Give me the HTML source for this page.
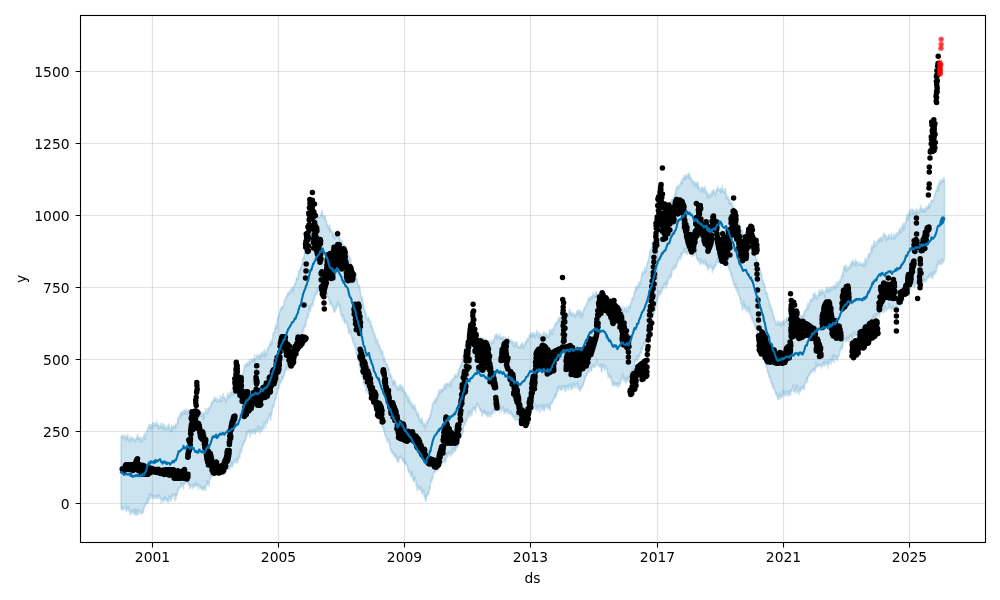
<!DOCTYPE html>
<html><head><meta charset="utf-8"><title>forecast</title>
<style>html,body{margin:0;padding:0;background:#fff}svg{display:block}text{font-family:"DejaVu Sans","Liberation Sans",sans-serif;font-size:13.89px;fill:#000}</style>
</head><body>
<svg width="1000" height="600" viewBox="0 0 1000 600">
<rect width="1000" height="600" fill="#fff"/>
<path d="M121.0 437.8 121.2 435.7 121.5 436.3 121.8 438.0 122.0 436.2 122.2 436.5 122.5 438.1 122.8 434.8 123.0 435.5 123.2 437.7 123.5 437.1 123.8 436.2 124.0 435.6 124.2 438.3 124.5 439.8 124.8 439.3 125.0 440.7 125.2 438.5 125.5 436.2 125.8 435.3 126.0 438.0 126.2 437.9 126.5 437.4 126.8 439.6 127.0 436.5 127.2 437.0 127.5 437.1 127.8 434.3 128.0 437.0 128.2 440.0 128.5 441.2 128.8 440.3 129.0 437.3 129.2 437.8 129.5 439.1 129.8 442.1 130.0 440.2 130.2 439.5 130.5 440.7 130.8 440.8 131.0 436.8 131.2 436.6 131.5 438.5 131.8 439.1 132.0 439.0 132.2 437.6 132.5 439.3 132.8 438.2 133.0 438.9 133.2 441.3 133.5 440.7 133.8 440.9 134.0 439.3 134.2 438.2 134.5 439.6 134.8 440.1 135.0 440.4 135.2 438.9 135.5 439.5 135.8 442.5 136.0 440.8 136.2 439.6 136.5 437.2 136.8 437.5 137.0 437.6 137.2 439.1 137.5 434.5 137.8 434.3 138.0 435.7 138.2 439.4 138.5 437.6 138.8 438.8 139.0 437.8 139.2 437.6 139.5 438.6 139.8 437.1 140.0 441.7 140.2 439.4 140.5 442.0 140.8 437.1 141.0 441.2 141.2 438.7 141.5 438.1 141.8 441.0 142.0 441.0 142.2 441.8 142.5 441.3 142.8 437.8 143.0 438.8 143.2 437.2 143.5 436.6 143.8 437.4 144.0 436.1 144.2 437.0 144.5 433.2 144.8 439.3 145.0 436.9 145.2 439.6 145.5 438.7 145.8 433.8 146.0 434.3 146.2 433.9 146.5 431.9 146.8 430.9 147.0 430.4 147.2 430.9 147.5 430.7 147.8 427.6 148.0 429.1 148.2 429.6 148.5 429.1 148.8 424.8 149.0 424.2 149.2 425.5 149.5 426.2 149.8 426.8 150.0 425.8 150.2 424.5 150.5 428.3 150.8 425.9 151.0 429.7 151.2 424.4 151.5 425.9 151.8 425.1 152.0 429.0 152.2 427.8 152.5 424.5 152.8 422.3 153.0 427.9 153.2 425.7 153.5 423.4 153.8 423.1 154.0 425.6 154.2 425.3 154.5 426.2 154.8 425.0 155.0 423.4 155.2 423.0 155.5 425.3 155.8 424.9 156.0 423.8 156.2 425.0 156.5 420.9 156.8 426.0 157.0 425.4 157.2 424.2 157.5 425.5 157.8 428.3 158.0 427.7 158.2 423.7 158.5 424.4 158.8 425.6 159.0 428.7 159.2 427.5 159.5 426.5 159.8 427.2 160.0 425.9 160.2 425.5 160.5 427.4 160.8 423.5 161.0 428.4 161.2 427.0 161.5 425.7 161.8 425.3 162.0 424.0 162.2 427.6 162.5 426.6 162.8 427.3 163.0 429.5 163.2 423.3 163.5 425.1 163.8 424.7 164.0 428.0 164.2 426.0 164.5 424.8 164.8 427.3 165.0 428.1 165.2 430.1 165.5 428.0 165.8 428.0 166.0 427.6 166.2 427.2 166.5 429.4 166.8 428.8 167.0 425.8 167.2 426.3 167.5 429.5 167.8 427.7 168.0 428.0 168.2 425.1 168.5 426.6 168.8 424.1 169.0 424.3 169.2 427.8 169.5 429.5 169.8 427.5 170.0 426.8 170.2 429.5 170.5 431.2 170.8 428.6 171.0 428.5 171.2 427.0 171.5 424.9 171.8 426.2 172.0 427.8 172.2 431.8 172.5 429.6 172.8 427.7 173.0 428.1 173.2 427.0 173.5 425.4 173.8 425.9 174.0 426.1 174.2 426.9 174.5 428.5 174.8 429.4 175.0 425.3 175.2 426.2 175.5 423.9 175.8 423.7 176.0 426.6 176.2 427.3 176.5 425.1 176.8 425.0 177.0 424.1 177.2 423.1 177.5 421.1 177.8 417.8 178.0 423.2 178.2 418.2 178.5 419.9 178.8 418.9 179.0 416.1 179.2 418.9 179.5 416.5 179.8 414.6 180.0 413.9 180.2 412.5 180.5 413.7 180.8 417.0 181.0 414.3 181.2 412.3 181.5 414.6 181.8 413.3 182.0 414.8 182.2 411.9 182.5 411.0 182.8 412.1 183.0 411.6 183.2 414.7 183.5 413.9 183.8 414.2 184.0 409.9 184.2 410.9 184.5 411.5 184.8 410.3 185.0 413.3 185.2 409.8 185.5 409.2 185.8 411.3 186.0 412.5 186.2 410.2 186.5 414.4 186.8 413.2 187.0 412.5 187.2 414.5 187.5 409.7 187.8 411.1 188.0 411.3 188.2 411.9 188.5 413.9 188.8 410.1 189.0 410.2 189.2 413.5 189.5 412.6 189.8 414.1 190.0 413.7 190.2 415.0 190.5 414.7 190.8 415.1 191.0 413.5 191.2 412.7 191.5 417.1 191.8 413.1 192.0 413.3 192.2 415.0 192.5 413.9 192.8 415.7 193.0 413.4 193.2 416.2 193.5 413.2 193.8 412.8 194.0 414.5 194.2 416.1 194.5 416.4 194.8 412.5 195.0 413.0 195.2 412.6 195.5 409.3 195.8 413.8 196.0 412.2 196.2 415.0 196.5 414.6 196.8 414.5 197.0 414.9 197.2 416.6 197.5 417.1 197.8 416.4 198.0 421.2 198.2 417.0 198.5 414.9 198.8 415.6 199.0 416.9 199.2 415.7 199.5 414.8 199.8 414.2 200.0 413.5 200.2 412.2 200.5 413.5 200.8 414.2 201.0 412.4 201.2 416.2 201.5 414.7 201.8 413.2 202.0 412.9 202.2 416.0 202.5 412.0 202.8 415.0 203.0 418.9 203.2 414.9 203.5 413.1 203.8 414.3 204.0 414.6 204.2 418.9 204.5 413.3 204.8 413.7 205.0 412.2 205.2 412.4 205.5 408.1 205.8 412.9 206.0 413.3 206.2 411.5 206.5 413.8 206.8 412.6 207.0 412.4 207.2 408.8 207.5 413.7 207.8 412.8 208.0 411.9 208.2 409.3 208.5 408.3 208.8 407.2 209.0 409.2 209.2 409.6 209.5 407.9 209.8 409.5 210.0 406.9 210.2 408.0 210.5 404.9 210.8 406.3 211.0 406.6 211.2 403.2 211.5 403.2 211.8 401.7 212.0 402.8 212.2 401.1 212.5 403.4 212.8 402.1 213.0 402.5 213.2 401.5 213.5 399.2 213.8 398.7 214.0 401.5 214.2 399.9 214.5 401.5 214.8 396.4 215.0 398.4 215.2 401.0 215.5 398.3 215.8 399.2 216.0 397.8 216.2 399.4 216.5 400.2 216.8 401.7 217.0 399.9 217.2 398.4 217.5 401.2 217.8 402.1 218.0 401.8 218.2 400.8 218.5 401.9 218.8 399.5 219.0 399.2 219.2 399.8 219.5 399.8 219.8 401.5 220.0 400.9 220.2 395.6 220.5 401.7 220.8 396.4 221.0 398.2 221.2 401.2 221.5 399.7 221.8 401.0 222.0 400.9 222.2 398.8 222.5 395.4 222.8 397.7 223.0 396.0 223.2 393.5 223.5 397.3 223.8 397.7 224.0 397.4 224.2 396.3 224.5 398.7 224.8 398.2 225.0 399.9 225.2 398.4 225.5 401.5 225.8 398.9 226.0 401.4 226.2 402.8 226.5 398.5 226.8 400.1 227.0 395.2 227.2 397.9 227.5 397.4 227.8 394.3 228.0 393.0 228.2 395.3 228.5 394.8 228.8 396.7 229.0 395.9 229.2 397.4 229.5 397.8 229.8 395.1 230.0 392.0 230.2 396.0 230.5 394.8 230.8 393.7 231.0 395.6 231.2 392.9 231.5 392.1 231.8 392.8 232.0 389.4 232.2 393.6 232.5 391.8 232.8 395.1 233.0 392.9 233.2 391.7 233.5 392.7 233.8 391.3 234.0 392.7 234.2 393.4 234.5 394.2 234.8 392.5 235.0 393.0 235.2 392.8 235.5 391.4 235.8 390.9 236.0 390.3 236.2 388.5 236.5 387.2 236.8 390.4 237.0 390.8 237.2 389.7 237.5 385.7 237.8 390.0 238.0 388.9 238.2 384.5 238.5 384.3 238.8 385.6 239.0 383.0 239.2 384.3 239.5 381.0 239.8 380.2 240.0 382.0 240.2 379.2 240.5 379.9 240.8 379.3 241.0 376.7 241.2 381.0 241.5 377.4 241.8 377.0 242.0 376.1 242.2 376.0 242.5 374.3 242.8 376.5 243.0 373.6 243.2 374.4 243.5 371.1 243.8 370.0 244.0 369.1 244.2 369.3 244.5 364.4 244.8 367.3 245.0 364.8 245.2 367.1 245.5 364.7 245.8 366.7 246.0 364.2 246.2 363.6 246.5 365.3 246.8 363.8 247.0 365.6 247.2 362.4 247.5 365.2 247.8 363.1 248.0 362.1 248.2 365.7 248.5 362.9 248.8 365.2 249.0 362.8 249.2 359.7 249.5 363.1 249.8 362.4 250.0 363.8 250.2 363.7 250.5 361.6 250.8 361.9 251.0 360.6 251.2 358.9 251.5 361.5 251.8 361.4 252.0 360.2 252.2 359.3 252.5 360.6 252.8 358.9 253.0 362.0 253.2 358.8 253.5 358.6 253.8 358.6 254.0 358.1 254.2 358.4 254.5 359.0 254.8 354.6 255.0 361.7 255.2 359.3 255.5 359.0 255.8 358.0 256.0 358.0 256.2 359.3 256.5 359.0 256.8 355.4 257.0 356.2 257.2 354.0 257.5 356.9 257.8 355.5 258.0 355.8 258.2 356.2 258.5 357.6 258.8 358.9 259.0 357.2 259.2 355.1 259.5 357.8 259.8 354.1 260.0 354.9 260.2 354.5 260.5 354.5 260.8 357.9 261.0 354.8 261.2 354.7 261.5 352.4 261.8 353.5 262.0 352.0 262.2 354.0 262.5 356.6 262.8 356.3 263.0 356.7 263.2 355.7 263.5 353.0 263.8 353.4 264.0 350.2 264.2 353.5 264.5 352.7 264.8 355.5 265.0 349.0 265.2 357.4 265.5 353.3 265.8 351.1 266.0 353.6 266.2 353.6 266.5 353.5 266.8 355.1 267.0 350.1 267.2 350.8 267.5 349.1 267.8 347.1 268.0 348.6 268.2 350.0 268.5 346.9 268.8 347.8 269.0 347.9 269.2 346.8 269.5 343.1 269.8 345.5 270.0 343.2 270.2 344.2 270.5 342.6 270.8 346.2 271.0 340.1 271.2 343.3 271.5 340.5 271.8 344.4 272.0 344.3 272.2 338.7 272.5 339.7 272.8 336.1 273.0 333.0 273.2 333.3 273.5 334.7 273.8 334.7 274.0 332.2 274.2 333.0 274.5 331.1 274.8 330.2 275.0 327.1 275.2 328.0 275.5 328.7 275.8 324.5 276.0 329.0 276.2 328.1 276.5 324.5 276.8 327.6 277.0 322.3 277.2 320.5 277.5 319.5 277.8 317.3 278.0 320.0 278.2 316.3 278.5 315.6 278.8 315.3 279.0 317.1 279.2 314.1 279.5 311.5 279.8 311.7 280.0 312.3 280.2 308.7 280.5 310.9 280.8 309.5 281.0 307.6 281.2 306.9 281.5 309.1 281.8 307.4 282.0 309.1 282.2 307.5 282.5 306.0 282.8 306.0 283.0 307.6 283.2 306.4 283.5 306.2 283.8 305.1 284.0 302.2 284.2 301.0 284.5 300.1 284.8 300.1 285.0 300.1 285.2 298.5 285.5 299.7 285.8 297.0 286.0 297.3 286.2 298.0 286.5 298.2 286.8 295.1 287.0 296.9 287.2 296.7 287.5 292.7 287.8 295.1 288.0 292.3 288.2 293.2 288.5 294.6 288.8 291.7 289.0 294.3 289.2 292.7 289.5 293.3 289.8 293.7 290.0 290.6 290.2 289.1 290.5 292.3 290.8 291.3 291.0 291.2 291.2 289.6 291.5 289.3 291.8 288.4 292.0 287.7 292.2 288.1 292.5 287.4 292.8 289.1 293.0 292.9 293.2 287.1 293.5 286.2 293.8 290.0 294.0 286.2 294.2 285.6 294.5 284.3 294.8 284.2 295.0 285.3 295.2 283.6 295.5 281.3 295.8 283.4 296.0 282.8 296.2 278.8 296.5 278.9 296.8 277.0 297.0 278.7 297.2 277.8 297.5 279.8 297.8 276.3 298.0 279.5 298.2 274.3 298.5 271.2 298.8 271.7 299.0 272.9 299.2 273.3 299.5 269.2 299.8 271.4 300.0 269.0 300.2 267.7 300.5 267.2 300.8 269.9 301.0 266.8 301.2 266.9 301.5 264.3 301.8 265.6 302.0 265.0 302.2 264.1 302.5 259.3 302.8 259.4 303.0 257.6 303.2 258.3 303.5 258.3 303.8 256.3 304.0 258.4 304.2 255.0 304.5 252.5 304.8 252.1 305.0 249.6 305.2 247.9 305.5 251.1 305.8 250.8 306.0 247.6 306.2 248.6 306.5 250.5 306.8 245.8 307.0 246.2 307.2 246.0 307.5 244.4 307.8 244.8 308.0 244.0 308.2 243.7 308.5 240.9 308.8 241.7 309.0 239.9 309.2 237.2 309.5 239.1 309.8 236.0 310.0 233.1 310.2 233.1 310.5 235.6 310.8 235.9 311.0 234.1 311.2 232.4 311.5 233.7 311.8 234.8 312.0 230.8 312.2 228.9 312.5 230.2 312.8 228.6 313.0 229.9 313.2 229.3 313.5 228.3 313.8 227.8 314.0 225.4 314.2 226.0 314.5 225.7 314.8 227.3 315.0 223.4 315.2 224.2 315.5 223.2 315.8 223.5 316.0 222.1 316.2 217.1 316.5 223.5 316.8 220.0 317.0 218.6 317.2 218.6 317.5 218.0 317.8 216.4 318.0 218.3 318.2 218.3 318.5 217.3 318.8 217.6 319.0 216.9 319.2 217.9 319.5 216.2 319.8 216.8 320.0 216.0 320.2 214.2 320.5 216.7 320.8 215.0 321.0 213.6 321.2 215.8 321.5 215.3 321.8 210.2 322.0 211.0 322.2 211.6 322.5 213.5 322.8 216.5 323.0 215.9 323.2 215.9 323.5 217.9 323.8 216.8 324.0 215.8 324.2 216.6 324.5 218.7 324.8 215.6 325.0 216.8 325.2 215.5 325.5 219.8 325.8 220.3 326.0 221.7 326.2 220.1 326.5 221.2 326.8 223.5 327.0 223.7 327.2 226.4 327.5 224.9 327.8 224.8 328.0 226.0 328.2 227.5 328.5 229.0 328.8 225.8 329.0 229.3 329.2 225.9 329.5 226.7 329.8 224.9 330.0 230.3 330.2 231.3 330.5 228.6 330.8 230.5 331.0 230.8 331.2 229.4 331.5 232.4 331.8 232.0 332.0 231.3 332.2 232.2 332.5 234.7 332.8 236.5 333.0 233.2 333.2 234.5 333.5 235.5 333.8 231.7 334.0 236.3 334.2 238.4 334.5 235.1 334.8 239.3 335.0 237.1 335.2 238.1 335.5 236.2 335.8 233.7 336.0 232.3 336.2 237.5 336.5 230.9 336.8 232.4 337.0 233.5 337.2 232.2 337.5 231.9 337.8 229.7 338.0 232.9 338.2 232.9 338.5 233.3 338.8 237.7 339.0 239.2 339.2 236.4 339.5 237.5 339.8 238.9 340.0 241.6 340.2 238.9 340.5 243.0 340.8 241.9 341.0 241.6 341.2 240.9 341.5 242.6 341.8 242.8 342.0 244.6 342.2 241.0 342.5 245.9 342.8 244.8 343.0 245.7 343.2 245.8 343.5 246.2 343.8 249.6 344.0 244.8 344.2 247.4 344.5 247.0 344.8 247.3 345.0 247.6 345.2 249.1 345.5 246.9 345.8 250.3 346.0 252.3 346.2 251.9 346.5 248.4 346.8 250.5 347.0 252.0 347.2 255.5 347.5 254.7 347.8 254.4 348.0 254.2 348.2 256.1 348.5 254.1 348.8 256.7 349.0 257.5 349.2 258.1 349.5 256.3 349.8 259.2 350.0 261.3 350.2 261.4 350.5 261.3 350.8 257.7 351.0 265.3 351.2 267.6 351.5 267.5 351.8 266.8 352.0 266.9 352.2 271.3 352.5 266.5 352.8 267.4 353.0 269.8 353.2 270.0 353.5 266.2 353.8 271.2 354.0 271.8 354.2 269.5 354.5 273.7 354.8 274.7 355.0 272.6 355.2 275.9 355.5 279.3 355.8 279.7 356.0 275.4 356.2 277.4 356.5 279.1 356.8 281.0 357.0 278.2 357.2 279.3 357.5 283.1 357.8 283.2 358.0 285.3 358.2 284.5 358.5 286.9 358.8 284.8 359.0 285.7 359.2 285.8 359.5 285.6 359.8 289.2 360.0 287.5 360.2 290.1 360.5 293.5 360.8 294.6 361.0 296.3 361.2 295.9 361.5 297.3 361.8 300.5 362.0 298.8 362.2 300.4 362.5 296.6 362.8 300.5 363.0 304.3 363.2 303.1 363.5 304.8 363.8 308.1 364.0 306.4 364.2 310.6 364.5 310.8 364.8 310.4 365.0 308.9 365.2 315.0 365.5 311.9 365.8 312.2 366.0 317.0 366.2 314.7 366.5 318.1 366.8 318.0 367.0 319.2 367.2 318.2 367.5 319.7 367.8 320.2 368.0 316.5 368.2 318.5 368.5 317.6 368.8 317.7 369.0 317.9 369.2 320.8 369.5 321.3 369.8 321.4 370.0 322.1 370.2 322.3 370.5 321.1 370.8 321.2 371.0 324.9 371.2 327.0 371.5 324.8 371.8 325.0 372.0 327.7 372.2 331.1 372.5 330.2 372.8 328.6 373.0 327.7 373.2 331.0 373.5 333.1 373.8 333.3 374.0 334.7 374.2 332.8 374.5 336.1 374.8 337.8 375.0 333.9 375.2 335.0 375.5 339.1 375.8 342.0 376.0 339.6 376.2 339.4 376.5 341.4 376.8 340.2 377.0 338.3 377.2 340.8 377.5 344.3 377.8 340.6 378.0 340.8 378.2 345.2 378.5 345.1 378.8 347.2 379.0 344.5 379.2 345.0 379.5 346.9 379.8 345.5 380.0 347.1 380.2 347.8 380.5 350.1 380.8 348.7 381.0 349.5 381.2 351.5 381.5 353.6 381.8 353.1 382.0 351.7 382.2 351.4 382.5 351.5 382.8 351.0 383.0 354.5 383.2 356.0 383.5 360.3 383.8 359.1 384.0 360.0 384.2 361.8 384.5 356.9 384.8 359.8 385.0 360.3 385.2 362.5 385.5 361.3 385.8 364.8 386.0 364.5 386.2 364.8 386.5 365.4 386.8 363.5 387.0 367.3 387.2 364.9 387.5 364.1 387.8 369.1 388.0 369.2 388.2 368.0 388.5 367.5 388.8 368.8 389.0 370.8 389.2 369.3 389.5 374.8 389.8 375.7 390.0 374.0 390.2 376.6 390.5 373.7 390.8 373.7 391.0 377.1 391.2 377.1 391.5 376.8 391.8 376.4 392.0 377.4 392.2 380.8 392.5 379.8 392.8 385.3 393.0 380.0 393.2 381.6 393.5 381.2 393.8 381.2 394.0 383.5 394.2 380.0 394.5 381.5 394.8 380.7 395.0 381.7 395.2 385.2 395.5 382.3 395.8 383.3 396.0 386.6 396.2 385.1 396.5 387.1 396.8 389.8 397.0 387.3 397.2 387.5 397.5 385.6 397.8 389.7 398.0 389.2 398.2 386.6 398.5 388.1 398.8 388.2 399.0 387.1 399.2 386.9 399.5 390.4 399.8 384.5 400.0 384.4 400.2 386.7 400.5 386.1 400.8 384.4 401.0 388.0 401.2 388.8 401.5 391.2 401.8 386.9 402.0 386.5 402.2 388.4 402.5 385.6 402.8 387.6 403.0 388.3 403.2 390.2 403.5 389.0 403.8 391.3 404.0 389.4 404.2 394.0 404.5 392.4 404.8 391.6 405.0 392.3 405.2 393.4 405.5 393.0 405.8 392.2 406.0 395.8 406.2 395.5 406.5 393.2 406.8 396.3 407.0 395.2 407.2 397.5 407.5 396.2 407.8 400.6 408.0 397.5 408.2 400.9 408.5 396.2 408.8 399.8 409.0 398.5 409.2 403.1 409.5 400.5 409.8 399.1 410.0 399.2 410.2 400.7 410.5 403.5 410.8 402.7 411.0 402.7 411.2 405.0 411.5 404.8 411.8 402.0 412.0 405.3 412.2 408.4 412.5 404.0 412.8 404.2 413.0 406.1 413.2 406.4 413.5 406.1 413.8 406.9 414.0 409.2 414.2 408.0 414.5 405.1 414.8 404.8 415.0 405.6 415.2 409.3 415.5 408.2 415.8 408.5 416.0 412.3 416.2 410.7 416.5 410.6 416.8 412.5 417.0 415.3 417.2 413.0 417.5 415.7 417.8 415.2 418.0 416.8 418.2 412.5 418.5 413.6 418.8 415.0 419.0 419.9 419.2 420.9 419.5 417.3 419.8 419.6 420.0 421.5 420.2 420.1 420.5 422.4 420.8 419.6 421.0 418.5 421.2 422.6 421.5 423.0 421.8 418.2 422.0 417.8 422.2 420.6 422.5 419.6 422.8 423.5 423.0 422.4 423.2 426.1 423.5 423.9 423.8 424.4 424.0 425.5 424.2 424.0 424.5 423.0 424.8 427.0 425.0 423.6 425.2 429.2 425.5 425.7 425.8 425.5 426.0 426.5 426.2 424.7 426.5 424.1 426.8 420.5 427.0 420.8 427.2 422.3 427.5 423.2 427.8 420.9 428.0 422.3 428.2 418.9 428.5 419.5 428.8 420.1 429.0 418.2 429.2 417.4 429.5 417.1 429.8 417.1 430.0 418.0 430.2 413.8 430.5 414.8 430.8 415.5 431.0 411.8 431.2 410.6 431.5 409.4 431.8 410.8 432.0 404.7 432.2 408.1 432.5 405.2 432.8 403.2 433.0 403.9 433.2 404.1 433.5 401.4 433.8 401.8 434.0 402.2 434.2 400.8 434.5 401.4 434.8 403.0 435.0 401.5 435.2 397.9 435.5 400.0 435.8 402.2 436.0 398.1 436.2 400.0 436.5 399.1 436.8 399.9 437.0 396.5 437.2 396.8 437.5 399.2 437.8 396.2 438.0 393.0 438.2 395.4 438.5 394.4 438.8 396.1 439.0 390.1 439.2 392.1 439.5 394.1 439.8 389.5 440.0 391.1 440.2 391.7 440.5 391.2 440.8 391.0 441.0 392.6 441.2 389.2 441.5 389.3 441.8 392.1 442.0 388.9 442.2 390.3 442.5 389.0 442.8 389.9 443.0 389.1 443.2 389.0 443.5 390.8 443.8 387.6 444.0 384.8 444.2 386.0 444.5 389.1 444.8 388.2 445.0 386.0 445.2 384.2 445.5 385.6 445.8 388.7 446.0 387.2 446.2 387.1 446.5 382.7 446.8 383.0 447.0 384.0 447.2 383.3 447.5 384.6 447.8 384.0 448.0 385.7 448.2 383.6 448.5 383.4 448.8 385.8 449.0 385.9 449.2 385.9 449.5 384.9 449.8 384.8 450.0 381.5 450.2 380.9 450.5 382.1 450.8 384.1 451.0 387.4 451.2 384.6 451.5 381.6 451.8 381.5 452.0 378.7 452.2 379.9 452.5 379.4 452.8 379.3 453.0 379.0 453.2 378.9 453.5 378.9 453.8 377.2 454.0 378.7 454.2 375.7 454.5 378.4 454.8 377.1 455.0 378.5 455.2 375.5 455.5 375.1 455.8 374.0 456.0 376.7 456.2 376.3 456.5 375.2 456.8 376.2 457.0 377.3 457.2 376.5 457.5 375.4 457.8 372.5 458.0 373.3 458.2 372.4 458.5 369.2 458.8 374.8 459.0 369.3 459.2 370.6 459.5 367.0 459.8 368.2 460.0 368.7 460.2 367.6 460.5 364.5 460.8 364.8 461.0 367.5 461.2 364.8 461.5 363.3 461.8 364.3 462.0 358.3 462.2 362.0 462.5 362.0 462.8 362.1 463.0 358.7 463.2 356.3 463.5 359.1 463.8 358.7 464.0 351.9 464.2 350.6 464.5 350.4 464.8 349.4 465.0 346.0 465.2 345.0 465.5 347.7 465.8 347.1 466.0 347.4 466.2 345.9 466.5 345.5 466.8 347.8 467.0 349.7 467.2 345.3 467.5 341.8 467.8 345.3 468.0 344.3 468.2 345.5 468.5 346.5 468.8 345.4 469.0 342.3 469.2 342.2 469.5 345.8 469.8 344.6 470.0 347.6 470.2 345.4 470.5 343.7 470.8 343.0 471.0 341.9 471.2 339.9 471.5 338.7 471.8 341.2 472.0 342.6 472.2 341.3 472.5 342.4 472.8 340.2 473.0 339.9 473.2 339.5 473.5 341.3 473.8 339.9 474.0 335.7 474.2 339.9 474.5 339.5 474.8 337.6 475.0 339.0 475.2 337.5 475.5 337.3 475.8 336.6 476.0 340.4 476.2 338.9 476.5 336.6 476.8 336.7 477.0 338.3 477.2 338.9 477.5 338.2 477.8 336.9 478.0 337.3 478.2 339.2 478.5 339.1 478.8 339.5 479.0 339.3 479.2 340.3 479.5 339.2 479.8 337.7 480.0 337.0 480.2 337.9 480.5 337.2 480.8 339.8 481.0 340.9 481.2 340.7 481.5 339.4 481.8 340.0 482.0 342.5 482.2 340.6 482.5 340.0 482.8 338.8 483.0 337.4 483.2 341.3 483.5 338.3 483.8 338.3 484.0 342.7 484.2 338.9 484.5 342.0 484.8 341.3 485.0 342.0 485.2 340.1 485.5 339.0 485.8 339.0 486.0 341.9 486.2 341.6 486.5 339.9 486.8 340.6 487.0 342.0 487.2 343.1 487.5 344.9 487.8 344.9 488.0 343.2 488.2 345.3 488.5 344.6 488.8 345.3 489.0 342.0 489.2 344.9 489.5 345.2 489.8 339.9 490.0 344.4 490.2 343.9 490.5 344.7 490.8 342.7 491.0 344.6 491.2 341.8 491.5 341.9 491.8 342.9 492.0 343.0 492.2 340.3 492.5 343.4 492.8 342.8 493.0 342.7 493.2 339.9 493.5 342.9 493.8 341.2 494.0 340.3 494.2 338.6 494.5 336.8 494.8 336.3 495.0 334.7 495.2 338.1 495.5 336.7 495.8 336.8 496.0 337.3 496.2 335.9 496.5 333.4 496.8 335.7 497.0 335.2 497.2 339.2 497.5 338.2 497.8 335.9 498.0 335.3 498.2 336.3 498.5 336.8 498.8 335.5 499.0 337.0 499.2 335.1 499.5 337.8 499.8 339.3 500.0 333.6 500.2 337.9 500.5 337.3 500.8 338.6 501.0 338.2 501.2 337.5 501.5 337.5 501.8 337.0 502.0 336.8 502.2 339.4 502.5 338.2 502.8 338.4 503.0 336.4 503.2 336.4 503.5 340.6 503.8 337.3 504.0 340.8 504.2 337.3 504.5 342.6 504.8 341.7 505.0 339.9 505.2 339.8 505.5 336.7 505.8 340.2 506.0 340.6 506.2 340.1 506.5 338.8 506.8 342.8 507.0 339.6 507.2 339.4 507.5 337.9 507.8 339.3 508.0 343.3 508.2 340.2 508.5 336.8 508.8 341.0 509.0 343.8 509.2 341.6 509.5 338.6 509.8 340.8 510.0 338.7 510.2 342.4 510.5 340.5 510.8 340.7 511.0 340.9 511.2 340.2 511.5 343.7 511.8 343.2 512.0 340.4 512.2 341.4 512.5 344.2 512.8 341.1 513.0 342.1 513.2 341.6 513.5 346.7 513.8 345.4 514.0 344.5 514.2 344.6 514.5 343.0 514.8 347.2 515.0 344.9 515.2 344.7 515.5 341.6 515.8 342.6 516.0 343.0 516.2 344.4 516.5 342.3 516.8 344.0 517.0 345.5 517.2 342.0 517.5 347.5 517.8 346.3 518.0 345.4 518.2 346.6 518.5 348.4 518.8 347.1 519.0 347.6 519.2 347.1 519.5 348.3 519.8 346.0 520.0 348.3 520.2 348.3 520.5 347.1 520.8 344.6 521.0 346.7 521.2 345.2 521.5 346.7 521.8 343.6 522.0 342.5 522.2 342.8 522.5 343.9 522.8 348.5 523.0 346.6 523.2 347.6 523.5 344.7 523.8 347.9 524.0 346.3 524.2 344.1 524.5 346.9 524.8 343.9 525.0 341.1 525.2 342.3 525.5 344.9 525.8 343.7 526.0 342.4 526.2 341.8 526.5 340.9 526.8 341.3 527.0 338.4 527.2 340.9 527.5 338.3 527.8 341.6 528.0 339.4 528.2 338.4 528.5 339.1 528.8 338.3 529.0 338.0 529.2 334.9 529.5 335.2 529.8 335.8 530.0 335.7 530.2 335.2 530.5 337.3 530.8 332.4 531.0 334.8 531.2 334.3 531.5 335.5 531.8 334.5 532.0 336.1 532.2 333.1 532.5 332.9 532.8 337.5 533.0 333.6 533.2 332.9 533.5 335.4 533.8 333.0 534.0 334.6 534.2 335.9 534.5 333.0 534.8 334.7 535.0 337.5 535.2 337.9 535.5 334.8 535.8 334.7 536.0 335.4 536.2 332.1 536.5 333.7 536.8 333.9 537.0 331.0 537.2 329.9 537.5 334.2 537.8 337.0 538.0 336.2 538.2 337.5 538.5 332.6 538.8 336.0 539.0 337.8 539.2 334.0 539.5 332.2 539.8 334.7 540.0 335.3 540.2 335.6 540.5 334.5 540.8 337.3 541.0 336.7 541.2 336.0 541.5 334.7 541.8 336.2 542.0 334.0 542.2 336.9 542.5 337.1 542.8 337.3 543.0 332.4 543.2 335.6 543.5 335.1 543.8 335.9 544.0 331.8 544.2 333.7 544.5 334.4 544.8 337.1 545.0 333.4 545.2 335.8 545.5 335.5 545.8 338.9 546.0 335.9 546.2 332.8 546.5 334.4 546.8 335.1 547.0 336.6 547.2 336.4 547.5 335.1 547.8 334.4 548.0 337.1 548.2 335.5 548.5 337.7 548.8 336.5 549.0 331.6 549.2 329.5 549.5 332.2 549.8 334.6 550.0 332.7 550.2 332.8 550.5 335.0 550.8 333.3 551.0 329.2 551.2 332.0 551.5 330.2 551.8 329.1 552.0 332.4 552.2 332.2 552.5 334.5 552.8 330.8 553.0 328.0 553.2 328.0 553.5 330.0 553.8 330.2 554.0 327.2 554.2 326.5 554.5 325.6 554.8 323.8 555.0 324.6 555.2 322.9 555.5 325.8 555.8 325.6 556.0 325.3 556.2 322.6 556.5 323.1 556.8 321.8 557.0 323.1 557.2 321.4 557.5 321.8 557.8 323.3 558.0 323.1 558.2 318.1 558.5 319.0 558.8 317.8 559.0 320.9 559.2 317.5 559.5 321.5 559.8 317.9 560.0 320.0 560.2 316.8 560.5 317.4 560.8 317.7 561.0 316.8 561.2 316.3 561.5 318.7 561.8 318.1 562.0 316.5 562.2 314.7 562.5 311.6 562.8 316.0 563.0 310.2 563.2 314.8 563.5 314.5 563.8 312.4 564.0 315.7 564.2 314.2 564.5 317.3 564.8 314.9 565.0 313.4 565.2 313.9 565.5 316.2 565.8 313.3 566.0 318.7 566.2 315.3 566.5 319.3 566.8 315.7 567.0 316.7 567.2 316.0 567.5 316.2 567.8 316.9 568.0 317.3 568.2 315.0 568.5 314.5 568.8 314.4 569.0 311.7 569.2 309.5 569.5 314.1 569.8 309.2 570.0 311.0 570.2 312.2 570.5 312.6 570.8 311.7 571.0 314.5 571.2 314.6 571.5 316.1 571.8 313.5 572.0 313.5 572.2 315.0 572.5 312.5 572.8 313.8 573.0 314.4 573.2 315.1 573.5 314.9 573.8 314.0 574.0 315.5 574.2 313.2 574.5 316.2 574.8 314.3 575.0 317.5 575.2 317.5 575.5 314.8 575.8 313.7 576.0 314.7 576.2 315.7 576.5 311.5 576.8 312.2 577.0 314.6 577.2 312.5 577.5 311.8 577.8 309.6 578.0 312.0 578.2 310.4 578.5 313.5 578.8 313.2 579.0 315.3 579.2 310.5 579.5 313.3 579.8 310.1 580.0 310.1 580.2 311.4 580.5 311.2 580.8 316.7 581.0 313.7 581.2 313.5 581.5 318.1 581.8 312.0 582.0 312.7 582.2 313.3 582.5 312.7 582.8 313.5 583.0 315.4 583.2 310.2 583.5 310.2 583.8 309.5 584.0 308.4 584.2 308.1 584.5 309.5 584.8 306.5 585.0 307.9 585.2 308.1 585.5 307.2 585.8 306.5 586.0 304.9 586.2 304.4 586.5 304.5 586.8 303.3 587.0 302.9 587.2 304.1 587.5 301.8 587.8 300.8 588.0 302.4 588.2 300.7 588.5 297.3 588.8 300.6 589.0 299.6 589.2 300.0 589.5 297.4 589.8 300.8 590.0 299.7 590.2 299.6 590.5 297.1 590.8 296.3 591.0 299.0 591.2 296.1 591.5 296.1 591.8 298.4 592.0 297.6 592.2 296.7 592.5 298.6 592.8 292.9 593.0 295.2 593.2 294.3 593.5 297.4 593.8 297.2 594.0 293.3 594.2 294.7 594.5 295.7 594.8 295.5 595.0 295.7 595.2 296.2 595.5 296.8 595.8 293.5 596.0 291.0 596.2 291.3 596.5 292.8 596.8 292.7 597.0 296.0 597.2 295.5 597.5 296.1 597.8 295.5 598.0 295.0 598.2 293.6 598.5 294.5 598.8 293.5 599.0 295.4 599.2 293.1 599.5 292.9 599.8 293.5 600.0 293.7 600.2 296.2 600.5 296.7 600.8 294.0 601.0 297.2 601.2 295.8 601.5 294.8 601.8 294.4 602.0 293.4 602.2 296.6 602.5 297.8 602.8 293.8 603.0 297.3 603.2 298.3 603.5 298.5 603.8 299.3 604.0 298.8 604.2 298.8 604.5 299.7 604.8 299.5 605.0 300.5 605.2 299.8 605.5 298.2 605.8 299.5 606.0 300.5 606.2 300.8 606.5 296.2 606.8 297.4 607.0 297.4 607.2 298.9 607.5 298.6 607.8 300.8 608.0 300.5 608.2 304.9 608.5 301.9 608.8 302.6 609.0 303.9 609.2 304.7 609.5 306.2 609.8 305.6 610.0 305.1 610.2 305.6 610.5 307.4 610.8 306.1 611.0 304.5 611.2 306.0 611.5 308.1 611.8 310.9 612.0 311.2 612.2 307.0 612.5 308.7 612.8 306.4 613.0 306.2 613.2 307.6 613.5 311.8 613.8 310.7 614.0 308.8 614.2 310.5 614.5 310.8 614.8 309.8 615.0 313.4 615.2 308.6 615.5 311.3 615.8 312.2 616.0 313.9 616.2 309.4 616.5 313.1 616.8 311.1 617.0 311.5 617.2 309.4 617.5 313.7 617.8 318.0 618.0 315.1 618.2 311.6 618.5 308.9 618.8 312.8 619.0 313.4 619.2 310.4 619.5 313.3 619.8 309.3 620.0 310.6 620.2 310.4 620.5 308.3 620.8 310.8 621.0 311.7 621.2 309.2 621.5 308.7 621.8 309.4 622.0 307.8 622.2 309.0 622.5 309.9 622.8 305.9 623.0 312.4 623.2 310.6 623.5 310.4 623.8 310.7 624.0 310.2 624.2 310.7 624.5 307.8 624.8 308.1 625.0 308.6 625.2 311.6 625.5 311.5 625.8 311.6 626.0 311.4 626.2 312.4 626.5 306.5 626.8 309.8 627.0 312.1 627.2 309.9 627.5 310.4 627.8 311.9 628.0 309.9 628.2 306.2 628.5 308.7 628.8 306.8 629.0 308.8 629.2 308.7 629.5 306.5 629.8 306.2 630.0 304.3 630.2 308.4 630.5 304.0 630.8 303.2 631.0 302.2 631.2 303.4 631.5 302.1 631.8 299.6 632.0 298.5 632.2 299.5 632.5 299.6 632.8 298.1 633.0 297.1 633.2 297.5 633.5 298.7 633.8 296.9 634.0 294.0 634.2 293.1 634.5 291.4 634.8 292.9 635.0 289.8 635.2 288.9 635.5 292.2 635.8 289.1 636.0 285.9 636.2 289.7 636.5 287.3 636.8 286.8 637.0 289.1 637.2 286.4 637.5 287.7 637.8 287.8 638.0 286.3 638.2 283.7 638.5 282.9 638.8 283.8 639.0 285.7 639.2 281.5 639.5 285.4 639.8 284.6 640.0 285.7 640.2 281.1 640.5 283.4 640.8 279.6 641.0 279.9 641.2 278.5 641.5 274.7 641.8 276.4 642.0 274.8 642.2 274.9 642.5 272.2 642.8 271.0 643.0 274.6 643.2 272.1 643.5 273.1 643.8 273.7 644.0 271.5 644.2 272.2 644.5 270.1 644.8 267.4 645.0 269.7 645.2 271.3 645.5 271.7 645.8 269.3 646.0 272.0 646.2 267.1 646.5 266.8 646.8 265.1 647.0 264.0 647.2 263.3 647.5 262.1 647.8 261.8 648.0 262.9 648.2 262.2 648.5 259.4 648.8 259.2 649.0 255.5 649.2 256.4 649.5 255.0 649.8 250.5 650.0 251.0 650.2 253.6 650.5 250.2 650.8 249.5 651.0 249.2 651.2 249.0 651.5 248.5 651.8 246.6 652.0 249.2 652.2 244.3 652.5 242.4 652.8 241.6 653.0 241.9 653.2 242.2 653.5 243.6 653.8 238.4 654.0 238.1 654.2 238.0 654.5 236.5 654.8 237.2 655.0 233.7 655.2 234.4 655.5 229.5 655.8 231.7 656.0 231.0 656.2 233.4 656.5 227.3 656.8 229.3 657.0 228.4 657.2 225.1 657.5 225.5 657.8 223.6 658.0 222.8 658.2 221.5 658.5 222.4 658.8 221.0 659.0 218.5 659.2 222.0 659.5 219.1 659.8 222.9 660.0 222.7 660.2 220.8 660.5 218.3 660.8 218.3 661.0 217.6 661.2 219.9 661.5 219.1 661.8 222.3 662.0 215.8 662.2 217.5 662.5 219.2 662.8 220.0 663.0 219.2 663.2 214.9 663.5 216.9 663.8 211.2 664.0 215.2 664.2 216.1 664.5 215.8 664.8 210.9 665.0 211.7 665.2 209.6 665.5 211.4 665.8 209.1 666.0 211.4 666.2 208.7 666.5 211.5 666.8 209.7 667.0 208.8 667.2 211.6 667.5 210.6 667.8 206.3 668.0 210.3 668.2 208.2 668.5 209.3 668.8 207.1 669.0 203.6 669.2 205.4 669.5 202.3 669.8 203.1 670.0 202.6 670.2 204.4 670.5 202.0 670.8 202.8 671.0 202.8 671.2 199.8 671.5 203.3 671.8 200.9 672.0 198.8 672.2 199.0 672.5 198.5 672.8 199.5 673.0 200.9 673.2 198.2 673.5 197.4 673.8 201.8 674.0 203.3 674.2 200.1 674.5 196.3 674.8 194.1 675.0 195.7 675.2 192.6 675.5 190.5 675.8 192.6 676.0 194.1 676.2 188.6 676.5 187.5 676.8 187.2 677.0 186.7 677.2 189.2 677.5 185.4 677.8 188.2 678.0 188.0 678.2 188.9 678.5 185.4 678.8 187.7 679.0 187.6 679.2 187.1 679.5 186.6 679.8 184.0 680.0 185.6 680.2 185.3 680.5 184.5 680.8 181.2 681.0 183.4 681.2 181.6 681.5 182.2 681.8 182.8 682.0 178.8 682.2 184.3 682.5 181.1 682.8 179.1 683.0 178.5 683.2 178.7 683.5 178.7 683.8 176.8 684.0 178.7 684.2 175.4 684.5 175.8 684.8 180.2 685.0 176.5 685.2 176.0 685.5 179.3 685.8 176.2 686.0 176.8 686.2 174.7 686.5 178.0 686.8 175.7 687.0 176.3 687.2 176.9 687.5 177.2 687.8 176.3 688.0 174.7 688.2 173.1 688.5 174.8 688.8 175.2 689.0 178.4 689.2 175.1 689.5 173.0 689.8 177.8 690.0 179.1 690.2 176.8 690.5 179.5 690.8 176.2 691.0 178.6 691.2 178.9 691.5 180.9 691.8 182.4 692.0 179.9 692.2 182.2 692.5 180.2 692.8 181.3 693.0 182.8 693.2 180.8 693.5 183.4 693.8 185.7 694.0 184.8 694.2 181.8 694.5 181.3 694.8 183.2 695.0 182.1 695.2 184.5 695.5 182.8 695.8 186.9 696.0 182.5 696.2 183.2 696.5 185.4 696.8 183.6 697.0 182.4 697.2 184.2 697.5 182.6 697.8 188.1 698.0 182.0 698.2 184.4 698.5 187.8 698.8 186.3 699.0 189.2 699.2 189.8 699.5 188.9 699.8 187.7 700.0 188.3 700.2 189.2 700.5 191.8 700.8 190.5 701.0 191.0 701.2 187.4 701.5 188.7 701.8 188.3 702.0 188.3 702.2 186.9 702.5 189.6 702.8 190.6 703.0 192.5 703.2 188.0 703.5 188.5 703.8 188.9 704.0 188.1 704.2 187.2 704.5 190.3 704.8 186.2 705.0 189.4 705.2 188.2 705.5 193.1 705.8 190.2 706.0 191.2 706.2 192.6 706.5 190.5 706.8 193.3 707.0 192.9 707.2 198.2 707.5 193.0 707.8 192.9 708.0 195.5 708.2 194.6 708.5 194.7 708.8 194.7 709.0 198.0 709.2 197.0 709.5 197.8 709.8 193.5 710.0 195.9 710.2 194.0 710.5 195.5 710.8 193.5 711.0 197.0 711.2 193.0 711.5 196.3 711.8 195.6 712.0 190.6 712.2 195.8 712.5 190.5 712.8 193.8 713.0 190.2 713.2 191.8 713.5 192.0 713.8 189.7 714.0 189.6 714.2 193.4 714.5 191.7 714.8 194.0 715.0 191.9 715.2 196.4 715.5 192.5 715.8 194.5 716.0 191.6 716.2 190.6 716.5 191.3 716.8 188.6 717.0 188.3 717.2 190.7 717.5 188.9 717.8 186.3 718.0 189.8 718.2 187.8 718.5 189.5 718.8 190.8 719.0 190.8 719.2 191.3 719.5 190.1 719.8 189.3 720.0 189.5 720.2 188.3 720.5 188.1 720.8 192.9 721.0 189.9 721.2 191.8 721.5 189.1 721.8 191.4 722.0 185.1 722.2 188.4 722.5 188.0 722.8 190.6 723.0 192.3 723.2 189.5 723.5 190.4 723.8 192.5 724.0 191.7 724.2 191.1 724.5 192.6 724.8 189.3 725.0 193.7 725.2 192.5 725.5 188.1 725.8 192.1 726.0 194.2 726.2 198.8 726.5 195.4 726.8 193.7 727.0 198.1 727.2 196.7 727.5 196.8 727.8 199.6 728.0 196.7 728.2 196.4 728.5 200.0 728.8 200.1 729.0 202.4 729.2 200.9 729.5 204.4 729.8 199.1 730.0 198.9 730.2 203.3 730.5 203.0 730.8 204.3 731.0 203.6 731.2 203.4 731.5 202.1 731.8 204.7 732.0 205.1 732.2 202.7 732.5 209.1 732.8 208.9 733.0 205.8 733.2 209.4 733.5 206.4 733.8 209.0 734.0 207.6 734.2 209.1 734.5 208.1 734.8 211.6 735.0 211.1 735.2 211.6 735.5 211.2 735.8 214.5 736.0 219.0 736.2 215.9 736.5 216.2 736.8 215.6 737.0 216.8 737.2 216.9 737.5 216.7 737.8 219.3 738.0 221.3 738.2 223.7 738.5 223.2 738.8 223.9 739.0 226.3 739.2 226.4 739.5 225.1 739.8 223.5 740.0 226.6 740.2 228.4 740.5 229.6 740.8 229.0 741.0 234.9 741.2 230.0 741.5 231.6 741.8 229.7 742.0 230.1 742.2 232.2 742.5 234.6 742.8 235.8 743.0 230.6 743.2 237.0 743.5 237.2 743.8 237.2 744.0 235.9 744.2 235.2 744.5 235.9 744.8 236.9 745.0 232.6 745.2 235.0 745.5 234.1 745.8 233.0 746.0 235.1 746.2 231.9 746.5 233.4 746.8 234.1 747.0 235.1 747.2 238.7 747.5 235.0 747.8 235.2 748.0 239.7 748.2 240.0 748.5 237.4 748.8 242.9 749.0 237.2 749.2 240.8 749.5 238.4 749.8 239.3 750.0 243.0 750.2 240.2 750.5 239.2 750.8 242.5 751.0 246.7 751.2 243.4 751.5 242.7 751.8 244.7 752.0 243.8 752.2 244.7 752.5 246.6 752.8 249.0 753.0 247.1 753.2 249.4 753.5 250.9 753.8 254.0 754.0 249.5 754.2 252.5 754.5 251.5 754.8 256.1 755.0 255.4 755.2 254.5 755.5 255.5 755.8 255.9 756.0 255.1 756.2 260.1 756.5 259.7 756.8 258.9 757.0 261.2 757.2 262.6 757.5 265.6 757.8 263.0 758.0 267.2 758.2 263.6 758.5 266.8 758.8 265.0 759.0 266.0 759.2 270.1 759.5 268.1 759.8 267.5 760.0 268.7 760.2 270.0 760.5 271.9 760.8 271.6 761.0 272.9 761.2 273.0 761.5 275.6 761.8 273.4 762.0 278.3 762.2 278.7 762.5 280.0 762.8 279.5 763.0 279.9 763.2 284.4 763.5 282.4 763.8 284.5 764.0 283.0 764.2 283.9 764.5 284.2 764.8 286.2 765.0 286.3 765.2 287.0 765.5 292.8 765.8 291.6 766.0 291.5 766.2 293.7 766.5 293.4 766.8 292.1 767.0 292.8 767.2 294.8 767.5 297.5 767.8 294.6 768.0 299.3 768.2 297.1 768.5 300.3 768.8 299.5 769.0 301.3 769.2 303.7 769.5 305.7 769.8 303.5 770.0 307.6 770.2 303.1 770.5 307.1 770.8 308.9 771.0 308.5 771.2 310.5 771.5 307.2 771.8 310.7 772.0 312.7 772.2 310.1 772.5 310.6 772.8 314.1 773.0 314.5 773.2 314.2 773.5 317.4 773.8 316.0 774.0 315.8 774.2 318.7 774.5 317.7 774.8 319.0 775.0 320.6 775.2 320.7 775.5 323.0 775.8 323.2 776.0 324.6 776.2 322.8 776.5 324.9 776.8 325.4 777.0 325.6 777.2 320.9 777.5 322.0 777.8 323.2 778.0 323.9 778.2 323.2 778.5 323.7 778.8 324.6 779.0 322.0 779.2 321.2 779.5 325.7 779.8 323.4 780.0 321.4 780.2 321.8 780.5 325.9 780.8 321.9 781.0 322.3 781.2 326.5 781.5 322.8 781.8 323.1 782.0 324.3 782.2 322.1 782.5 321.6 782.8 321.9 783.0 320.7 783.2 321.7 783.5 323.3 783.8 320.9 784.0 325.1 784.2 322.6 784.5 322.3 784.8 321.6 785.0 322.9 785.2 319.4 785.5 321.3 785.8 322.4 786.0 322.0 786.2 317.5 786.5 321.1 786.8 317.7 787.0 318.0 787.2 318.4 787.5 319.9 787.8 318.7 788.0 319.9 788.2 321.6 788.5 318.9 788.8 318.8 789.0 319.0 789.2 319.9 789.5 320.0 789.8 319.7 790.0 319.6 790.2 318.3 790.5 318.9 790.8 317.8 791.0 318.0 791.2 314.5 791.5 316.2 791.8 319.0 792.0 320.2 792.2 320.0 792.5 319.2 792.8 318.4 793.0 319.6 793.2 319.3 793.5 319.2 793.8 322.3 794.0 318.3 794.2 319.1 794.5 320.5 794.8 315.9 795.0 317.2 795.2 320.7 795.5 319.8 795.8 319.3 796.0 321.1 796.2 317.2 796.5 322.5 796.8 319.1 797.0 317.4 797.2 320.4 797.5 319.4 797.8 318.4 798.0 318.2 798.2 314.9 798.5 313.8 798.8 317.0 799.0 318.5 799.2 315.9 799.5 316.5 799.8 315.2 800.0 315.8 800.2 318.0 800.5 319.2 800.8 317.4 801.0 318.9 801.2 315.1 801.5 316.5 801.8 317.2 802.0 315.2 802.2 316.0 802.5 316.4 802.8 317.5 803.0 319.4 803.2 317.1 803.5 314.7 803.8 311.4 804.0 315.7 804.2 316.1 804.5 314.3 804.8 312.3 805.0 311.5 805.2 312.4 805.5 309.8 805.8 310.6 806.0 309.6 806.2 310.3 806.5 308.6 806.8 308.6 807.0 306.0 807.2 308.0 807.5 308.9 807.8 302.7 808.0 309.8 808.2 307.9 808.5 304.9 808.8 306.6 809.0 304.2 809.2 303.7 809.5 305.9 809.8 302.4 810.0 301.4 810.2 299.6 810.5 300.6 810.8 299.7 811.0 299.7 811.2 298.4 811.5 301.3 811.8 299.0 812.0 299.7 812.2 301.3 812.5 300.2 812.8 297.7 813.0 299.8 813.2 294.2 813.5 299.3 813.8 293.7 814.0 294.0 814.2 295.5 814.5 294.9 814.8 292.1 815.0 293.7 815.2 297.5 815.5 294.4 815.8 297.9 816.0 299.0 816.2 299.0 816.5 297.6 816.8 297.0 817.0 295.3 817.2 299.1 817.5 297.3 817.8 296.4 818.0 295.1 818.2 296.0 818.5 292.1 818.8 294.9 819.0 291.9 819.2 289.6 819.5 295.4 819.8 291.5 820.0 292.6 820.2 290.9 820.5 292.4 820.8 295.5 821.0 291.7 821.2 292.6 821.5 289.5 821.8 293.0 822.0 289.8 822.2 292.5 822.5 290.3 822.8 292.7 823.0 293.1 823.2 290.1 823.5 293.3 823.8 292.3 824.0 294.6 824.2 292.9 824.5 291.8 824.8 297.6 825.0 293.6 825.2 290.3 825.5 292.2 825.8 290.7 826.0 291.9 826.2 288.0 826.5 291.9 826.8 286.9 827.0 288.8 827.2 288.2 827.5 288.4 827.8 292.5 828.0 290.7 828.2 287.4 828.5 288.6 828.8 289.6 829.0 290.2 829.2 288.6 829.5 288.6 829.8 292.6 830.0 287.9 830.2 288.7 830.5 286.7 830.8 289.7 831.0 287.3 831.2 289.6 831.5 290.4 831.8 289.5 832.0 287.3 832.2 287.7 832.5 287.9 832.8 288.6 833.0 287.2 833.2 285.6 833.5 286.5 833.8 285.8 834.0 284.9 834.2 287.0 834.5 287.4 834.8 285.7 835.0 289.7 835.2 285.5 835.5 287.2 835.8 288.8 836.0 282.2 836.2 285.6 836.5 286.3 836.8 286.2 837.0 285.5 837.2 286.0 837.5 282.2 837.8 283.6 838.0 285.7 838.2 281.2 838.5 284.9 838.8 284.1 839.0 284.4 839.2 284.2 839.5 282.9 839.8 281.1 840.0 279.1 840.2 281.3 840.5 279.9 840.8 280.7 841.0 278.8 841.2 278.6 841.5 275.1 841.8 276.9 842.0 276.6 842.2 272.9 842.5 274.6 842.8 274.2 843.0 276.6 843.2 271.6 843.5 270.3 843.8 267.1 844.0 266.6 844.2 265.4 844.5 265.8 844.8 270.1 845.0 268.3 845.2 269.0 845.5 266.7 845.8 265.6 846.0 265.0 846.2 272.0 846.5 271.2 846.8 267.4 847.0 271.0 847.2 269.9 847.5 267.8 847.8 266.6 848.0 269.3 848.2 268.9 848.5 268.4 848.8 266.8 849.0 266.2 849.2 266.6 849.5 266.7 849.8 269.2 850.0 266.6 850.2 266.9 850.5 264.7 850.8 263.5 851.0 263.7 851.2 263.6 851.5 261.5 851.8 263.7 852.0 266.1 852.2 262.3 852.5 261.1 852.8 261.4 853.0 259.7 853.2 263.4 853.5 263.9 853.8 261.3 854.0 261.8 854.2 261.8 854.5 265.3 854.8 263.8 855.0 263.9 855.2 266.3 855.5 259.3 855.8 262.7 856.0 262.1 856.2 261.2 856.5 261.6 856.8 263.7 857.0 261.3 857.2 261.2 857.5 265.9 857.8 264.4 858.0 264.1 858.2 265.6 858.5 265.6 858.8 263.3 859.0 264.7 859.2 263.9 859.5 263.7 859.8 261.7 860.0 264.1 860.2 263.9 860.5 263.9 860.8 265.5 861.0 264.3 861.2 264.8 861.5 264.0 861.8 264.1 862.0 265.5 862.2 265.5 862.5 263.1 862.8 262.9 863.0 266.7 863.2 264.2 863.5 265.3 863.8 263.1 864.0 264.2 864.2 266.1 864.5 265.9 864.8 261.3 865.0 260.3 865.2 257.4 865.5 263.0 865.8 266.0 866.0 264.5 866.2 263.0 866.5 263.0 866.8 258.7 867.0 261.2 867.2 261.7 867.5 261.1 867.8 258.6 868.0 255.3 868.2 255.4 868.5 254.0 868.8 257.1 869.0 255.4 869.2 253.7 869.5 253.1 869.8 253.6 870.0 253.0 870.2 254.5 870.5 253.9 870.8 252.7 871.0 252.4 871.2 246.8 871.5 249.1 871.8 246.8 872.0 245.0 872.2 251.5 872.5 246.4 872.8 246.9 873.0 246.0 873.2 244.6 873.5 248.0 873.8 240.8 874.0 243.5 874.2 241.6 874.5 246.1 874.8 245.8 875.0 244.8 875.2 241.3 875.5 245.3 875.8 246.1 876.0 245.7 876.2 245.5 876.5 245.3 876.8 241.8 877.0 242.9 877.2 242.1 877.5 241.0 877.8 239.9 878.0 240.8 878.2 239.6 878.5 239.1 878.8 242.8 879.0 240.1 879.2 238.8 879.5 239.4 879.8 240.3 880.0 238.2 880.2 237.8 880.5 239.0 880.8 238.9 881.0 237.2 881.2 237.3 881.5 241.6 881.8 238.3 882.0 239.7 882.2 239.9 882.5 238.2 882.8 236.8 883.0 238.6 883.2 235.3 883.5 235.4 883.8 233.7 884.0 234.5 884.2 233.0 884.5 235.8 884.8 234.1 885.0 237.1 885.2 236.1 885.5 236.0 885.8 235.4 886.0 238.6 886.2 240.6 886.5 237.2 886.8 236.6 887.0 239.0 887.2 237.1 887.5 238.5 887.8 239.3 888.0 236.4 888.2 238.7 888.5 235.0 888.8 234.5 889.0 235.3 889.2 238.7 889.5 235.7 889.8 238.2 890.0 236.2 890.2 237.6 890.5 237.7 890.8 238.4 891.0 236.2 891.2 236.0 891.5 233.0 891.8 237.1 892.0 239.7 892.2 238.6 892.5 239.1 892.8 239.1 893.0 239.3 893.2 235.8 893.5 236.5 893.8 238.0 894.0 237.7 894.2 235.8 894.5 233.2 894.8 237.8 895.0 238.0 895.2 238.7 895.5 236.5 895.8 234.8 896.0 237.1 896.2 236.8 896.5 234.5 896.8 232.6 897.0 232.6 897.2 235.4 897.5 234.7 897.8 234.8 898.0 233.1 898.2 232.5 898.5 234.3 898.8 231.0 899.0 232.3 899.2 229.5 899.5 229.3 899.8 229.3 900.0 227.7 900.2 232.7 900.5 229.4 900.8 230.0 901.0 232.9 901.2 230.6 901.5 232.4 901.8 225.5 902.0 230.7 902.2 229.2 902.5 225.6 902.8 227.2 903.0 225.1 903.2 223.8 903.5 222.9 903.8 230.3 904.0 223.3 904.2 227.0 904.5 229.0 904.8 227.6 905.0 223.9 905.2 223.3 905.5 222.1 905.8 223.0 906.0 220.4 906.2 218.2 906.5 216.2 906.8 220.5 907.0 216.7 907.2 214.7 907.5 220.2 907.8 214.8 908.0 213.1 908.2 214.2 908.5 218.1 908.8 215.6 909.0 215.4 909.2 210.6 909.5 212.3 909.8 212.6 910.0 213.5 910.2 215.8 910.5 214.1 910.8 209.1 911.0 210.8 911.2 211.9 911.5 212.2 911.8 212.3 912.0 213.3 912.2 208.9 912.5 209.3 912.8 214.1 913.0 210.8 913.2 209.3 913.5 210.7 913.8 212.2 914.0 210.9 914.2 212.2 914.5 215.0 914.8 211.1 915.0 212.6 915.2 211.6 915.5 210.9 915.8 214.6 916.0 209.0 916.2 214.9 916.5 210.1 916.8 209.4 917.0 210.8 917.2 212.3 917.5 211.8 917.8 209.8 918.0 211.1 918.2 213.2 918.5 214.0 918.8 210.4 919.0 212.9 919.2 211.9 919.5 211.9 919.8 208.8 920.0 208.3 920.2 210.1 920.5 205.4 920.8 208.6 921.0 209.7 921.2 207.0 921.5 212.4 921.8 212.8 922.0 208.4 922.2 210.2 922.5 210.2 922.8 208.7 923.0 209.0 923.2 210.3 923.5 212.1 923.8 209.8 924.0 209.5 924.2 208.9 924.5 208.5 924.8 211.9 925.0 209.7 925.2 209.5 925.5 212.1 925.8 207.4 926.0 208.8 926.2 208.8 926.5 208.9 926.8 206.4 927.0 207.3 927.2 207.5 927.5 209.1 927.8 206.9 928.0 205.8 928.2 205.4 928.5 207.0 928.8 203.2 929.0 208.3 929.2 207.8 929.5 206.6 929.8 204.5 930.0 207.6 930.2 203.4 930.5 206.5 930.8 201.9 931.0 201.3 931.2 200.6 931.5 200.4 931.8 200.0 932.0 201.4 932.2 201.8 932.5 200.8 932.8 200.3 933.0 202.0 933.2 200.5 933.5 200.2 933.8 200.8 934.0 197.9 934.2 197.5 934.5 195.4 934.8 196.4 935.0 193.5 935.2 194.5 935.5 193.2 935.8 190.7 936.0 191.4 936.2 190.5 936.5 190.9 936.8 189.3 937.0 191.6 937.2 187.3 937.5 185.9 937.8 186.1 938.0 184.2 938.2 186.2 938.5 187.1 938.8 191.0 939.0 182.6 939.2 182.7 939.5 183.9 939.8 180.3 940.0 180.9 940.2 184.8 940.5 182.8 940.8 182.2 941.0 183.9 941.2 180.0 941.5 181.7 941.8 181.3 942.0 182.2 942.2 179.2 942.5 180.6 942.8 180.5 943.0 182.1 943.2 180.2 943.5 182.1 943.8 177.3 944.0 180.6 944.2 181.1 944.5 178.4 L944.5 259.1 944.2 259.9 944.0 261.3 943.8 261.2 943.5 261.6 943.2 261.1 943.0 263.5 942.8 261.0 942.5 259.6 942.2 260.7 942.0 260.7 941.8 258.7 941.5 264.8 941.2 261.8 941.0 263.9 940.8 263.5 940.5 262.5 940.2 262.9 940.0 264.0 939.8 263.7 939.5 263.5 939.2 264.6 939.0 260.6 938.8 263.4 938.5 260.4 938.2 263.0 938.0 263.2 937.8 264.6 937.5 267.2 937.2 263.2 937.0 265.2 936.8 266.4 936.5 269.6 936.2 272.3 936.0 272.2 935.8 271.0 935.5 273.8 935.2 271.5 935.0 272.4 934.8 274.0 934.5 272.5 934.2 274.3 934.0 274.5 933.8 274.9 933.5 272.8 933.2 271.4 933.0 276.6 932.8 278.2 932.5 277.2 932.2 275.8 932.0 275.5 931.8 278.7 931.5 273.3 931.2 277.3 931.0 275.8 930.8 275.9 930.5 272.5 930.2 273.0 930.0 274.3 929.8 276.7 929.5 276.9 929.2 275.9 929.0 274.4 928.8 276.2 928.5 277.4 928.2 278.6 928.0 276.4 927.8 276.9 927.5 278.5 927.2 276.5 927.0 279.7 926.8 279.0 926.5 280.1 926.2 280.8 926.0 281.9 925.8 280.2 925.5 279.5 925.2 280.4 925.0 280.1 924.8 281.9 924.5 278.6 924.2 281.4 924.0 281.7 923.8 282.4 923.5 278.2 923.2 279.1 923.0 280.9 922.8 281.2 922.5 283.9 922.2 277.9 922.0 281.5 921.8 281.4 921.5 280.7 921.2 281.5 921.0 281.4 920.8 280.5 920.5 284.8 920.2 281.6 920.0 284.0 919.8 283.9 919.5 282.2 919.2 281.9 919.0 283.4 918.8 279.7 918.5 280.9 918.2 281.5 918.0 283.4 917.8 278.1 917.5 278.7 917.2 280.9 917.0 278.7 916.8 282.2 916.5 283.6 916.2 281.5 916.0 280.5 915.8 282.3 915.5 282.4 915.2 286.9 915.0 281.9 914.8 282.2 914.5 287.7 914.2 282.0 914.0 284.8 913.8 285.5 913.5 285.3 913.2 285.9 913.0 287.1 912.8 280.6 912.5 283.4 912.2 284.9 912.0 283.8 911.8 284.8 911.5 283.0 911.2 283.9 911.0 284.3 910.8 289.8 910.5 283.7 910.2 287.7 910.0 287.1 909.8 286.1 909.5 289.4 909.2 285.4 909.0 286.1 908.8 287.3 908.5 287.2 908.2 283.9 908.0 289.2 907.8 288.4 907.5 288.5 907.2 288.3 907.0 291.5 906.8 288.9 906.5 291.1 906.2 292.0 906.0 290.2 905.8 291.9 905.5 294.7 905.2 295.8 905.0 294.1 904.8 297.7 904.5 295.7 904.2 296.0 904.0 298.2 903.8 300.5 903.5 301.4 903.2 300.0 903.0 295.9 902.8 298.5 902.5 299.3 902.2 300.4 902.0 304.1 901.8 301.0 901.5 297.3 901.2 303.5 901.0 303.7 900.8 306.0 900.5 304.3 900.2 305.8 900.0 303.6 899.8 303.8 899.5 303.9 899.2 302.4 899.0 303.9 898.8 305.0 898.5 302.3 898.2 302.8 898.0 305.3 897.8 303.6 897.5 305.1 897.2 306.9 897.0 304.6 896.8 306.2 896.5 305.9 896.2 307.0 896.0 306.9 895.8 309.4 895.5 309.1 895.2 307.9 895.0 310.9 894.8 308.4 894.5 308.3 894.2 308.8 894.0 308.5 893.8 310.8 893.5 309.1 893.2 309.0 893.0 308.8 892.8 305.4 892.5 309.0 892.2 309.2 892.0 309.3 891.8 306.2 891.5 307.5 891.2 310.2 891.0 308.8 890.8 306.4 890.5 305.8 890.2 306.7 890.0 308.4 889.8 306.4 889.5 308.8 889.2 308.8 889.0 303.2 888.8 305.9 888.5 308.3 888.2 308.8 888.0 308.3 887.8 308.6 887.5 307.7 887.2 310.2 887.0 307.8 886.8 309.0 886.5 308.6 886.2 311.5 886.0 310.0 885.8 310.0 885.5 308.0 885.2 308.5 885.0 307.9 884.8 305.0 884.5 311.0 884.2 311.8 884.0 306.9 883.8 312.5 883.5 309.9 883.2 311.4 883.0 308.9 882.8 312.8 882.5 309.4 882.2 310.7 882.0 311.2 881.8 308.5 881.5 309.2 881.2 310.6 881.0 312.0 880.8 307.5 880.5 310.9 880.2 307.9 880.0 312.5 879.8 313.5 879.5 317.2 879.2 311.4 879.0 312.0 878.8 314.8 878.5 313.4 878.2 312.2 878.0 314.6 877.8 314.7 877.5 315.7 877.2 315.0 877.0 317.3 876.8 315.8 876.5 316.2 876.2 313.5 876.0 316.6 875.8 321.3 875.5 315.5 875.2 317.8 875.0 315.9 874.8 319.9 874.5 314.8 874.2 314.2 874.0 315.8 873.8 318.8 873.5 319.0 873.2 318.9 873.0 321.7 872.8 316.5 872.5 318.0 872.2 318.6 872.0 322.0 871.8 323.7 871.5 323.1 871.2 322.1 871.0 322.0 870.8 327.0 870.5 323.5 870.2 324.8 870.0 325.3 869.8 331.0 869.5 329.5 869.2 328.3 869.0 330.2 868.8 332.2 868.5 330.9 868.2 329.5 868.0 330.3 867.8 330.9 867.5 333.7 867.2 334.1 867.0 334.1 866.8 330.2 866.5 334.5 866.2 335.9 866.0 333.8 865.8 336.2 865.5 336.9 865.2 334.4 865.0 335.7 864.8 340.1 864.5 336.2 864.2 338.0 864.0 336.8 863.8 337.3 863.5 339.0 863.2 337.8 863.0 335.7 862.8 337.4 862.5 338.2 862.2 334.6 862.0 335.4 861.8 337.8 861.5 337.6 861.2 337.3 861.0 336.9 860.8 335.7 860.5 334.0 860.2 335.9 860.0 334.6 859.8 335.2 859.5 333.7 859.2 334.6 859.0 332.2 858.8 332.7 858.5 334.3 858.2 337.6 858.0 336.4 857.8 336.4 857.5 338.4 857.2 336.3 857.0 336.5 856.8 336.7 856.5 335.2 856.2 333.8 856.0 334.3 855.8 335.9 855.5 333.6 855.2 336.1 855.0 334.9 854.8 331.7 854.5 333.0 854.2 332.6 854.0 336.9 853.8 333.7 853.5 333.5 853.2 333.2 853.0 338.0 852.8 339.3 852.5 333.5 852.2 338.2 852.0 337.9 851.8 342.0 851.5 336.7 851.2 337.4 851.0 335.2 850.8 336.7 850.5 336.6 850.2 335.8 850.0 334.6 849.8 339.4 849.5 338.3 849.2 342.2 849.0 339.7 848.8 341.4 848.5 338.3 848.2 336.1 848.0 337.1 847.8 339.9 847.5 339.3 847.2 341.0 847.0 339.8 846.8 340.7 846.5 340.2 846.2 341.6 846.0 337.3 845.8 340.4 845.5 337.5 845.2 337.8 845.0 339.1 844.8 339.6 844.5 341.0 844.2 339.2 844.0 338.1 843.8 342.8 843.5 343.0 843.2 340.7 843.0 343.6 842.8 345.9 842.5 348.8 842.2 348.1 842.0 349.3 841.8 345.7 841.5 347.8 841.2 348.6 841.0 347.1 840.8 348.8 840.5 348.7 840.2 352.3 840.0 350.9 839.8 351.3 839.5 352.7 839.2 355.9 839.0 355.4 838.8 355.1 838.5 356.8 838.2 356.4 838.0 357.9 837.8 357.8 837.5 360.5 837.2 358.8 837.0 356.7 836.8 359.5 836.5 357.7 836.2 357.6 836.0 356.9 835.8 359.8 835.5 357.3 835.2 359.3 835.0 355.7 834.8 358.2 834.5 354.8 834.2 359.0 834.0 362.5 833.8 356.6 833.5 360.6 833.2 354.7 833.0 359.2 832.8 360.0 832.5 361.6 832.2 357.9 832.0 356.9 831.8 358.5 831.5 362.0 831.2 360.6 831.0 364.8 830.8 362.9 830.5 359.8 830.2 359.0 830.0 363.1 829.8 363.4 829.5 359.5 829.2 359.9 829.0 362.1 828.8 364.9 828.5 362.9 828.2 361.4 828.0 368.3 827.8 361.5 827.5 363.4 827.2 365.4 827.0 365.0 826.8 363.4 826.5 362.7 826.2 364.0 826.0 360.8 825.8 360.8 825.5 364.2 825.2 365.0 825.0 363.5 824.8 365.7 824.5 366.0 824.2 362.4 824.0 361.1 823.8 363.6 823.5 366.1 823.2 362.6 823.0 365.0 822.8 365.1 822.5 364.0 822.2 364.9 822.0 365.9 821.8 366.0 821.5 365.3 821.2 368.3 821.0 365.1 820.8 365.1 820.5 364.5 820.2 364.6 820.0 365.6 819.8 365.2 819.5 366.6 819.2 363.5 819.0 363.7 818.8 365.5 818.5 365.8 818.2 365.4 818.0 365.1 817.8 366.8 817.5 367.0 817.2 366.2 817.0 365.4 816.8 366.9 816.5 366.0 816.2 367.5 816.0 361.8 815.8 366.9 815.5 366.6 815.2 371.5 815.0 369.8 814.8 367.0 814.5 371.6 814.2 368.9 814.0 368.4 813.8 371.9 813.5 371.8 813.2 368.5 813.0 370.4 812.8 369.9 812.5 371.3 812.2 370.2 812.0 369.7 811.8 372.1 811.5 370.6 811.2 372.8 811.0 373.1 810.8 371.2 810.5 373.0 810.2 374.0 810.0 372.3 809.8 375.2 809.5 375.0 809.2 374.2 809.0 376.5 808.8 374.9 808.5 374.4 808.2 377.4 808.0 376.7 807.8 378.0 807.5 382.3 807.2 379.3 807.0 382.7 806.8 381.0 806.5 377.1 806.2 383.0 806.0 380.9 805.8 381.8 805.5 382.1 805.2 384.9 805.0 382.7 804.8 384.1 804.5 387.5 804.2 389.1 804.0 385.7 803.8 389.9 803.5 388.3 803.2 386.8 803.0 387.9 802.8 387.9 802.5 388.7 802.2 388.0 802.0 388.5 801.8 386.6 801.5 387.5 801.2 388.9 801.0 390.1 800.8 389.4 800.5 391.8 800.2 389.6 800.0 387.2 799.8 390.3 799.5 391.9 799.2 390.3 799.0 391.0 798.8 394.6 798.5 392.0 798.2 390.7 798.0 392.0 797.8 391.9 797.5 389.3 797.2 385.3 797.0 385.9 796.8 387.8 796.5 388.3 796.2 393.1 796.0 387.8 795.8 385.3 795.5 392.1 795.2 390.5 795.0 391.5 794.8 390.4 794.5 392.6 794.2 390.5 794.0 389.9 793.8 390.3 793.5 391.5 793.2 384.7 793.0 385.8 792.8 388.7 792.5 387.3 792.2 387.7 792.0 390.6 791.8 391.4 791.5 389.4 791.2 390.9 791.0 390.0 790.8 395.1 790.5 392.1 790.2 390.3 790.0 391.8 789.8 390.4 789.5 395.3 789.2 394.5 789.0 393.9 788.8 394.2 788.5 392.0 788.2 396.5 788.0 395.0 787.8 390.6 787.5 395.8 787.2 392.8 787.0 391.2 786.8 390.5 786.5 393.9 786.2 394.7 786.0 391.8 785.8 393.6 785.5 396.0 785.2 394.1 785.0 396.4 784.8 394.8 784.5 394.0 784.2 391.0 784.0 395.1 783.8 394.4 783.5 392.3 783.2 395.8 783.0 391.2 782.8 396.9 782.5 390.9 782.2 393.1 782.0 393.4 781.8 397.5 781.5 397.0 781.2 395.5 781.0 395.1 780.8 397.8 780.5 397.3 780.2 396.5 780.0 399.4 779.8 395.2 779.5 393.0 779.2 394.1 779.0 397.2 778.8 397.6 778.5 395.5 778.2 397.6 778.0 399.6 777.8 399.3 777.5 397.5 777.2 397.1 777.0 396.2 776.8 394.9 776.5 392.3 776.2 395.3 776.0 393.4 775.8 394.2 775.5 393.9 775.2 392.0 775.0 390.8 774.8 390.8 774.5 389.7 774.2 389.6 774.0 389.3 773.8 389.9 773.5 384.8 773.2 387.4 773.0 383.9 772.8 384.7 772.5 383.1 772.2 385.5 772.0 387.7 771.8 382.8 771.5 381.9 771.2 383.2 771.0 381.2 770.8 378.0 770.5 381.6 770.2 378.0 770.0 377.6 769.8 377.0 769.5 375.3 769.2 376.3 769.0 373.1 768.8 377.6 768.5 371.4 768.2 372.5 768.0 372.2 767.8 371.2 767.5 372.9 767.2 367.9 767.0 367.8 766.8 365.0 766.5 367.9 766.2 366.6 766.0 367.7 765.8 362.3 765.5 359.2 765.2 359.9 765.0 360.7 764.8 361.5 764.5 357.9 764.2 355.5 764.0 355.7 763.8 359.0 763.5 355.0 763.2 353.9 763.0 353.8 762.8 352.8 762.5 350.3 762.2 350.2 762.0 353.4 761.8 349.9 761.5 346.8 761.2 343.6 761.0 347.4 760.8 343.1 760.5 344.3 760.2 343.3 760.0 336.6 759.8 339.5 759.5 336.1 759.2 336.2 759.0 336.3 758.8 338.3 758.5 335.1 758.2 333.4 758.0 335.4 757.8 335.8 757.5 336.7 757.2 332.1 757.0 332.7 756.8 328.9 756.5 325.8 756.2 326.5 756.0 328.0 755.8 329.6 755.5 326.0 755.2 327.3 755.0 326.2 754.8 324.0 754.5 326.2 754.2 324.2 754.0 324.2 753.8 322.9 753.5 322.3 753.2 319.5 753.0 319.6 752.8 318.2 752.5 321.6 752.2 319.1 752.0 316.5 751.8 320.1 751.5 316.4 751.2 317.4 751.0 316.1 750.8 314.8 750.5 315.0 750.2 312.6 750.0 311.6 749.8 308.6 749.5 312.4 749.2 310.6 749.0 313.6 748.8 308.4 748.5 306.3 748.2 309.8 748.0 311.7 747.8 310.6 747.5 308.0 747.2 309.0 747.0 309.9 746.8 309.1 746.5 312.0 746.2 307.7 746.0 308.5 745.8 307.3 745.5 308.9 745.2 304.6 745.0 306.3 744.8 307.4 744.5 306.6 744.2 309.0 744.0 306.9 743.8 300.8 743.5 307.2 743.2 305.5 743.0 306.2 742.8 306.9 742.5 309.9 742.2 309.0 742.0 305.2 741.8 306.1 741.5 303.2 741.2 303.2 741.0 304.2 740.8 302.0 740.5 297.8 740.2 300.4 740.0 298.9 739.8 297.9 739.5 296.8 739.2 296.3 739.0 295.0 738.8 295.0 738.5 294.4 738.2 293.2 738.0 292.9 737.8 289.5 737.5 288.3 737.2 292.0 737.0 290.4 736.8 291.8 736.5 285.5 736.2 284.5 736.0 283.8 735.8 289.5 735.5 285.0 735.2 287.1 735.0 287.7 734.8 285.8 734.5 285.3 734.2 284.3 734.0 284.6 733.8 285.6 733.5 282.1 733.2 280.2 733.0 281.9 732.8 280.5 732.5 279.4 732.2 276.3 732.0 279.0 731.8 274.2 731.5 275.0 731.2 275.0 731.0 276.6 730.8 272.2 730.5 273.5 730.2 271.2 730.0 268.9 729.8 271.3 729.5 269.2 729.2 266.2 729.0 266.7 728.8 269.3 728.5 267.9 728.2 263.3 728.0 265.3 727.8 262.6 727.5 266.4 727.2 264.6 727.0 264.3 726.8 262.0 726.5 261.9 726.2 262.4 726.0 259.4 725.8 264.1 725.5 264.6 725.2 264.2 725.0 262.1 724.8 260.0 724.5 257.6 724.2 262.9 724.0 262.2 723.8 261.9 723.5 263.2 723.2 264.5 723.0 263.9 722.8 261.7 722.5 261.7 722.2 258.4 722.0 259.1 721.8 259.1 721.5 260.7 721.2 259.2 721.0 260.7 720.8 254.7 720.5 258.4 720.2 260.2 720.0 257.6 719.8 258.9 719.5 258.7 719.2 257.5 719.0 258.3 718.8 262.1 718.5 263.1 718.2 259.2 718.0 259.0 717.8 262.4 717.5 258.2 717.2 262.6 717.0 261.2 716.8 262.8 716.5 261.2 716.2 263.3 716.0 265.0 715.8 266.5 715.5 265.3 715.2 264.6 715.0 265.5 714.8 266.4 714.5 264.9 714.2 269.1 714.0 268.4 713.8 268.6 713.5 266.9 713.2 269.2 713.0 266.7 712.8 270.9 712.5 268.5 712.2 272.7 712.0 267.5 711.8 267.4 711.5 267.4 711.2 268.2 711.0 266.3 710.8 265.8 710.5 265.4 710.2 266.6 710.0 264.9 709.8 266.8 709.5 266.2 709.2 268.3 709.0 268.3 708.8 266.8 708.5 269.2 708.2 268.5 708.0 266.6 707.8 266.1 707.5 270.2 707.2 263.4 707.0 266.7 706.8 265.3 706.5 262.3 706.2 263.7 706.0 265.1 705.8 265.4 705.5 265.4 705.2 265.5 705.0 260.2 704.8 259.9 704.5 261.6 704.2 260.7 704.0 263.2 703.8 263.4 703.5 264.1 703.2 264.2 703.0 262.0 702.8 262.4 702.5 261.0 702.2 262.9 702.0 261.5 701.8 260.7 701.5 258.7 701.2 259.3 701.0 263.7 700.8 261.6 700.5 264.8 700.2 264.2 700.0 258.6 699.8 260.1 699.5 263.0 699.2 259.9 699.0 259.3 698.8 260.1 698.5 260.5 698.2 258.0 698.0 261.6 697.8 260.8 697.5 258.1 697.2 260.0 697.0 258.2 696.8 257.7 696.5 258.5 696.2 256.9 696.0 252.3 695.8 250.2 695.5 251.4 695.2 254.5 695.0 250.8 694.8 249.1 694.5 255.5 694.2 251.5 694.0 248.9 693.8 253.1 693.5 252.1 693.2 256.0 693.0 251.8 692.8 254.9 692.5 251.6 692.2 256.6 692.0 253.5 691.8 251.1 691.5 253.0 691.2 253.5 691.0 251.8 690.8 250.5 690.5 251.3 690.2 246.2 690.0 249.0 689.8 245.5 689.5 251.6 689.2 250.3 689.0 249.1 688.8 247.4 688.5 252.4 688.2 251.1 688.0 253.6 687.8 251.6 687.5 254.3 687.2 253.3 687.0 251.8 686.8 250.3 686.5 253.2 686.2 249.9 686.0 253.1 685.8 254.1 685.5 249.6 685.2 248.2 685.0 249.0 684.8 249.8 684.5 253.0 684.2 251.8 684.0 248.2 683.8 252.2 683.5 253.1 683.2 251.8 683.0 253.6 682.8 253.4 682.5 254.0 682.2 255.4 682.0 255.1 681.8 257.3 681.5 254.0 681.2 252.5 681.0 256.0 680.8 254.2 680.5 255.9 680.2 260.3 680.0 256.4 679.8 256.3 679.5 258.6 679.2 258.6 679.0 258.1 678.8 259.5 678.5 257.2 678.2 260.8 678.0 261.9 677.8 260.0 677.5 261.5 677.2 264.3 677.0 263.4 676.8 263.9 676.5 266.7 676.2 264.6 676.0 264.6 675.8 266.8 675.5 266.7 675.2 268.6 675.0 268.8 674.8 266.6 674.5 265.7 674.2 267.3 674.0 268.7 673.8 270.4 673.5 268.1 673.2 269.1 673.0 269.0 672.8 269.2 672.5 268.7 672.2 268.4 672.0 273.2 671.8 273.9 671.5 274.8 671.2 277.7 671.0 275.8 670.8 274.2 670.5 274.6 670.2 277.4 670.0 276.1 669.8 275.7 669.5 279.0 669.2 277.1 669.0 279.0 668.8 279.1 668.5 277.4 668.2 279.1 668.0 281.7 667.8 284.2 667.5 280.6 667.2 280.9 667.0 284.9 666.8 283.5 666.5 285.7 666.2 288.2 666.0 282.5 665.8 286.4 665.5 282.8 665.2 284.7 665.0 284.4 664.8 283.0 664.5 285.2 664.2 286.7 664.0 284.5 663.8 287.6 663.5 288.8 663.2 285.4 663.0 288.4 662.8 289.2 662.5 287.6 662.2 291.0 662.0 291.3 661.8 291.6 661.5 291.0 661.2 292.3 661.0 294.0 660.8 294.4 660.5 291.2 660.2 293.3 660.0 292.9 659.8 295.8 659.5 293.5 659.2 295.7 659.0 290.7 658.8 294.1 658.5 290.7 658.2 297.6 658.0 295.7 657.8 299.0 657.5 297.7 657.2 300.5 657.0 302.6 656.8 302.9 656.5 299.0 656.2 305.1 656.0 301.9 655.8 306.3 655.5 307.9 655.2 311.3 655.0 310.1 654.8 309.9 654.5 311.2 654.2 310.7 654.0 314.8 653.8 313.3 653.5 314.1 653.2 312.9 653.0 316.4 652.8 318.4 652.5 319.3 652.2 320.8 652.0 324.1 651.8 323.5 651.5 319.1 651.2 324.4 651.0 324.7 650.8 325.0 650.5 325.4 650.2 328.0 650.0 325.5 649.8 326.9 649.5 329.5 649.2 330.3 649.0 334.8 648.8 331.9 648.5 331.5 648.2 335.0 648.0 334.7 647.8 338.2 647.5 337.4 647.2 338.7 647.0 337.0 646.8 339.5 646.5 341.2 646.2 341.3 646.0 340.2 645.8 341.3 645.5 345.9 645.2 342.1 645.0 341.0 644.8 341.7 644.5 342.6 644.2 345.6 644.0 345.2 643.8 343.3 643.5 342.3 643.2 345.9 643.0 347.0 642.8 347.7 642.5 349.9 642.2 348.4 642.0 348.7 641.8 347.7 641.5 352.7 641.2 347.4 641.0 353.2 640.8 352.7 640.5 351.5 640.2 354.7 640.0 352.6 639.8 356.6 639.5 356.5 639.2 358.0 639.0 356.7 638.8 355.9 638.5 356.1 638.2 355.0 638.0 358.7 637.8 359.3 637.5 359.5 637.2 361.6 637.0 357.8 636.8 355.7 636.5 360.5 636.2 358.3 636.0 359.5 635.8 361.3 635.5 360.2 635.2 359.6 635.0 362.5 634.8 363.1 634.5 365.2 634.2 367.0 634.0 366.8 633.8 368.2 633.5 369.7 633.2 371.3 633.0 368.6 632.8 370.0 632.5 370.0 632.2 373.5 632.0 373.9 631.8 372.5 631.5 373.0 631.2 371.6 631.0 372.7 630.8 371.6 630.5 372.0 630.2 373.2 630.0 374.6 629.8 374.3 629.5 376.1 629.2 378.3 629.0 380.5 628.8 377.2 628.5 380.6 628.2 378.6 628.0 379.5 627.8 380.4 627.5 379.1 627.2 377.0 627.0 381.7 626.8 380.7 626.5 382.4 626.2 380.6 626.0 379.1 625.8 383.9 625.5 377.3 625.2 380.5 625.0 380.1 624.8 381.4 624.5 379.2 624.2 377.9 624.0 378.5 623.8 378.5 623.5 375.7 623.2 379.9 623.0 381.1 622.8 376.2 622.5 373.2 622.2 376.0 622.0 377.6 621.8 377.1 621.5 378.1 621.2 379.0 621.0 380.1 620.8 382.3 620.5 380.3 620.2 384.5 620.0 384.5 619.8 383.2 619.5 384.9 619.2 386.2 619.0 384.6 618.8 385.1 618.5 384.2 618.2 383.6 618.0 387.6 617.8 387.2 617.5 382.8 617.2 384.3 617.0 385.6 616.8 385.7 616.5 385.8 616.2 383.0 616.0 384.7 615.8 385.2 615.5 384.5 615.2 382.7 615.0 382.8 614.8 385.7 614.5 384.3 614.2 384.5 614.0 385.3 613.8 383.7 613.5 385.7 613.2 384.5 613.0 384.7 612.8 381.1 612.5 383.1 612.2 386.1 612.0 382.0 611.8 382.7 611.5 379.4 611.2 375.7 611.0 380.2 610.8 378.0 610.5 377.7 610.2 377.6 610.0 377.1 609.8 376.0 609.5 377.3 609.2 374.0 609.0 373.7 608.8 374.5 608.5 374.1 608.2 378.0 608.0 373.0 607.8 374.3 607.5 374.2 607.2 369.1 607.0 370.3 606.8 368.3 606.5 370.1 606.2 367.8 606.0 365.9 605.8 365.7 605.5 366.3 605.2 367.1 605.0 368.7 604.8 368.6 604.5 370.9 604.2 368.1 604.0 365.4 603.8 366.6 603.5 365.4 603.2 366.6 603.0 363.6 602.8 367.1 602.5 364.1 602.2 369.3 602.0 368.0 601.8 371.8 601.5 372.1 601.2 370.2 601.0 365.7 600.8 366.8 600.5 363.6 600.2 367.1 600.0 366.2 599.8 367.4 599.5 365.5 599.2 366.2 599.0 366.3 598.8 365.7 598.5 365.4 598.2 365.1 598.0 366.4 597.8 364.2 597.5 363.8 597.2 362.1 597.0 361.2 596.8 358.8 596.5 361.9 596.2 365.2 596.0 363.4 595.8 364.5 595.5 364.7 595.2 367.5 595.0 365.5 594.8 367.4 594.5 364.6 594.2 364.8 594.0 366.3 593.8 367.3 593.5 366.6 593.2 366.5 593.0 367.1 592.8 365.2 592.5 367.3 592.2 364.9 592.0 369.8 591.8 369.6 591.5 371.2 591.2 371.2 591.0 367.7 590.8 367.2 590.5 366.6 590.2 368.7 590.0 370.0 589.8 369.6 589.5 370.4 589.2 368.8 589.0 372.8 588.8 370.6 588.5 371.3 588.2 372.6 588.0 371.3 587.8 372.3 587.5 371.9 587.2 375.2 587.0 372.9 586.8 375.0 586.5 375.2 586.2 376.1 586.0 376.8 585.8 375.2 585.5 378.8 585.2 377.0 585.0 380.2 584.8 380.7 584.5 381.5 584.2 380.4 584.0 380.3 583.8 382.9 583.5 385.7 583.2 385.3 583.0 384.6 582.8 382.6 582.5 384.5 582.2 386.6 582.0 385.8 581.8 388.2 581.5 387.8 581.2 386.5 581.0 388.3 580.8 390.0 580.5 390.7 580.2 389.3 580.0 388.7 579.8 391.6 579.5 386.1 579.2 386.8 579.0 386.5 578.8 389.1 578.5 389.5 578.2 384.8 578.0 385.4 577.8 382.0 577.5 383.6 577.2 388.4 577.0 382.8 576.8 386.5 576.5 383.8 576.2 384.2 576.0 384.3 575.8 384.5 575.5 383.8 575.2 388.0 575.0 385.4 574.8 385.5 574.5 386.8 574.2 385.7 574.0 385.5 573.8 385.6 573.5 382.6 573.2 388.5 573.0 387.0 572.8 383.6 572.5 387.0 572.2 387.7 572.0 387.7 571.8 389.5 571.5 385.0 571.2 390.1 571.0 386.1 570.8 386.2 570.5 388.3 570.2 385.4 570.0 386.7 569.8 383.3 569.5 384.2 569.2 384.3 569.0 386.5 568.8 389.9 568.5 388.8 568.2 385.2 568.0 386.0 567.8 385.4 567.5 386.3 567.2 389.1 567.0 388.8 566.8 385.9 566.5 385.5 566.2 390.8 566.0 386.4 565.8 385.5 565.5 387.2 565.2 388.0 565.0 391.4 564.8 386.3 564.5 391.0 564.2 386.0 564.0 387.1 563.8 386.0 563.5 387.6 563.2 386.4 563.0 385.8 562.8 388.4 562.5 386.2 562.2 389.3 562.0 386.0 561.8 389.5 561.5 390.4 561.2 390.7 561.0 389.6 560.8 389.2 560.5 389.4 560.2 389.3 560.0 386.3 559.8 387.1 559.5 387.2 559.2 387.5 559.0 388.9 558.8 386.2 558.5 391.7 558.2 388.3 558.0 389.6 557.8 387.0 557.5 387.9 557.2 392.2 557.0 390.1 556.8 394.9 556.5 393.4 556.2 395.3 556.0 397.5 555.8 396.5 555.5 396.0 555.2 393.7 555.0 398.9 554.8 396.0 554.5 398.1 554.2 397.6 554.0 397.3 553.8 397.2 553.5 399.5 553.2 398.6 553.0 400.7 552.8 401.9 552.5 401.7 552.2 403.6 552.0 401.8 551.8 403.3 551.5 404.0 551.2 402.6 551.0 402.8 550.8 404.2 550.5 403.3 550.2 410.8 550.0 408.3 549.8 409.0 549.5 408.9 549.2 405.1 549.0 408.2 548.8 408.3 548.5 408.0 548.2 406.5 548.0 405.5 547.8 406.2 547.5 403.6 547.2 409.0 547.0 404.8 546.8 406.0 546.5 407.6 546.2 407.9 546.0 404.6 545.8 406.5 545.5 405.4 545.2 405.8 545.0 406.2 544.8 406.7 544.5 410.8 544.2 409.4 544.0 411.2 543.8 404.5 543.5 409.8 543.2 409.7 543.0 408.6 542.8 404.9 542.5 410.0 542.2 409.9 542.0 410.0 541.8 407.1 541.5 407.5 541.2 407.4 541.0 408.4 540.8 404.1 540.5 406.5 540.2 405.1 540.0 412.9 539.8 406.4 539.5 408.2 539.2 405.6 539.0 411.6 538.8 407.8 538.5 404.8 538.2 407.2 538.0 408.4 537.8 409.1 537.5 406.9 537.2 407.7 537.0 409.0 536.8 407.4 536.5 410.8 536.2 407.4 536.0 405.6 535.8 405.5 535.5 404.2 535.2 409.3 535.0 404.9 534.8 407.2 534.5 404.2 534.2 407.5 534.0 408.4 533.8 408.4 533.5 407.6 533.2 407.0 533.0 410.3 532.8 409.5 532.5 407.0 532.2 407.3 532.0 409.9 531.8 406.0 531.5 406.6 531.2 409.8 531.0 408.0 530.8 410.6 530.5 406.9 530.2 408.2 530.0 409.0 529.8 409.2 529.5 407.7 529.2 408.9 529.0 409.0 528.8 411.0 528.5 410.9 528.2 413.6 528.0 410.6 527.8 410.8 527.5 415.8 527.2 412.5 527.0 414.0 526.8 416.2 526.5 420.0 526.2 412.5 526.0 413.9 525.8 413.5 525.5 412.5 525.2 414.5 525.0 416.6 524.8 416.3 524.5 415.4 524.2 418.1 524.0 420.2 523.8 418.3 523.5 416.8 523.2 418.8 523.0 417.7 522.8 417.3 522.5 415.9 522.2 419.3 522.0 417.8 521.8 417.8 521.5 417.6 521.2 420.7 521.0 418.3 520.8 421.3 520.5 417.9 520.2 417.2 520.0 417.6 519.8 422.2 519.5 421.4 519.2 419.8 519.0 418.8 518.8 417.9 518.5 419.1 518.2 422.5 518.0 420.1 517.8 418.8 517.5 415.3 517.2 416.7 517.0 416.3 516.8 414.2 516.5 416.7 516.2 420.0 516.0 415.2 515.8 416.7 515.5 420.7 515.2 417.5 515.0 416.7 514.8 417.5 514.5 419.3 514.2 417.2 514.0 416.0 513.8 416.3 513.5 418.3 513.2 415.1 513.0 414.1 512.8 417.1 512.5 413.6 512.2 416.8 512.0 416.2 511.8 413.2 511.5 415.3 511.2 410.6 511.0 413.5 510.8 413.2 510.5 412.5 510.2 414.3 510.0 414.1 509.8 412.1 509.5 412.0 509.2 413.3 509.0 412.1 508.8 411.8 508.5 409.9 508.2 414.4 508.0 410.0 507.8 411.6 507.5 412.1 507.2 411.2 507.0 408.3 506.8 411.6 506.5 411.1 506.2 412.5 506.0 411.4 505.8 411.4 505.5 413.4 505.2 411.7 505.0 413.2 504.8 409.2 504.5 412.2 504.2 413.6 504.0 411.6 503.8 411.9 503.5 407.9 503.2 406.4 503.0 409.5 502.8 408.5 502.5 407.7 502.2 410.1 502.0 409.1 501.8 408.2 501.5 411.3 501.2 410.3 501.0 410.2 500.8 408.6 500.5 408.3 500.2 405.4 500.0 409.9 499.8 409.5 499.5 412.8 499.2 409.0 499.0 408.2 498.8 408.9 498.5 407.6 498.2 408.1 498.0 409.2 497.8 404.7 497.5 405.9 497.2 405.8 497.0 406.2 496.8 406.7 496.5 407.5 496.2 405.7 496.0 407.6 495.8 408.0 495.5 406.9 495.2 408.7 495.0 408.8 494.8 412.4 494.5 409.8 494.2 410.4 494.0 408.0 493.8 409.1 493.5 410.8 493.2 413.5 493.0 410.2 492.8 412.2 492.5 412.7 492.2 410.5 492.0 413.1 491.8 414.5 491.5 413.9 491.2 414.1 491.0 417.0 490.8 414.6 490.5 412.3 490.2 413.8 490.0 413.6 489.8 413.0 489.5 416.0 489.2 415.5 489.0 416.4 488.8 414.4 488.5 414.6 488.2 412.0 488.0 412.1 487.8 417.0 487.5 413.5 487.2 415.9 487.0 413.0 486.8 415.4 486.5 412.4 486.2 415.3 486.0 413.8 485.8 412.4 485.5 413.1 485.2 410.9 485.0 412.6 484.8 413.9 484.5 413.4 484.2 413.1 484.0 409.5 483.8 412.8 483.5 413.2 483.2 410.8 483.0 414.1 482.8 412.5 482.5 411.5 482.2 413.4 482.0 416.1 481.8 413.8 481.5 409.9 481.2 410.5 481.0 411.3 480.8 408.8 480.5 411.0 480.2 409.5 480.0 411.2 479.8 409.1 479.5 406.2 479.2 407.6 479.0 405.9 478.8 408.2 478.5 406.8 478.2 404.5 478.0 403.2 477.8 404.5 477.5 404.3 477.2 404.3 477.0 406.1 476.8 405.4 476.5 403.8 476.2 408.8 476.0 407.7 475.8 412.7 475.5 407.9 475.2 409.8 475.0 408.5 474.8 407.1 474.5 407.8 474.2 410.6 474.0 407.2 473.8 408.7 473.5 409.3 473.2 409.9 473.0 409.7 472.8 407.3 472.5 409.0 472.2 415.0 472.0 413.0 471.8 410.2 471.5 410.8 471.2 416.2 471.0 412.3 470.8 411.5 470.5 415.0 470.2 412.4 470.0 412.0 469.8 411.4 469.5 413.2 469.2 417.1 469.0 415.1 468.8 417.7 468.5 411.3 468.2 415.7 468.0 412.7 467.8 414.0 467.5 417.5 467.2 416.5 467.0 420.7 466.8 421.3 466.5 418.1 466.2 419.0 466.0 419.0 465.8 422.4 465.5 422.3 465.2 424.8 465.0 422.6 464.8 422.8 464.5 425.0 464.2 425.1 464.0 425.9 463.8 425.5 463.5 428.3 463.2 432.2 463.0 429.8 462.8 431.0 462.5 431.6 462.2 434.4 462.0 435.7 461.8 431.6 461.5 436.0 461.2 433.8 461.0 436.8 460.8 434.9 460.5 434.5 460.2 438.2 460.0 435.6 459.8 438.8 459.5 437.7 459.2 441.0 459.0 441.0 458.8 441.7 458.5 442.6 458.2 444.7 458.0 442.7 457.8 446.4 457.5 446.9 457.2 445.6 457.0 447.9 456.8 445.0 456.5 446.7 456.2 448.7 456.0 446.9 455.8 449.6 455.5 450.9 455.2 450.3 455.0 451.8 454.8 445.7 454.5 451.4 454.2 449.5 454.0 450.2 453.8 447.8 453.5 452.3 453.2 453.5 453.0 451.7 452.8 452.4 452.5 452.6 452.2 447.4 452.0 454.2 451.8 452.6 451.5 454.0 451.2 453.5 451.0 456.7 450.8 452.1 450.5 452.8 450.2 452.5 450.0 451.9 449.8 455.5 449.5 451.5 449.2 452.3 449.0 454.3 448.8 451.6 448.5 454.0 448.2 455.1 448.0 453.7 447.8 457.0 447.5 457.4 447.2 452.5 447.0 456.1 446.8 457.3 446.5 455.8 446.2 455.7 446.0 459.9 445.8 458.6 445.5 462.0 445.2 462.1 445.0 461.4 444.8 462.9 444.5 461.3 444.2 458.8 444.0 460.8 443.8 459.7 443.5 460.6 443.2 461.5 443.0 461.3 442.8 461.3 442.5 463.5 442.2 463.9 442.0 462.0 441.8 462.6 441.5 462.4 441.2 463.0 441.0 465.5 440.8 463.3 440.5 463.0 440.2 463.8 440.0 463.8 439.8 464.6 439.5 466.1 439.2 465.2 439.0 468.0 438.8 464.9 438.5 467.2 438.2 467.1 438.0 466.5 437.8 470.8 437.5 468.1 437.2 466.6 437.0 465.4 436.8 468.9 436.5 470.2 436.2 470.7 436.0 468.3 435.8 469.6 435.5 473.0 435.2 469.2 435.0 472.6 434.8 471.0 434.5 472.3 434.2 472.2 434.0 471.4 433.8 472.8 433.5 473.5 433.2 475.5 433.0 479.0 432.8 477.9 432.5 477.9 432.2 477.0 432.0 480.7 431.8 478.5 431.5 482.4 431.2 480.1 431.0 481.9 430.8 483.3 430.5 484.6 430.2 487.8 430.0 489.1 429.8 486.5 429.5 488.5 429.2 491.0 429.0 493.2 428.8 489.7 428.5 493.5 428.2 494.8 428.0 494.0 427.8 495.2 427.5 493.5 427.2 492.6 427.0 497.1 426.8 497.3 426.5 495.0 426.2 501.1 426.0 498.8 425.8 497.2 425.5 501.6 425.2 498.5 425.0 498.9 424.8 494.9 424.5 496.5 424.2 497.3 424.0 496.6 423.8 489.8 423.5 492.0 423.2 491.1 423.0 490.5 422.8 491.4 422.5 494.2 422.2 492.2 422.0 493.3 421.8 490.3 421.5 492.2 421.2 486.1 421.0 489.5 420.8 489.9 420.5 490.1 420.2 488.7 420.0 489.4 419.8 488.6 419.5 487.9 419.2 489.2 419.0 489.6 418.8 487.0 418.5 489.2 418.2 487.3 418.0 485.0 417.8 486.2 417.5 488.6 417.2 486.8 417.0 490.8 416.8 485.0 416.5 485.1 416.2 483.3 416.0 485.9 415.8 480.2 415.5 479.9 415.2 477.8 415.0 476.8 414.8 480.6 414.5 480.3 414.2 481.8 414.0 477.2 413.8 480.3 413.5 480.5 413.2 481.6 413.0 478.4 412.8 478.9 412.5 477.0 412.2 471.1 412.0 475.9 411.8 476.3 411.5 475.5 411.2 474.7 411.0 477.0 410.8 476.6 410.5 474.2 410.2 472.7 410.0 472.5 409.8 471.6 409.5 471.6 409.2 473.5 409.0 472.3 408.8 470.1 408.5 471.7 408.2 471.0 408.0 470.5 407.8 468.3 407.5 466.6 407.2 465.2 407.0 465.6 406.8 464.8 406.5 463.7 406.2 461.5 406.0 465.5 405.8 464.9 405.5 463.4 405.2 464.4 405.0 462.6 404.8 463.5 404.5 463.7 404.2 458.2 404.0 462.2 403.8 462.1 403.5 461.0 403.2 461.4 403.0 461.9 402.8 460.1 402.5 459.9 402.2 460.1 402.0 459.1 401.8 457.6 401.5 457.6 401.2 458.2 401.0 456.2 400.8 458.5 400.5 456.7 400.2 455.7 400.0 458.2 399.8 456.6 399.5 457.1 399.2 459.8 399.0 461.6 398.8 456.6 398.5 459.3 398.2 461.3 398.0 458.9 397.8 462.8 397.5 462.2 397.2 460.8 397.0 458.3 396.8 457.5 396.5 457.3 396.2 458.2 396.0 456.1 395.8 454.7 395.5 458.5 395.2 456.8 395.0 455.3 394.8 453.7 394.5 456.1 394.2 455.5 394.0 456.4 393.8 453.7 393.5 455.1 393.2 454.0 393.0 452.4 392.8 453.6 392.5 451.3 392.2 453.7 392.0 451.6 391.8 453.3 391.5 449.2 391.2 450.4 391.0 448.8 390.8 451.3 390.5 450.0 390.2 448.9 390.0 443.2 389.8 446.8 389.5 444.3 389.2 443.7 389.0 443.6 388.8 440.6 388.5 442.3 388.2 439.8 388.0 439.3 387.8 440.3 387.5 439.0 387.2 438.6 387.0 441.6 386.8 441.3 386.5 436.7 386.2 436.2 386.0 437.1 385.8 436.0 385.5 434.5 385.2 433.9 385.0 435.8 384.8 434.4 384.5 431.7 384.2 427.9 384.0 429.4 383.8 431.9 383.5 428.9 383.2 428.0 383.0 428.4 382.8 425.2 382.5 424.1 382.2 421.8 382.0 428.0 381.8 424.1 381.5 423.5 381.2 423.1 381.0 423.2 380.8 422.2 380.5 420.9 380.2 423.2 380.0 419.0 379.8 423.6 379.5 421.9 379.2 423.1 379.0 420.2 378.8 418.2 378.5 419.5 378.2 415.6 378.0 416.2 377.8 413.0 377.5 411.5 377.2 413.2 377.0 411.3 376.8 411.2 376.5 411.6 376.2 407.5 376.0 408.4 375.8 408.1 375.5 405.7 375.2 407.5 375.0 407.1 374.8 405.2 374.5 405.0 374.2 400.3 374.0 402.8 373.8 404.8 373.5 406.7 373.2 401.9 373.0 403.8 372.8 404.3 372.5 399.1 372.2 400.4 372.0 400.1 371.8 398.7 371.5 396.3 371.2 395.2 371.0 399.0 370.8 395.2 370.5 393.5 370.2 392.8 370.0 392.6 369.8 388.3 369.5 390.6 369.2 390.8 369.0 389.9 368.8 390.8 368.5 390.9 368.2 392.3 368.0 390.4 367.8 389.2 367.5 391.4 367.2 389.4 367.0 390.2 366.8 389.2 366.5 393.2 366.2 389.5 366.0 390.4 365.8 384.7 365.5 386.2 365.2 386.3 365.0 381.1 364.8 386.4 364.5 385.4 364.2 383.0 364.0 383.8 363.8 383.6 363.5 383.3 363.2 381.1 363.0 378.3 362.8 377.7 362.5 375.1 362.2 377.6 362.0 376.8 361.8 373.3 361.5 373.0 361.2 372.2 361.0 373.1 360.8 371.3 360.5 368.4 360.2 369.3 360.0 367.6 359.8 368.1 359.5 363.4 359.2 366.4 359.0 363.3 358.8 361.4 358.5 362.0 358.2 361.2 358.0 359.9 357.8 357.1 357.5 356.0 357.2 354.6 357.0 354.4 356.8 354.8 356.5 354.9 356.2 351.9 356.0 348.2 355.8 346.3 355.5 348.6 355.2 347.5 355.0 343.5 354.8 348.0 354.5 343.8 354.2 345.4 354.0 344.0 353.8 343.3 353.5 341.4 353.2 340.2 353.0 338.6 352.8 342.6 352.5 338.8 352.2 339.6 352.0 337.1 351.8 336.3 351.5 336.4 351.2 336.8 351.0 334.7 350.8 330.3 350.5 332.3 350.2 329.6 350.0 331.7 349.8 331.3 349.5 332.7 349.2 334.1 349.0 334.1 348.8 333.5 348.5 331.3 348.2 326.7 348.0 327.6 347.8 328.3 347.5 325.4 347.2 324.5 347.0 323.5 346.8 321.9 346.5 321.2 346.2 323.6 346.0 320.9 345.8 321.0 345.5 321.3 345.2 320.3 345.0 321.2 344.8 323.2 344.5 323.5 344.2 320.4 344.0 319.6 343.8 316.4 343.5 316.5 343.2 316.0 343.0 314.6 342.8 320.5 342.5 318.7 342.2 316.4 342.0 316.9 341.8 314.3 341.5 315.8 341.2 315.8 341.0 312.9 340.8 312.8 340.5 309.5 340.2 312.8 340.0 308.4 339.8 304.9 339.5 305.9 339.2 307.8 339.0 305.7 338.8 304.3 338.5 302.0 338.2 301.5 338.0 302.6 337.8 305.1 337.5 306.2 337.2 306.6 337.0 305.3 336.8 305.4 336.5 309.3 336.2 305.3 336.0 308.4 335.8 307.2 335.5 307.1 335.2 311.7 335.0 310.2 334.8 312.3 334.5 309.3 334.2 312.2 334.0 309.9 333.8 311.5 333.5 309.4 333.2 308.7 333.0 306.8 332.8 307.8 332.5 306.5 332.2 305.7 332.0 303.6 331.8 304.7 331.5 304.1 331.2 305.5 331.0 303.7 330.8 301.2 330.5 304.7 330.2 304.0 330.0 303.1 329.8 304.7 329.5 300.2 329.2 300.1 329.0 301.2 328.8 298.2 328.5 297.0 328.2 297.7 328.0 296.7 327.8 297.8 327.5 297.4 327.2 293.8 327.0 294.0 326.8 291.2 326.5 289.5 326.2 288.7 326.0 292.5 325.8 286.9 325.5 285.8 325.2 288.0 325.0 288.3 324.8 287.6 324.5 285.6 324.2 284.5 324.0 288.7 323.8 284.1 323.5 284.5 323.2 285.2 323.0 287.0 322.8 284.1 322.5 286.1 322.2 283.1 322.0 279.6 321.8 281.1 321.5 282.7 321.2 282.3 321.0 275.7 320.8 284.4 320.5 285.4 320.2 283.3 320.0 286.8 319.8 286.5 319.5 288.6 319.2 286.0 319.0 287.4 318.8 290.7 318.5 289.9 318.2 288.6 318.0 291.4 317.8 291.5 317.5 293.5 317.2 288.4 317.0 293.1 316.8 294.1 316.5 294.1 316.2 293.0 316.0 294.6 315.8 295.4 315.5 295.5 315.2 293.8 315.0 295.0 314.8 298.8 314.5 298.3 314.2 298.2 314.0 299.5 313.8 301.4 313.5 299.5 313.2 304.3 313.0 306.2 312.8 303.0 312.5 302.4 312.2 305.0 312.0 305.8 311.8 304.0 311.5 305.8 311.2 306.0 311.0 308.3 310.8 305.3 310.5 310.4 310.2 311.6 310.0 309.0 309.8 310.2 309.5 311.6 309.2 310.1 309.0 305.6 308.8 315.4 308.5 315.7 308.2 314.2 308.0 318.3 307.8 317.3 307.5 317.5 307.2 318.1 307.0 318.6 306.8 317.2 306.5 320.8 306.2 322.5 306.0 321.3 305.8 326.3 305.5 326.4 305.2 324.2 305.0 324.9 304.8 327.3 304.5 326.7 304.2 328.1 304.0 326.8 303.8 333.0 303.5 328.6 303.2 328.8 303.0 328.4 302.8 330.6 302.5 330.1 302.2 333.0 302.0 333.7 301.8 332.6 301.5 338.0 301.2 336.6 301.0 339.3 300.8 339.2 300.5 340.3 300.2 343.1 300.0 344.1 299.8 347.4 299.5 345.1 299.2 346.8 299.0 348.3 298.8 348.7 298.5 348.7 298.2 349.1 298.0 349.4 297.8 350.4 297.5 349.8 297.2 349.9 297.0 350.6 296.8 351.8 296.5 354.9 296.2 353.6 296.0 352.4 295.8 349.8 295.5 355.6 295.2 355.6 295.0 354.4 294.8 356.9 294.5 353.3 294.2 355.4 294.0 357.6 293.8 360.0 293.5 355.9 293.2 356.5 293.0 356.2 292.8 356.7 292.5 357.0 292.2 357.2 292.0 358.6 291.8 358.1 291.5 358.7 291.2 359.8 291.0 362.5 290.8 360.6 290.5 362.8 290.2 362.1 290.0 363.8 289.8 360.9 289.5 362.9 289.2 364.1 289.0 364.9 288.8 364.5 288.5 366.1 288.2 370.2 288.0 370.1 287.8 366.7 287.5 366.5 287.2 366.2 287.0 367.4 286.8 367.7 286.5 369.9 286.2 370.1 286.0 370.0 285.8 366.9 285.5 370.0 285.2 372.9 285.0 369.6 284.8 369.3 284.5 374.9 284.2 376.2 284.0 373.9 283.8 375.5 283.5 377.5 283.2 377.9 283.0 377.3 282.8 379.5 282.5 379.8 282.2 379.4 282.0 378.8 281.8 376.1 281.5 381.0 281.2 382.6 281.0 382.5 280.8 382.2 280.5 380.7 280.2 383.3 280.0 380.4 279.8 385.2 279.5 386.5 279.2 384.8 279.0 386.8 278.8 389.6 278.5 387.1 278.2 388.3 278.0 387.6 277.8 387.7 277.5 389.9 277.2 391.9 277.0 393.8 276.8 395.2 276.5 393.1 276.2 398.0 276.0 398.2 275.8 398.0 275.5 399.7 275.2 398.3 275.0 402.1 274.8 398.6 274.5 403.1 274.2 405.2 274.0 404.3 273.8 404.7 273.5 407.6 273.2 407.7 273.0 408.2 272.8 407.1 272.5 405.2 272.2 412.7 272.0 412.4 271.8 413.6 271.5 414.5 271.2 415.9 271.0 412.6 270.8 418.1 270.5 420.7 270.2 417.7 270.0 416.3 269.8 415.7 269.5 413.7 269.2 416.1 269.0 414.7 268.8 416.2 268.5 418.3 268.2 419.6 268.0 418.0 267.8 420.8 267.5 420.8 267.2 423.2 267.0 421.0 266.8 420.7 266.5 422.6 266.2 421.6 266.0 423.0 265.8 427.7 265.5 422.7 265.2 423.2 265.0 423.4 264.8 423.3 264.5 423.5 264.2 422.1 264.0 429.5 263.8 424.5 263.5 426.0 263.2 427.7 263.0 427.2 262.8 428.4 262.5 429.3 262.2 428.4 262.0 431.2 261.8 429.9 261.5 429.0 261.2 427.9 261.0 430.8 260.8 426.8 260.5 427.9 260.2 433.7 260.0 430.6 259.8 428.6 259.5 431.7 259.2 430.2 259.0 427.8 258.8 430.4 258.5 428.2 258.2 425.5 258.0 431.8 257.8 431.5 257.5 432.4 257.2 430.8 257.0 430.5 256.8 431.4 256.5 431.2 256.2 430.3 256.0 428.9 255.8 432.5 255.5 432.6 255.2 434.5 255.0 430.3 254.8 429.1 254.5 434.4 254.2 433.4 254.0 430.9 253.8 430.1 253.5 431.4 253.2 430.0 253.0 429.0 252.8 430.8 252.5 432.4 252.2 433.5 252.0 434.0 251.8 431.9 251.5 431.8 251.2 433.4 251.0 433.0 250.8 430.2 250.5 431.4 250.2 433.5 250.0 437.1 249.8 436.7 249.5 429.8 249.2 432.1 249.0 431.7 248.8 432.6 248.5 432.3 248.2 432.7 248.0 431.4 247.8 432.4 247.5 434.3 247.2 431.3 247.0 436.3 246.8 434.5 246.5 432.7 246.2 438.2 246.0 434.9 245.8 440.6 245.5 437.9 245.2 441.3 245.0 440.7 244.8 440.6 244.5 442.6 244.2 443.5 244.0 440.7 243.8 445.0 243.5 441.7 243.2 443.8 243.0 444.4 242.8 443.5 242.5 447.1 242.2 445.8 242.0 447.7 241.8 451.6 241.5 450.3 241.2 450.5 241.0 453.8 240.8 450.8 240.5 452.6 240.2 449.6 240.0 453.1 239.8 458.0 239.5 457.3 239.2 456.5 239.0 457.5 238.8 457.8 238.5 459.2 238.2 458.8 238.0 462.7 237.8 458.6 237.5 458.9 237.2 460.9 237.0 457.1 236.8 459.3 236.5 462.9 236.2 460.0 236.0 459.5 235.8 460.2 235.5 459.9 235.2 462.0 235.0 463.0 234.8 459.9 234.5 462.5 234.2 459.9 234.0 462.2 233.8 462.1 233.5 463.2 233.2 463.3 233.0 462.3 232.8 464.3 232.5 467.3 232.2 464.5 232.0 466.5 231.8 465.1 231.5 462.4 231.2 467.1 231.0 467.3 230.8 463.6 230.5 465.6 230.2 467.5 230.0 465.4 229.8 468.9 229.5 467.9 229.2 466.2 229.0 470.0 228.8 467.1 228.5 467.3 228.2 465.8 228.0 464.2 227.8 462.9 227.5 466.5 227.2 466.2 227.0 465.6 226.8 466.7 226.5 467.1 226.2 468.9 226.0 468.6 225.8 471.3 225.5 467.1 225.2 472.0 225.0 473.0 224.8 467.3 224.5 471.3 224.2 468.7 224.0 471.9 223.8 469.6 223.5 473.8 223.2 470.7 223.0 470.1 222.8 469.3 222.5 468.5 222.2 467.0 222.0 467.2 221.8 469.4 221.5 469.5 221.2 471.1 221.0 471.3 220.8 472.3 220.5 469.4 220.2 470.1 220.0 471.5 219.8 472.1 219.5 472.9 219.2 469.1 219.0 469.4 218.8 472.8 218.5 471.8 218.2 469.6 218.0 472.9 217.8 473.0 217.5 471.7 217.2 472.6 217.0 473.1 216.8 471.7 216.5 470.1 216.2 473.5 216.0 471.3 215.8 469.0 215.5 471.7 215.2 469.1 215.0 471.0 214.8 472.9 214.5 471.7 214.2 470.4 214.0 471.0 213.8 471.4 213.5 471.2 213.2 477.0 213.0 474.4 212.8 473.8 212.5 472.8 212.2 475.1 212.0 474.3 211.8 476.4 211.5 474.2 211.2 478.7 211.0 476.7 210.8 477.3 210.5 474.7 210.2 479.8 210.0 479.3 209.8 481.4 209.5 482.3 209.2 484.3 209.0 486.6 208.8 482.4 208.5 483.8 208.2 482.1 208.0 482.2 207.8 484.6 207.5 485.5 207.2 483.1 207.0 482.3 206.8 480.8 206.5 483.6 206.2 485.4 206.0 485.6 205.8 490.5 205.5 487.8 205.2 488.6 205.0 488.1 204.8 486.1 204.5 488.5 204.2 489.2 204.0 490.0 203.8 487.3 203.5 490.8 203.2 488.4 203.0 488.3 202.8 490.3 202.5 486.7 202.2 489.1 202.0 489.1 201.8 488.9 201.5 488.8 201.2 488.9 201.0 489.0 200.8 488.0 200.5 487.2 200.2 488.0 200.0 485.1 199.8 485.9 199.5 484.3 199.2 485.1 199.0 486.3 198.8 484.9 198.5 489.5 198.2 485.4 198.0 485.4 197.8 485.0 197.5 484.8 197.2 483.2 197.0 486.4 196.8 484.0 196.5 485.6 196.2 482.5 196.0 486.5 195.8 485.3 195.5 485.4 195.2 486.9 195.0 485.3 194.8 483.6 194.5 485.5 194.2 486.6 194.0 486.5 193.8 487.6 193.5 486.3 193.2 486.8 193.0 484.7 192.8 484.1 192.5 488.6 192.2 484.8 192.0 486.9 191.8 484.5 191.5 485.1 191.2 485.7 191.0 485.5 190.8 485.0 190.5 487.8 190.2 487.1 190.0 488.5 189.8 485.4 189.5 488.6 189.2 483.9 189.0 482.0 188.8 485.6 188.5 484.7 188.2 481.7 188.0 480.8 187.8 480.9 187.5 483.5 187.2 483.6 187.0 481.0 186.8 482.4 186.5 481.2 186.2 479.9 186.0 481.9 185.8 482.1 185.5 483.5 185.2 484.1 185.0 480.6 184.8 483.9 184.5 483.7 184.2 482.4 184.0 481.4 183.8 485.3 183.5 488.8 183.2 484.0 183.0 484.2 182.8 485.0 182.5 487.0 182.2 483.0 182.0 484.9 181.8 484.4 181.5 484.7 181.2 486.8 181.0 482.6 180.8 484.0 180.5 487.1 180.2 488.0 180.0 487.4 179.8 486.7 179.5 487.9 179.2 487.3 179.0 489.4 178.8 490.9 178.5 487.5 178.2 488.4 178.0 489.2 177.8 489.7 177.5 492.2 177.2 495.0 177.0 493.7 176.8 495.5 176.5 496.0 176.2 495.9 176.0 499.2 175.8 497.9 175.5 493.3 175.2 497.5 175.0 501.1 174.8 498.7 174.5 494.3 174.2 495.8 174.0 495.0 173.8 494.3 173.5 495.2 173.2 494.1 173.0 496.6 172.8 497.1 172.5 494.5 172.2 495.0 172.0 495.4 171.8 494.4 171.5 500.1 171.2 498.8 171.0 499.5 170.8 496.8 170.5 501.7 170.2 498.3 170.0 497.2 169.8 497.4 169.5 497.3 169.2 495.6 169.0 497.1 168.8 496.0 168.5 501.7 168.2 502.1 168.0 498.1 167.8 502.8 167.5 498.9 167.2 501.0 167.0 500.0 166.8 501.3 166.5 498.8 166.2 501.2 166.0 499.1 165.8 497.9 165.5 499.9 165.2 496.5 165.0 498.5 164.8 500.4 164.5 498.5 164.2 500.9 164.0 497.1 163.8 498.6 163.5 502.3 163.2 501.3 163.0 501.1 162.8 499.8 162.5 499.9 162.2 498.4 162.0 498.6 161.8 498.1 161.5 500.7 161.2 499.5 161.0 503.1 160.8 497.5 160.5 497.3 160.2 496.4 160.0 497.8 159.8 495.3 159.5 494.4 159.2 498.8 159.0 497.0 158.8 497.6 158.5 496.0 158.2 496.7 158.0 494.6 157.8 496.3 157.5 498.1 157.2 498.7 157.0 495.1 156.8 497.9 156.5 498.0 156.2 496.3 156.0 495.9 155.8 495.9 155.5 498.1 155.2 498.8 155.0 495.8 154.8 496.8 154.5 498.3 154.2 496.8 154.0 494.9 153.8 498.1 153.5 496.0 153.2 497.4 153.0 499.4 152.8 495.6 152.5 495.7 152.2 497.9 152.0 496.0 151.8 497.0 151.5 495.3 151.2 496.6 151.0 494.0 150.8 496.0 150.5 497.2 150.2 498.4 150.0 495.6 149.8 499.2 149.5 493.6 149.2 497.1 149.0 499.2 148.8 498.3 148.5 502.9 148.2 499.0 148.0 501.0 147.8 503.4 147.5 497.9 147.2 502.6 147.0 503.7 146.8 503.7 146.5 501.5 146.2 502.3 146.0 503.7 145.8 503.0 145.5 505.9 145.2 504.5 145.0 506.1 144.8 506.1 144.5 506.5 144.2 507.9 144.0 509.2 143.8 507.4 143.5 511.1 143.2 512.7 143.0 513.0 142.8 509.6 142.5 510.8 142.2 512.9 142.0 512.2 141.8 513.9 141.5 512.8 141.2 514.3 141.0 513.0 140.8 512.2 140.5 512.6 140.2 511.2 140.0 511.3 139.8 512.1 139.5 511.2 139.2 510.6 139.0 509.9 138.8 514.4 138.5 511.2 138.2 513.2 138.0 509.5 137.8 511.6 137.5 514.4 137.2 514.4 137.0 511.3 136.8 515.5 136.5 514.2 136.2 509.4 136.0 514.3 135.8 514.1 135.5 514.3 135.2 513.3 135.0 515.0 134.8 508.7 134.5 511.9 134.2 515.2 134.0 509.1 133.8 513.4 133.5 510.7 133.2 512.3 133.0 510.7 132.8 513.3 132.5 512.9 132.2 511.7 132.0 511.7 131.8 513.4 131.5 509.7 131.2 511.9 131.0 510.1 130.8 514.2 130.5 510.2 130.2 515.3 130.0 511.6 129.8 510.6 129.5 510.4 129.2 512.3 129.0 511.4 128.8 509.6 128.5 506.8 128.2 509.0 128.0 508.7 127.8 509.7 127.5 510.3 127.2 508.7 127.0 508.4 126.8 509.1 126.5 512.0 126.2 510.2 126.0 505.4 125.8 506.4 125.5 507.5 125.2 508.0 125.0 509.6 124.8 508.0 124.5 509.1 124.2 507.9 124.0 507.7 123.8 508.8 123.5 508.0 123.2 507.5 123.0 508.8 122.8 510.3 122.5 508.3 122.2 510.1 122.0 506.4 121.8 508.0 121.5 508.9 121.2 507.5 121.0 509.9Z" fill="#0072B2" fill-opacity="0.2" stroke="#0072B2" stroke-opacity="0.2" stroke-width="1.39" stroke-linejoin="round"/>
<path d="M152.5 15.5V542.5M278.5 15.5V542.5M404.5 15.5V542.5M530.5 15.5V542.5M657.5 15.5V542.5M783.5 15.5V542.5M909.5 15.5V542.5" stroke="#808080" stroke-opacity="0.23" stroke-width="1.2" fill="none"/>
<path d="M80.5 503.5H985.5M80.5 431.5H985.5M80.5 359.5H985.5M80.5 287.5H985.5M80.5 215.5H985.5M80.5 143.5H985.5M80.5 71.5H985.5" stroke="#808080" stroke-opacity="0.23" stroke-width="1.2" fill="none"/>
<path d="M122.2 469.2h0M122.3 468.7h0M122.4 468.7h0M122.6 469.6h0M122.7 470.1h0M122.8 468.8h0M122.9 470.3h0M123.0 469.3h0M123.2 470.0h0M123.3 469.9h0M123.4 471.0h0M123.5 469.6h0M123.7 468.6h0M123.8 469.0h0M123.9 469.1h0M124.0 468.5h0M124.1 470.3h0M124.3 468.4h0M124.4 469.0h0M124.5 467.7h0M124.6 469.6h0M124.7 469.2h0M124.9 468.3h0M125.0 469.7h0M125.1 469.5h0M125.2 470.1h0M125.4 468.0h0M125.5 465.6h0M125.6 466.2h0M125.7 465.7h0M125.8 464.9h0M126.0 464.8h0M126.1 464.8h0M126.2 464.8h0M126.3 464.8h0M126.4 464.8h0M126.6 464.8h0M126.7 464.8h0M126.8 464.8h0M126.9 464.8h0M127.0 464.8h0M127.2 464.8h0M127.3 464.8h0M127.4 464.8h0M127.5 464.8h0M127.7 464.8h0M127.8 466.9h0M127.9 465.0h0M128.0 469.0h0M128.1 465.5h0M128.3 465.5h0M128.4 464.8h0M128.5 464.8h0M128.6 466.0h0M128.7 469.6h0M128.9 467.3h0M129.0 465.4h0M129.1 464.8h0M129.2 466.8h0M129.3 464.8h0M129.5 465.8h0M129.6 464.8h0M129.7 468.4h0M129.8 464.8h0M130.0 464.8h0M130.1 464.8h0M130.2 464.8h0M130.3 464.8h0M130.4 465.1h0M130.6 464.8h0M130.7 464.8h0M130.8 467.0h0M130.9 467.0h0M131.0 464.8h0M131.2 464.8h0M131.3 464.8h0M131.4 464.9h0M131.5 464.8h0M131.7 464.8h0M131.8 467.1h0M131.9 470.3h0M132.0 468.6h0M132.1 466.0h0M132.3 464.8h0M132.4 464.8h0M132.5 464.8h0M132.6 465.9h0M132.7 464.8h0M132.9 466.9h0M133.0 469.9h0M133.1 470.5h0M133.2 466.8h0M133.3 467.8h0M133.5 468.2h0M133.6 465.6h0M133.7 464.8h0M133.8 465.2h0M134.0 464.8h0M134.1 466.2h0M134.2 464.8h0M134.3 464.8h0M134.4 464.8h0M134.6 464.8h0M134.7 464.8h0M134.8 464.8h0M134.9 464.8h0M135.0 465.6h0M135.2 464.3h0M135.3 463.9h0M135.4 463.5h0M135.5 463.2h0M135.7 462.8h0M135.8 462.4h0M135.9 462.1h0M136.0 461.7h0M136.1 462.2h0M136.3 461.0h0M136.4 464.9h0M136.5 469.3h0M136.6 459.9h0M136.7 460.7h0M136.9 467.7h0M137.0 466.6h0M137.1 465.5h0M137.2 462.8h0M137.3 461.2h0M137.5 463.1h0M137.6 463.5h0M137.7 467.1h0M137.8 463.5h0M138.0 464.2h0M138.1 464.4h0M138.2 467.9h0M138.3 467.2h0M138.4 466.2h0M138.6 470.7h0M138.7 470.5h0M138.8 467.7h0M138.9 468.5h0M139.0 466.4h0M139.2 464.8h0M139.3 464.8h0M139.4 467.4h0M139.5 464.9h0M139.6 468.5h0M139.8 469.9h0M139.9 470.1h0M140.0 469.5h0M140.1 468.7h0M140.3 468.4h0M140.4 466.7h0M140.5 470.2h0M140.6 468.6h0M140.7 465.3h0M140.9 467.6h0M141.0 465.2h0M141.1 467.5h0M141.2 471.4h0M141.3 472.6h0M141.5 470.6h0M141.6 470.5h0M141.7 474.0h0M141.8 473.6h0M142.0 471.5h0M142.1 471.0h0M142.2 474.2h0M142.3 473.9h0M142.4 472.1h0M142.6 469.6h0M142.7 469.6h0M142.8 467.2h0M142.9 465.6h0M143.0 465.6h0M143.2 465.7h0M143.3 465.7h0M143.4 466.7h0M143.5 470.2h0M143.6 467.1h0M143.8 467.9h0M143.9 465.8h0M144.0 466.1h0M144.1 468.5h0M144.3 467.6h0M144.4 468.4h0M144.5 467.7h0M144.6 468.3h0M144.7 471.0h0M144.9 472.0h0M145.0 469.8h0M145.1 470.0h0M145.2 471.6h0M145.3 474.2h0M145.5 472.8h0M145.6 472.5h0M145.7 470.0h0M145.8 471.1h0M146.0 474.2h0M146.1 472.2h0M146.2 471.9h0M146.3 472.7h0M146.4 472.0h0M146.6 471.8h0M146.7 473.3h0M146.8 471.9h0M146.9 470.9h0M147.0 468.6h0M147.2 469.3h0M147.3 467.4h0M147.4 468.8h0M147.5 470.5h0M147.6 472.1h0M147.8 472.4h0M147.9 471.8h0M148.0 472.7h0M148.1 474.2h0M148.3 473.8h0M148.4 473.3h0M148.5 471.6h0M148.6 470.2h0M148.7 471.7h0M148.9 469.6h0M149.0 469.7h0M149.1 469.3h0M149.2 469.1h0M149.3 468.3h0M149.5 468.1h0M149.6 468.9h0M149.7 471.2h0M149.8 472.9h0M149.9 472.8h0M150.1 472.7h0M150.2 471.9h0M150.3 472.5h0M150.4 472.4h0M150.6 472.3h0M150.7 472.2h0M150.8 472.2h0M150.9 470.3h0M151.0 469.3h0M151.2 468.3h0M151.3 468.6h0M151.4 469.9h0M151.5 469.8h0M151.6 469.0h0M151.8 470.0h0M151.9 470.5h0M152.0 470.1h0M152.1 469.5h0M152.3 469.4h0M152.4 469.4h0M152.5 470.2h0M152.6 470.6h0M152.7 470.6h0M152.9 470.6h0M153.0 470.7h0M153.1 470.7h0M153.2 469.0h0M153.3 468.9h0M153.5 469.2h0M153.6 470.0h0M153.7 470.9h0M153.8 470.5h0M153.9 470.2h0M154.1 471.8h0M154.2 471.8h0M154.3 471.5h0M154.4 471.9h0M154.6 471.9h0M154.7 471.9h0M154.8 470.4h0M154.9 471.3h0M155.0 472.0h0M155.2 471.9h0M155.3 472.1h0M155.4 472.1h0M155.5 472.0h0M155.6 471.3h0M155.8 472.2h0M155.9 472.2h0M156.0 471.3h0M156.1 471.1h0M156.3 471.5h0M156.4 470.7h0M156.5 471.2h0M156.6 470.6h0M156.7 470.0h0M156.9 469.6h0M157.0 470.7h0M157.1 470.3h0M157.2 471.1h0M157.3 471.8h0M157.5 472.6h0M157.6 471.3h0M157.7 471.7h0M157.8 470.6h0M157.9 470.2h0M158.1 470.8h0M158.2 470.3h0M158.3 471.0h0M158.4 470.0h0M158.6 469.6h0M158.7 469.6h0M158.8 469.9h0M158.9 470.3h0M159.0 470.9h0M159.2 470.4h0M159.3 470.1h0M159.4 470.7h0M159.5 471.0h0M159.6 470.6h0M159.8 470.8h0M159.9 470.8h0M160.0 472.3h0M160.1 472.1h0M160.3 473.1h0M160.4 473.0h0M160.5 473.4h0M160.6 473.5h0M160.7 472.5h0M160.9 472.0h0M161.0 471.5h0M161.1 471.4h0M161.2 472.1h0M161.3 472.2h0M161.5 473.4h0M161.6 471.7h0M161.7 472.7h0M161.8 471.4h0M161.9 471.9h0M162.1 473.1h0M162.2 472.9h0M162.3 473.4h0M162.4 472.5h0M162.6 473.5h0M162.7 472.7h0M162.8 473.1h0M162.9 473.8h0M163.0 470.2h0M163.2 470.3h0M163.3 471.1h0M163.4 473.2h0M163.5 473.2h0M163.6 473.9h0M163.8 471.2h0M163.9 473.6h0M164.0 474.6h0M164.1 473.0h0M164.2 472.7h0M164.4 470.4h0M164.5 470.8h0M164.6 473.3h0M164.7 471.6h0M164.9 471.6h0M165.0 471.5h0M165.1 470.1h0M165.2 472.9h0M165.3 470.9h0M165.5 470.1h0M165.6 470.4h0M165.7 470.8h0M165.8 470.1h0M165.9 470.6h0M166.1 469.8h0M166.2 469.8h0M166.3 469.8h0M166.4 469.8h0M166.6 469.8h0M166.7 469.8h0M166.8 469.8h0M166.9 469.8h0M167.0 469.8h0M167.2 469.8h0M167.3 471.9h0M167.4 473.3h0M167.5 474.5h0M167.6 471.4h0M167.8 470.9h0M167.9 472.9h0M168.0 471.2h0M168.1 472.3h0M168.2 474.8h0M168.4 472.3h0M168.5 469.8h0M168.6 469.8h0M168.7 470.2h0M168.9 470.5h0M169.0 469.8h0M169.1 469.8h0M169.2 470.9h0M169.3 471.3h0M169.5 470.3h0M169.6 472.5h0M169.7 475.3h0M169.8 471.4h0M169.9 471.7h0M170.1 472.2h0M170.2 472.3h0M170.3 469.8h0M170.4 469.9h0M170.6 472.1h0M170.7 473.4h0M170.8 469.8h0M170.9 473.0h0M171.0 469.8h0M171.2 469.8h0M171.3 470.0h0M171.4 470.7h0M171.5 469.9h0M171.6 469.8h0M171.8 469.8h0M171.9 469.8h0M172.0 469.8h0M172.1 472.4h0M172.2 471.5h0M172.4 474.0h0M172.5 470.3h0M172.6 471.6h0M172.7 472.3h0M172.9 474.6h0M173.0 472.9h0M173.1 471.5h0M173.2 471.5h0M173.3 469.8h0M173.5 469.8h0M173.6 471.0h0M173.7 473.2h0M173.8 475.0h0M173.9 474.8h0M174.1 478.1h0M174.2 478.2h0M174.3 478.1h0M174.4 478.2h0M174.5 473.7h0M174.7 473.0h0M174.8 474.9h0M174.9 472.3h0M175.0 474.1h0M175.2 472.8h0M175.3 475.3h0M175.4 477.1h0M175.5 475.4h0M175.6 478.1h0M175.8 477.0h0M175.9 475.7h0M176.0 474.9h0M176.1 478.2h0M176.2 478.2h0M176.4 478.2h0M176.5 477.8h0M176.6 478.2h0M176.7 477.4h0M176.9 478.2h0M177.0 477.9h0M177.1 477.6h0M177.2 477.7h0M177.3 474.5h0M177.5 473.9h0M177.6 472.4h0M177.7 472.2h0M177.8 470.7h0M177.9 473.1h0M178.1 471.1h0M178.2 472.9h0M178.3 472.9h0M178.4 471.7h0M178.5 474.2h0M178.7 475.9h0M178.8 478.0h0M178.9 478.2h0M179.0 478.2h0M179.2 478.2h0M179.3 478.2h0M179.4 475.9h0M179.5 478.2h0M179.6 477.4h0M179.8 474.1h0M179.9 478.2h0M180.0 478.2h0M180.1 477.4h0M180.2 478.2h0M180.4 477.4h0M180.5 478.0h0M180.6 474.4h0M180.7 471.9h0M180.9 475.0h0M181.0 476.2h0M181.1 478.0h0M181.2 476.8h0M181.3 478.2h0M181.5 476.7h0M181.6 475.7h0M181.7 471.6h0M181.8 472.4h0M181.9 474.9h0M182.1 474.1h0M182.2 474.9h0M182.3 473.2h0M182.4 472.8h0M182.5 473.1h0M182.7 471.3h0M182.8 471.0h0M182.9 474.3h0M183.0 476.5h0M183.2 474.0h0M183.3 473.1h0M183.4 475.3h0M183.5 474.3h0M183.6 476.6h0M183.8 478.2h0M183.9 477.9h0M184.0 475.0h0M184.1 473.9h0M184.2 472.2h0M184.4 470.6h0M184.5 469.6h0M184.6 471.9h0M184.7 472.4h0M184.8 475.7h0M185.0 475.9h0M185.1 476.3h0M185.2 476.9h0M185.3 478.4h0M185.5 478.4h0M185.6 478.4h0M185.7 478.5h0M185.8 478.5h0M185.9 478.6h0M186.1 478.6h0M186.2 478.6h0M186.3 478.4h0M186.4 478.7h0M186.5 478.8h0M186.7 478.8h0M186.8 478.8h0M186.9 478.9h0M187.0 478.9h0M187.2 477.5h0M187.3 476.4h0M187.4 475.0h0M187.5 475.8h0M187.6 476.1h0M187.8 476.0h0M187.9 477.0h0M188.0 474.2h0M187.8 457.2h0M187.9 454.7h0M188.0 453.8h0M188.2 456.2h0M188.3 452.3h0M188.4 451.5h0M188.5 453.0h0M188.7 451.2h0M188.8 440.0h0M188.9 448.4h0M189.0 439.9h0M189.2 441.0h0M189.3 441.5h0M189.4 439.7h0M189.5 449.9h0M189.6 439.2h0M189.8 442.0h0M189.9 448.4h0M190.0 440.9h0M190.1 439.9h0M190.3 444.7h0M190.4 441.0h0M190.5 438.5h0M190.6 433.6h0M190.7 430.8h0M190.9 428.9h0M191.0 434.2h0M191.1 427.0h0M191.2 418.5h0M191.4 424.7h0M191.5 417.0h0M191.6 417.1h0M191.7 417.1h0M191.9 412.7h0M192.0 411.8h0M192.1 426.5h0M192.2 421.2h0M192.3 422.4h0M192.5 421.4h0M192.6 419.5h0M192.7 422.5h0M192.8 424.9h0M193.0 429.4h0M193.1 428.7h0M193.2 429.1h0M193.3 427.4h0M193.5 425.6h0M193.6 422.8h0M193.7 423.7h0M193.8 421.3h0M193.9 419.7h0M194.1 414.7h0M194.2 423.2h0M194.3 421.4h0M194.4 419.0h0M194.6 419.2h0M194.7 415.5h0M194.8 414.9h0M194.9 412.6h0M195.1 410.9h0M195.2 415.6h0M195.3 419.6h0M195.4 419.8h0M195.5 418.5h0M195.7 421.6h0M195.8 424.3h0M195.9 427.3h0M196.0 423.7h0M196.2 427.4h0M196.3 427.5h0M196.4 424.2h0M196.5 425.7h0M196.6 415.3h0M196.8 411.6h0M196.9 411.6h0M197.0 413.2h0M197.1 411.9h0M197.3 412.0h0M197.4 413.8h0M197.5 412.3h0M197.6 412.4h0M197.8 412.5h0M197.9 412.6h0M198.0 412.8h0M198.0 425.0h0M198.1 423.5h0M198.2 423.4h0M198.4 423.5h0M198.5 427.6h0M198.6 429.1h0M198.7 427.6h0M198.9 426.2h0M199.0 428.5h0M199.1 428.1h0M199.2 425.3h0M199.3 427.2h0M199.5 427.3h0M199.6 428.7h0M199.7 428.2h0M199.8 432.5h0M199.9 429.8h0M200.1 432.3h0M200.2 430.5h0M200.3 435.8h0M200.4 435.4h0M200.6 435.0h0M200.7 437.3h0M200.8 437.6h0M200.9 436.2h0M201.0 434.9h0M201.2 432.7h0M201.3 435.7h0M201.4 434.6h0M201.5 435.4h0M201.6 435.2h0M201.8 436.0h0M201.9 432.6h0M202.0 435.1h0M202.1 439.3h0M202.3 432.9h0M202.4 434.6h0M202.5 431.7h0M202.6 435.0h0M202.7 432.4h0M202.9 434.9h0M203.0 432.7h0M203.1 435.8h0M203.2 436.1h0M203.3 437.3h0M203.5 437.3h0M203.6 435.9h0M203.7 436.5h0M203.8 439.0h0M204.0 439.1h0M204.1 438.5h0M204.2 439.9h0M204.3 444.3h0M204.4 442.7h0M204.6 440.5h0M204.7 443.2h0M204.8 447.8h0M204.9 445.6h0M205.0 444.1h0M205.2 446.4h0M205.3 445.2h0M205.4 442.4h0M205.5 443.3h0M205.7 439.4h0M205.8 440.6h0M205.9 445.4h0M206.0 448.2h0M206.1 449.4h0M206.3 450.8h0M206.4 454.3h0M206.5 455.4h0M206.6 456.3h0M206.7 451.2h0M206.9 458.7h0M207.0 459.2h0M207.1 454.6h0M207.2 454.0h0M207.4 459.0h0M207.5 459.7h0M207.6 461.6h0M207.7 462.0h0M207.8 454.8h0M208.0 454.7h0M208.1 451.0h0M208.2 457.0h0M208.3 459.9h0M208.4 465.0h0M208.6 462.0h0M208.7 454.8h0M208.8 456.6h0M208.9 462.1h0M209.1 457.3h0M209.2 455.0h0M209.3 459.0h0M209.4 459.7h0M209.5 454.9h0M209.7 455.4h0M209.8 458.7h0M209.9 456.3h0M210.0 453.3h0M210.1 453.3h0M210.3 453.8h0M210.4 454.3h0M210.5 454.8h0M210.6 455.3h0M210.8 455.8h0M210.9 456.3h0M211.0 456.8h0M211.1 457.2h0M211.2 459.2h0M211.4 459.2h0M211.5 462.2h0M211.6 459.2h0M211.7 459.7h0M211.9 462.7h0M212.0 469.5h0M212.1 467.3h0M212.2 470.6h0M212.3 465.7h0M212.5 467.0h0M212.6 466.0h0M212.7 466.6h0M212.8 465.6h0M212.9 469.9h0M213.1 472.5h0M213.2 471.3h0M213.3 468.9h0M213.4 470.1h0M213.6 469.8h0M213.7 463.3h0M213.8 470.2h0M213.9 472.5h0M214.0 470.1h0M214.2 473.2h0M214.3 472.1h0M214.4 469.0h0M214.5 468.1h0M214.6 466.6h0M214.8 463.2h0M214.9 465.1h0M215.0 463.7h0M215.1 463.3h0M215.3 468.5h0M215.4 467.1h0M215.5 468.2h0M215.6 467.6h0M215.7 466.6h0M215.9 466.8h0M216.0 463.3h0M216.1 467.3h0M216.2 462.2h0M216.3 462.2h0M216.5 462.2h0M216.6 464.1h0M216.7 468.7h0M216.8 471.1h0M217.0 466.5h0M217.1 468.1h0M217.2 467.8h0M217.3 468.2h0M217.4 466.6h0M217.6 470.0h0M217.7 468.1h0M217.8 471.2h0M217.9 472.4h0M218.0 471.5h0M218.2 470.2h0M218.3 468.8h0M218.4 473.1h0M218.5 470.6h0M218.7 473.0h0M218.8 473.0h0M218.9 473.0h0M219.0 471.3h0M219.1 472.9h0M219.3 472.8h0M219.4 472.8h0M219.5 470.8h0M219.6 472.0h0M219.7 470.9h0M219.9 472.6h0M220.0 472.6h0M220.1 472.5h0M220.2 469.0h0M220.4 472.5h0M220.5 471.5h0M220.6 469.1h0M220.7 469.8h0M220.8 471.1h0M221.0 472.3h0M221.1 471.1h0M221.2 470.3h0M221.3 470.7h0M221.4 469.7h0M221.6 468.3h0M221.7 470.2h0M221.8 469.0h0M221.9 465.4h0M222.1 467.4h0M222.2 467.5h0M222.3 466.9h0M222.4 471.8h0M222.5 467.2h0M222.7 471.4h0M222.8 471.7h0M222.9 469.9h0M223.0 467.4h0M223.1 467.4h0M223.3 470.1h0M223.4 471.1h0M223.5 470.2h0M223.6 470.8h0M223.8 468.5h0M223.9 467.5h0M224.0 463.3h0M224.0 463.2h0M224.1 465.8h0M224.2 465.9h0M224.4 465.6h0M224.5 466.9h0M224.6 464.1h0M224.7 463.2h0M224.9 460.9h0M225.0 463.1h0M225.1 460.6h0M225.2 464.7h0M225.4 467.2h0M225.5 466.5h0M225.6 466.2h0M225.7 460.6h0M225.9 462.6h0M226.0 458.5h0M226.1 460.5h0M226.2 462.0h0M226.3 458.9h0M226.5 460.8h0M226.6 456.6h0M226.7 456.7h0M226.8 456.5h0M227.0 453.6h0M227.1 452.3h0M227.2 461.2h0M227.3 452.1h0M227.5 450.4h0M227.6 450.8h0M227.7 457.3h0M227.8 459.8h0M228.0 459.4h0M228.1 457.5h0M228.2 456.9h0M228.3 457.5h0M228.4 456.8h0M228.6 456.1h0M228.7 455.4h0M228.8 454.7h0M228.9 454.1h0M229.1 452.7h0M229.2 450.6h0M229.3 442.5h0M229.4 444.4h0M229.6 441.9h0M229.7 436.0h0M229.8 440.1h0M229.9 439.7h0M230.1 436.2h0M230.2 431.9h0M230.3 431.2h0M230.4 434.9h0M230.6 438.3h0M230.7 436.4h0M230.8 436.6h0M230.9 429.2h0M231.0 428.0h0M231.2 427.0h0M231.3 426.3h0M231.4 426.1h0M231.5 429.4h0M231.7 428.2h0M231.8 423.8h0M231.9 423.2h0M232.0 422.6h0M232.2 424.5h0M232.3 422.0h0M232.4 421.4h0M232.5 421.0h0M232.7 420.6h0M232.8 421.5h0M232.9 420.3h0M233.0 422.5h0M233.1 422.1h0M233.3 425.5h0M233.4 418.1h0M233.5 417.7h0M233.6 417.3h0M233.8 416.9h0M233.9 416.5h0M234.0 417.5h0M234.1 418.5h0M234.3 419.6h0M234.4 416.7h0M234.5 418.8h0M234.6 419.3h0M234.8 415.9h0M234.9 416.5h0M235.0 416.5h0M234.8 378.8h0M234.9 382.2h0M235.0 383.5h0M235.2 388.2h0M235.3 387.4h0M235.4 388.4h0M235.5 387.6h0M235.7 388.9h0M235.8 391.1h0M235.9 375.0h0M236.0 374.2h0M236.2 372.7h0M236.3 372.5h0M236.4 380.3h0M236.5 380.2h0M236.7 367.4h0M236.8 369.0h0M236.9 367.0h0M237.0 366.7h0M237.2 365.8h0M237.3 368.4h0M237.4 371.8h0M237.5 378.5h0M237.7 382.2h0M237.8 379.8h0M237.9 381.0h0M238.0 380.1h0M238.2 385.8h0M238.3 385.8h0M238.4 387.5h0M238.5 383.6h0M238.7 376.7h0M238.8 388.0h0M238.9 382.7h0M239.0 386.5h0M239.2 391.2h0M239.3 386.3h0M239.4 386.6h0M239.5 386.5h0M239.7 391.3h0M239.8 389.8h0M239.9 395.2h0M240.0 394.4h0M240.2 392.1h0M240.3 386.5h0M240.4 389.0h0M240.5 386.9h0M240.7 387.3h0M240.8 387.1h0M240.9 383.4h0M241.0 381.1h0M241.2 377.8h0M241.3 381.0h0M241.4 385.8h0M241.5 390.9h0M241.7 390.3h0M241.8 391.8h0M241.9 395.2h0M236.0 369.9h0M236.1 368.8h0M236.2 370.1h0M236.3 362.8h0M236.4 364.2h0M236.6 366.7h0M236.7 374.4h0M236.8 372.7h0M236.9 369.6h0M237.0 371.2h0M242.0 397.3h0M242.1 401.2h0M242.2 401.2h0M242.4 401.0h0M242.5 400.6h0M242.6 401.1h0M242.8 401.1h0M242.9 401.1h0M243.0 400.5h0M243.1 398.5h0M243.2 396.8h0M243.4 396.1h0M243.5 394.9h0M243.6 392.5h0M243.8 393.4h0M243.9 394.2h0M244.0 393.1h0M244.1 394.0h0M244.2 395.1h0M244.4 400.8h0M244.5 399.3h0M244.6 396.7h0M244.8 398.8h0M244.9 398.3h0M245.0 400.7h0M245.1 398.1h0M245.2 393.9h0M245.4 395.2h0M245.5 394.6h0M245.6 394.6h0M245.8 392.1h0M245.9 392.2h0M246.0 396.4h0M246.1 392.1h0M246.2 395.8h0M246.4 392.4h0M246.5 395.9h0M246.6 394.3h0M246.8 393.1h0M246.9 394.1h0M247.0 395.1h0M247.1 393.3h0M247.2 394.8h0M247.4 393.6h0M247.5 391.8h0M244.2 416.6h0M244.3 416.6h0M244.4 411.4h0M244.6 413.6h0M244.7 415.6h0M244.8 409.2h0M244.9 407.5h0M245.1 408.6h0M245.2 409.8h0M245.3 411.3h0M245.4 404.8h0M245.5 408.2h0M245.7 406.1h0M245.8 403.6h0M245.9 407.1h0M246.0 404.6h0M246.2 408.9h0M246.3 414.5h0M246.4 413.4h0M246.5 409.3h0M246.6 404.5h0M246.8 401.5h0M246.9 400.9h0M247.0 401.2h0M247.1 398.5h0M247.3 400.7h0M247.4 403.5h0M247.5 400.6h0M247.6 400.7h0M247.8 399.2h0M247.9 403.2h0M248.0 404.2h0M248.1 405.7h0M248.2 406.3h0M248.4 402.5h0M248.5 407.0h0M248.6 404.1h0M248.7 410.9h0M248.9 410.8h0M249.0 410.1h0M249.1 405.7h0M249.2 409.4h0M249.3 403.5h0M249.5 408.5h0M249.6 409.8h0M249.7 409.4h0M249.8 409.5h0M250.0 409.3h0M250.1 405.5h0M250.2 400.8h0M250.3 401.3h0M250.4 401.1h0M250.6 405.6h0M250.7 404.1h0M250.8 408.7h0M250.9 408.6h0M251.1 408.5h0M251.2 407.0h0M251.3 407.7h0M251.4 404.9h0M251.5 402.6h0M251.7 402.7h0M251.8 406.0h0M251.9 400.8h0M252.0 404.1h0M252.2 401.3h0M252.3 401.4h0M252.4 399.5h0M252.5 398.6h0M252.7 396.0h0M252.8 400.0h0M252.9 400.6h0M253.0 399.2h0M253.1 397.6h0M253.3 392.8h0M253.4 392.8h0M253.5 396.8h0M253.6 398.2h0M253.8 394.8h0M253.9 393.5h0M254.0 401.3h0M254.1 400.8h0M254.2 399.6h0M254.4 402.7h0M254.5 402.8h0M254.6 401.6h0M254.7 400.7h0M254.9 395.1h0M255.0 394.8h0M255.1 396.0h0M255.2 395.4h0M255.3 397.9h0M255.5 399.3h0M255.6 398.5h0M255.7 399.2h0M255.8 394.0h0M256.0 392.8h0M256.1 393.2h0M256.2 393.6h0M256.3 396.1h0M256.4 395.3h0M256.6 392.5h0M256.7 392.4h0M256.8 394.5h0M256.9 399.6h0M257.1 399.3h0M257.2 399.9h0M257.3 400.4h0M257.4 396.4h0M257.6 395.5h0M257.7 405.2h0M257.8 401.6h0M257.9 405.2h0M258.0 405.2h0M258.2 405.2h0M258.3 405.2h0M258.4 405.2h0M258.5 405.2h0M258.7 402.0h0M258.8 403.4h0M258.9 405.2h0M259.0 405.2h0M259.1 405.2h0M259.3 405.2h0M259.4 403.1h0M259.5 402.9h0M259.6 405.2h0M259.8 405.2h0M259.9 405.2h0M260.0 405.2h0M256.0 377.2h0M256.1 380.1h0M256.2 389.2h0M256.2 380.9h0M256.3 378.6h0M256.4 383.2h0M256.5 384.0h0M256.5 372.4h0M256.6 365.8h0M256.7 365.8h0M256.8 365.8h0M256.8 372.4h0M256.9 380.8h0M257.0 382.5h0M260.0 396.0h0M260.1 394.8h0M260.2 390.5h0M260.4 396.3h0M260.5 394.8h0M260.6 400.3h0M260.7 404.5h0M260.8 404.4h0M261.0 398.0h0M261.1 399.1h0M261.2 395.8h0M261.3 394.0h0M261.5 392.8h0M261.6 393.4h0M261.7 396.7h0M261.8 394.5h0M261.9 391.2h0M262.1 391.5h0M262.2 392.0h0M262.3 390.9h0M262.4 392.7h0M262.5 395.4h0M262.7 395.8h0M262.8 394.0h0M262.9 390.9h0M263.0 387.7h0M263.2 387.6h0M263.3 387.7h0M263.4 392.1h0M263.5 387.2h0M263.6 391.5h0M263.8 393.8h0M263.9 393.1h0M264.0 388.9h0M264.1 395.5h0M264.2 392.7h0M264.4 389.2h0M264.5 387.6h0M264.6 391.1h0M264.7 395.6h0M264.9 396.0h0M265.0 397.5h0M265.1 392.8h0M265.2 391.9h0M265.3 393.5h0M265.5 396.6h0M265.6 391.7h0M265.7 395.9h0M265.8 396.4h0M265.9 393.7h0M266.1 390.2h0M266.2 389.1h0M266.3 382.9h0M266.4 384.5h0M266.6 388.8h0M266.7 389.1h0M266.8 385.4h0M266.9 389.8h0M267.0 388.0h0M267.2 396.2h0M267.3 395.3h0M267.4 393.4h0M267.5 394.0h0M267.6 391.3h0M267.8 388.9h0M267.9 384.8h0M268.0 388.6h0M268.1 389.0h0M268.3 389.5h0M268.4 389.1h0M268.5 393.3h0M268.6 387.7h0M268.7 386.6h0M268.9 388.0h0M269.0 389.7h0M269.1 391.0h0M269.2 378.0h0M269.3 377.8h0M269.5 382.0h0M269.6 378.3h0M269.7 390.1h0M269.8 377.0h0M270.0 383.8h0M270.1 384.5h0M270.2 391.9h0M270.3 388.4h0M270.4 391.5h0M270.6 384.4h0M270.7 381.3h0M270.8 377.4h0M270.9 377.9h0M271.0 379.1h0M271.2 383.4h0M271.3 385.9h0M271.4 384.2h0M271.5 375.9h0M271.7 379.4h0M271.8 378.4h0M271.9 381.2h0M272.0 380.2h0M272.1 378.7h0M272.3 374.7h0M272.4 372.0h0M272.5 371.7h0M272.6 371.5h0M272.7 373.5h0M272.9 376.7h0M273.0 374.2h0M273.1 376.1h0M273.2 380.8h0M273.4 374.4h0M273.5 369.8h0M273.6 372.3h0M273.7 373.2h0M273.8 377.6h0M274.0 382.5h0M274.1 383.7h0M274.2 377.4h0M274.3 378.9h0M274.4 378.9h0M274.6 381.0h0M274.7 381.5h0M274.8 378.2h0M274.9 379.6h0M275.1 378.8h0M275.2 378.3h0M275.3 377.2h0M275.4 379.0h0M275.5 376.7h0M275.7 378.3h0M275.8 375.1h0M275.9 370.7h0M276.0 371.3h0M276.1 365.5h0M276.3 363.2h0M276.4 361.0h0M276.5 364.8h0M276.6 363.1h0M276.7 361.1h0M276.9 360.6h0M277.0 362.6h0M277.1 357.6h0M277.2 362.3h0M277.4 361.4h0M277.5 360.1h0M277.6 368.0h0M277.7 366.9h0M277.8 364.6h0M278.0 372.0h0M278.1 363.8h0M278.2 365.5h0M278.3 370.8h0M278.4 361.2h0M278.6 364.3h0M278.7 367.1h0M278.8 369.7h0M278.9 368.7h0M279.1 363.7h0M279.2 362.3h0M279.3 365.2h0M279.4 359.4h0M279.5 358.6h0M279.7 359.3h0M279.8 359.2h0M279.9 357.1h0M280.0 352.0h0M280.1 346.2h0M280.3 346.3h0M280.4 343.2h0M280.5 342.7h0M280.6 344.5h0M280.8 344.7h0M280.9 341.2h0M281.0 340.8h0M281.1 343.2h0M281.2 346.4h0M281.4 339.3h0M281.5 338.8h0M281.6 338.3h0M281.7 337.8h0M281.8 337.4h0M282.0 340.3h0M282.1 336.8h0M282.2 336.8h0M282.3 336.8h0M282.5 338.3h0M282.6 337.1h0M282.7 338.1h0M282.8 341.3h0M282.9 343.3h0M283.1 338.7h0M283.2 340.7h0M283.3 336.8h0M283.4 340.9h0M283.5 341.2h0M283.7 342.2h0M283.8 344.6h0M283.9 347.7h0M284.0 341.1h0M284.2 341.9h0M284.3 336.8h0M284.4 343.6h0M284.5 336.8h0M284.6 336.8h0M284.8 336.8h0M284.9 340.6h0M285.0 336.8h0M285.1 341.0h0M285.2 337.2h0M285.4 337.5h0M285.5 341.7h0M285.6 346.1h0M285.7 345.6h0M285.9 350.3h0M286.0 351.5h0M286.1 348.9h0M286.2 347.9h0M286.3 349.2h0M286.5 355.2h0M286.6 353.7h0M286.7 353.5h0M286.8 349.6h0M286.9 348.0h0M287.1 352.3h0M287.2 346.3h0M287.3 344.7h0M287.4 346.4h0M287.6 344.2h0M287.7 354.2h0M287.8 345.0h0M287.9 346.2h0M288.0 351.2h0M288.2 346.2h0M288.3 347.2h0M288.4 350.3h0M288.5 355.8h0M288.6 351.2h0M288.8 346.2h0M288.9 352.2h0M289.0 360.3h0M289.1 352.5h0M289.3 345.9h0M289.4 354.9h0M289.5 351.6h0M289.6 352.6h0M289.7 355.6h0M289.9 353.2h0M290.0 356.8h0M290.1 363.5h0M290.2 363.9h0M290.3 356.7h0M290.5 357.2h0M290.6 365.0h0M290.7 365.4h0M290.8 360.7h0M290.9 363.2h0M291.1 366.1h0M291.2 365.9h0M291.3 362.7h0M291.4 360.5h0M291.6 360.0h0M291.7 360.3h0M291.8 356.0h0M291.9 353.8h0M292.0 353.6h0M292.2 359.8h0M292.3 360.9h0M292.4 358.3h0M292.5 363.7h0M292.6 363.3h0M292.8 363.3h0M292.9 363.1h0M293.0 362.9h0M293.1 362.7h0M293.3 361.0h0M293.4 356.4h0M293.5 359.6h0M293.6 361.9h0M293.7 357.1h0M293.9 355.1h0M294.0 349.3h0M294.1 356.9h0M294.2 353.8h0M294.3 355.8h0M294.5 347.6h0M294.6 354.7h0M294.7 351.1h0M294.8 349.8h0M295.0 352.8h0M295.1 350.1h0M295.2 350.1h0M295.3 346.3h0M295.4 349.7h0M295.6 346.4h0M295.7 349.0h0M295.8 346.9h0M295.9 353.1h0M296.0 353.8h0M296.2 350.0h0M296.3 350.2h0M296.4 348.2h0M296.5 350.2h0M296.7 349.2h0M296.8 343.5h0M296.9 348.9h0M297.0 349.4h0M297.1 346.9h0M297.3 347.1h0M297.4 349.2h0M297.5 346.2h0M297.6 345.6h0M297.7 339.0h0M297.9 342.1h0M298.0 341.8h0M298.1 337.0h0M298.2 342.3h0M298.4 345.3h0M298.5 346.9h0M298.6 345.0h0M298.7 342.8h0M298.8 347.2h0M299.0 342.5h0M299.1 341.0h0M299.2 344.9h0M299.3 343.1h0M299.4 343.6h0M299.6 342.0h0M299.7 340.5h0M299.8 342.8h0M299.9 344.2h0M300.1 341.6h0M300.2 342.6h0M300.3 345.5h0M300.4 345.7h0M300.5 342.0h0M300.7 341.3h0M300.8 338.9h0M300.9 341.1h0M301.0 340.7h0M301.1 342.2h0M301.3 340.0h0M301.4 340.0h0M301.5 341.3h0M301.6 342.6h0M301.8 342.4h0M301.9 343.9h0M302.0 343.8h0M302.1 343.3h0M302.2 340.9h0M302.4 336.7h0M302.5 338.8h0M302.6 341.1h0M302.7 340.2h0M302.8 341.7h0M303.0 340.3h0M303.1 341.6h0M303.2 340.7h0M303.3 339.7h0M303.5 338.3h0M303.6 337.9h0M303.7 340.4h0M303.8 339.3h0M303.9 338.6h0M304.1 338.9h0M304.2 339.7h0M304.3 339.0h0M304.4 339.6h0M304.5 338.9h0M304.7 337.8h0M304.8 337.3h0M304.9 337.9h0M305.0 339.7h0M305.2 339.5h0M305.3 339.3h0M305.4 339.2h0M305.5 339.0h0M305.6 338.4h0M305.8 338.5h0M305.9 338.4h0M306.0 338.2h0M305.5 244.0h0M305.6 244.5h0M305.7 247.3h0M305.9 242.8h0M306.0 241.2h0M306.1 241.6h0M306.2 234.0h0M306.4 234.0h0M306.5 243.1h0M306.6 236.8h0M306.7 237.8h0M306.8 233.5h0M307.0 234.2h0M307.1 236.5h0M307.2 236.0h0M307.3 250.3h0M307.4 234.3h0M307.6 251.6h0M307.7 251.5h0M307.8 236.1h0M307.9 227.0h0M308.1 239.4h0M308.2 238.7h0M308.3 246.1h0M308.4 250.8h0M308.5 237.7h0M308.7 231.3h0M308.8 212.9h0M308.9 225.0h0M309.0 214.5h0M309.2 219.9h0M309.3 219.2h0M309.4 207.7h0M309.5 220.0h0M309.6 224.9h0M309.8 226.0h0M309.9 203.6h0M310.0 202.7h0M310.1 202.5h0M310.2 202.3h0M310.4 202.1h0M310.5 201.9h0M310.6 201.7h0M310.7 201.5h0M310.9 201.3h0M311.0 204.9h0M311.1 204.0h0M311.2 200.7h0M311.3 200.5h0M311.5 208.4h0M311.6 228.6h0M311.7 214.6h0M311.8 206.4h0M312.0 209.4h0M312.1 218.7h0M312.2 211.9h0M312.3 210.6h0M312.4 200.3h0M312.6 217.0h0M312.7 212.6h0M312.8 203.7h0M312.9 215.4h0M313.0 214.0h0M313.2 217.4h0M313.3 227.1h0M313.4 242.7h0M313.5 247.9h0M313.7 239.0h0M313.8 239.6h0M313.9 212.1h0M314.0 238.2h0M314.1 234.9h0M314.3 242.9h0M314.4 230.0h0M314.5 204.0h0M314.6 222.5h0M314.8 224.5h0M314.9 232.2h0M315.0 227.7h0M315.1 227.4h0M315.2 237.0h0M315.4 215.4h0M315.5 241.2h0M315.6 234.1h0M315.7 226.4h0M315.8 247.8h0M316.0 249.2h0M316.1 238.7h0M316.2 230.8h0M316.3 237.4h0M316.5 250.8h0M316.6 246.1h0M316.7 228.1h0M316.8 230.1h0M316.9 230.9h0M317.1 249.6h0M317.2 253.2h0M317.3 253.6h0M317.4 254.0h0M317.5 254.4h0M317.7 254.8h0M317.8 246.1h0M317.9 244.4h0M318.0 248.0h0M318.2 243.5h0M318.3 245.9h0M318.4 250.0h0M318.5 252.6h0M318.6 239.2h0M318.8 247.1h0M318.9 251.6h0M319.0 259.1h0M319.1 251.6h0M319.3 255.7h0M319.4 254.0h0M319.5 243.7h0M319.6 244.8h0M319.7 255.1h0M319.9 251.6h0M320.0 262.3h0M320.1 250.4h0M320.2 239.4h0M320.3 242.2h0M320.5 243.6h0M320.6 241.0h0M320.7 254.3h0M320.8 259.7h0M321.0 258.8h0M321.1 273.2h0M321.2 279.7h0M321.3 274.1h0M321.4 286.9h0M321.6 288.3h0M321.7 289.7h0M321.8 288.7h0M321.9 271.8h0M322.1 274.2h0M322.2 286.1h0M322.3 293.8h0M322.4 294.1h0M322.5 294.3h0M322.7 294.6h0M322.8 294.8h0M322.9 295.1h0M323.0 295.3h0M323.1 295.5h0M323.3 295.8h0M323.4 293.5h0M323.5 291.9h0M323.6 282.3h0M323.8 296.8h0M323.9 288.2h0M324.0 284.3h0M324.0 281.0h0M324.1 292.8h0M324.2 283.3h0M324.4 289.5h0M324.5 283.2h0M324.6 283.6h0M324.7 284.8h0M324.9 287.5h0M325.0 284.1h0M325.1 287.1h0M325.2 286.5h0M325.3 275.9h0M325.5 276.6h0M325.6 272.8h0M325.7 280.0h0M325.8 284.2h0M326.0 275.8h0M326.1 280.6h0M326.2 272.8h0M326.3 283.1h0M326.5 273.0h0M326.6 278.0h0M326.7 269.5h0M326.8 268.2h0M326.9 265.3h0M327.1 272.2h0M327.2 261.2h0M327.3 259.5h0M327.4 262.4h0M327.6 267.5h0M327.7 275.3h0M327.8 275.3h0M327.9 272.3h0M328.0 271.6h0M328.2 263.0h0M328.3 254.6h0M328.4 255.6h0M328.5 254.5h0M328.7 263.9h0M328.8 263.5h0M328.9 269.5h0M329.0 273.6h0M329.1 275.4h0M329.3 273.5h0M329.4 270.3h0M329.5 271.3h0M329.6 270.8h0M329.8 259.8h0M329.9 270.2h0M330.0 267.3h0M330.1 261.7h0M330.2 253.6h0M330.4 276.6h0M330.5 266.0h0M330.6 265.4h0M330.7 264.9h0M330.9 262.1h0M331.0 258.1h0M331.1 269.9h0M331.2 278.6h0M331.4 275.2h0M331.5 274.2h0M331.6 273.4h0M331.7 273.4h0M331.8 268.8h0M332.0 268.7h0M332.1 270.1h0M332.2 275.6h0M332.3 272.6h0M332.5 274.4h0M332.6 260.3h0M332.7 275.6h0M332.8 278.0h0M332.9 277.5h0M333.1 266.4h0M333.2 262.0h0M333.3 266.9h0M333.4 258.0h0M333.6 257.2h0M333.7 250.1h0M333.8 259.5h0M333.9 260.5h0M334.0 247.3h0M334.2 250.9h0M334.3 252.5h0M334.4 247.8h0M334.5 249.2h0M334.7 250.0h0M334.8 262.1h0M334.9 256.0h0M335.0 263.1h0M335.1 266.1h0M335.3 260.3h0M335.4 260.4h0M335.5 254.6h0M335.6 250.3h0M335.8 256.3h0M335.9 258.3h0M336.0 262.3h0M336.1 266.6h0M336.3 265.1h0M336.4 260.1h0M336.5 265.8h0M336.6 253.8h0M336.7 247.1h0M336.9 252.0h0M337.0 250.1h0M337.1 253.2h0M337.2 245.9h0M337.4 257.3h0M337.5 263.5h0M337.6 263.2h0M337.6 249.9h0M337.7 253.2h0M337.8 244.6h0M338.0 248.9h0M338.1 251.7h0M338.2 249.0h0M338.3 254.5h0M338.5 250.5h0M338.6 251.9h0M338.7 246.7h0M338.8 247.4h0M338.9 254.0h0M339.1 249.5h0M339.2 244.7h0M339.3 247.7h0M339.4 254.3h0M339.6 257.0h0M339.7 261.7h0M339.8 251.6h0M339.9 252.3h0M340.0 253.0h0M340.2 260.5h0M340.3 257.9h0M340.4 264.0h0M340.5 266.2h0M340.7 266.4h0M340.8 266.7h0M340.9 267.0h0M341.0 267.3h0M341.1 263.1h0M341.3 258.7h0M341.4 264.1h0M341.5 267.8h0M341.6 268.5h0M341.8 263.7h0M341.9 269.0h0M342.0 267.4h0M342.1 260.3h0M342.2 260.7h0M342.4 263.4h0M342.5 265.4h0M342.6 264.4h0M342.7 264.1h0M342.9 261.8h0M343.0 255.1h0M343.1 255.9h0M343.2 256.7h0M343.3 264.3h0M343.5 257.6h0M343.6 261.7h0M343.7 252.9h0M343.8 248.7h0M344.0 250.4h0M344.1 249.4h0M344.2 252.7h0M344.3 250.1h0M344.4 251.9h0M344.6 250.8h0M344.7 251.1h0M344.8 251.4h0M344.9 251.8h0M345.1 259.4h0M345.2 252.5h0M345.3 256.5h0M345.4 260.9h0M345.6 264.1h0M345.7 263.8h0M345.8 261.6h0M345.9 262.6h0M346.0 268.2h0M346.2 263.4h0M346.3 268.2h0M346.4 273.1h0M346.5 277.0h0M346.7 275.8h0M346.8 268.7h0M346.9 267.0h0M347.0 269.0h0M347.1 279.0h0M347.3 276.8h0M347.4 276.0h0M347.5 279.7h0M347.6 278.1h0M347.8 279.6h0M347.9 280.2h0M348.0 280.4h0M348.1 280.6h0M348.2 280.8h0M348.4 276.0h0M348.5 277.5h0M348.6 272.9h0M348.7 274.7h0M348.9 271.2h0M349.0 273.2h0M349.1 270.5h0M349.2 271.6h0M349.3 279.1h0M349.5 277.1h0M349.6 271.1h0M349.7 271.5h0M349.8 268.3h0M350.0 266.5h0M350.1 274.4h0M350.2 276.7h0M350.3 276.5h0M350.4 273.9h0M350.6 268.2h0M350.7 267.9h0M350.8 268.2h0M350.9 268.6h0M351.1 273.5h0M351.2 269.2h0M351.3 275.4h0M351.4 280.0h0M351.5 276.5h0M351.7 276.6h0M351.8 275.2h0M351.9 272.3h0M352.0 274.4h0M352.2 276.6h0M352.3 278.5h0M352.4 280.0h0M352.5 277.9h0M352.6 276.9h0M352.8 278.0h0M352.9 278.3h0M353.0 274.1h0M353.1 273.9h0M353.3 274.2h0M353.4 274.5h0M353.5 274.8h0M354.0 309.2h0M354.1 308.9h0M354.2 314.2h0M354.4 311.5h0M354.5 310.0h0M354.6 305.2h0M354.8 304.9h0M354.9 304.6h0M355.0 304.2h0M355.1 308.0h0M355.2 308.3h0M355.4 319.5h0M355.5 323.8h0M355.6 316.4h0M355.8 313.0h0M355.9 323.2h0M356.0 313.2h0M356.1 324.4h0M356.2 329.8h0M356.4 321.2h0M356.5 324.6h0M356.6 324.2h0M356.8 321.9h0M356.9 321.7h0M357.0 326.2h0M357.1 323.4h0M357.2 316.4h0M357.4 325.8h0M357.5 321.7h0M357.6 315.4h0M357.8 328.5h0M357.9 312.8h0M358.0 310.3h0M358.1 314.4h0M358.2 310.1h0M358.4 304.1h0M358.5 308.3h0M358.6 306.8h0M358.8 308.1h0M358.9 313.7h0M359.0 305.7h0M359.1 307.6h0M359.2 312.9h0M359.4 330.5h0M359.5 330.8h0M359.6 333.5h0M359.8 319.9h0M359.9 324.5h0M360.0 316.8h0M360.1 321.7h0M360.2 324.1h0M360.4 326.5h0M360.5 322.8h0M360.0 356.6h0M360.1 349.3h0M360.2 357.8h0M360.4 356.9h0M360.5 350.6h0M360.6 350.5h0M360.7 350.9h0M360.9 351.2h0M361.0 353.1h0M361.1 357.1h0M361.2 358.4h0M361.3 358.9h0M361.5 358.6h0M361.6 356.8h0M361.7 353.7h0M361.8 354.4h0M361.9 358.2h0M362.1 361.1h0M362.2 356.4h0M362.3 356.9h0M362.4 364.6h0M362.6 363.6h0M362.7 356.5h0M362.8 359.9h0M362.9 364.1h0M363.0 371.3h0M363.2 366.8h0M363.3 366.5h0M363.4 362.6h0M363.5 372.2h0M363.7 371.9h0M363.8 367.6h0M363.9 365.5h0M364.0 369.9h0M364.1 367.0h0M364.3 361.6h0M364.4 367.4h0M364.5 368.2h0M364.6 368.0h0M364.7 370.2h0M364.9 368.0h0M365.0 367.9h0M365.1 363.5h0M365.2 370.2h0M365.4 372.6h0M365.5 375.9h0M365.6 372.9h0M365.7 377.6h0M365.8 366.9h0M366.0 367.6h0M366.1 374.0h0M366.2 376.7h0M366.3 374.5h0M366.4 374.3h0M366.6 372.3h0M366.7 371.6h0M366.8 375.7h0M366.9 374.2h0M367.1 375.5h0M367.2 373.3h0M367.3 376.5h0M367.4 381.9h0M367.5 382.0h0M367.7 376.6h0M367.8 371.1h0M367.9 371.5h0M368.0 376.4h0M368.2 373.8h0M368.3 374.1h0M368.4 372.9h0M368.5 373.2h0M368.6 373.6h0M368.8 378.1h0M368.9 375.5h0M369.0 374.6h0M369.1 380.8h0M369.2 383.4h0M369.4 381.5h0M369.5 386.1h0M369.6 383.1h0M369.7 382.4h0M369.9 384.8h0M370.0 381.3h0M370.1 381.9h0M370.2 381.3h0M370.3 378.4h0M370.5 379.0h0M370.6 388.9h0M370.7 383.2h0M370.8 385.7h0M371.0 389.1h0M371.1 389.4h0M371.2 392.6h0M371.3 393.6h0M371.4 398.1h0M371.6 396.9h0M371.7 396.5h0M371.8 391.8h0M371.9 397.1h0M372.0 395.8h0M372.2 390.1h0M372.3 390.5h0M372.4 387.8h0M372.5 393.5h0M372.7 392.7h0M372.8 399.2h0M372.9 390.3h0M373.0 392.8h0M373.1 394.8h0M373.3 393.1h0M373.4 393.1h0M373.5 396.5h0M373.6 398.0h0M373.8 402.2h0M373.9 393.9h0M374.0 396.8h0M374.1 393.4h0M374.2 398.1h0M374.4 396.5h0M374.5 400.9h0M374.6 395.3h0M374.7 395.0h0M374.8 392.3h0M375.0 392.7h0M375.1 393.0h0M375.2 394.1h0M375.3 397.8h0M375.5 394.0h0M375.6 394.3h0M375.7 397.3h0M375.8 394.9h0M375.9 395.3h0M376.1 402.6h0M376.2 405.8h0M376.3 402.3h0M376.4 406.6h0M376.6 407.9h0M376.7 409.0h0M376.8 408.7h0M376.9 407.3h0M377.0 403.7h0M377.2 402.3h0M377.3 407.8h0M377.4 409.8h0M377.5 415.1h0M377.6 414.6h0M377.8 402.7h0M377.9 405.1h0M378.0 412.0h0M378.1 412.6h0M378.3 408.9h0M378.4 409.2h0M378.5 416.3h0M378.6 409.5h0M378.7 413.8h0M378.9 409.6h0M379.0 403.3h0M379.1 410.0h0M379.2 403.2h0M379.3 403.4h0M379.5 403.9h0M379.6 403.9h0M379.7 406.2h0M379.8 405.7h0M380.0 406.4h0M380.1 413.5h0M380.2 407.2h0M380.3 405.4h0M380.4 405.6h0M380.6 405.9h0M380.7 410.8h0M380.8 411.5h0M380.9 413.0h0M381.1 408.2h0M381.2 413.9h0M381.3 407.6h0M381.4 411.0h0M381.5 413.2h0M381.7 411.5h0M381.8 414.3h0M381.9 411.2h0M382.0 410.5h0M382.1 418.7h0M382.3 422.0h0M382.4 421.9h0M382.5 421.7h0M382.6 421.6h0M382.8 421.5h0M382.9 421.4h0M383.0 421.2h0M383.0 370.7h0M383.1 372.3h0M383.2 372.4h0M383.4 369.7h0M383.5 370.4h0M383.6 371.3h0M383.7 373.2h0M383.8 371.0h0M384.0 373.5h0M384.1 374.4h0M384.2 373.5h0M384.3 375.2h0M384.5 381.1h0M384.6 382.6h0M384.7 379.4h0M384.8 379.6h0M384.9 381.0h0M385.1 380.4h0M385.2 385.0h0M385.3 379.9h0M385.4 378.9h0M385.5 382.4h0M385.7 385.9h0M385.8 387.8h0M385.9 388.5h0M386.0 389.4h0M386.2 389.9h0M386.3 387.3h0M386.4 388.3h0M386.5 390.8h0M386.6 392.1h0M386.8 392.7h0M386.9 393.2h0M387.0 393.8h0M387.1 394.3h0M387.2 394.8h0M387.4 394.4h0M387.5 394.9h0M387.6 391.9h0M387.7 391.0h0M387.8 396.4h0M388.0 398.1h0M388.1 398.7h0M388.2 395.6h0M388.3 393.1h0M388.5 390.6h0M388.6 395.2h0M388.7 397.5h0M388.8 396.7h0M388.9 398.9h0M389.1 400.0h0M389.2 397.7h0M389.3 400.7h0M389.4 401.7h0M389.5 403.3h0M389.7 403.4h0M389.8 405.2h0M389.9 406.8h0M390.0 407.4h0M390.2 402.8h0M390.3 403.3h0M390.4 407.6h0M390.5 403.4h0M390.6 404.7h0M390.8 402.5h0M390.9 411.5h0M391.0 412.8h0M391.1 413.4h0M391.2 412.2h0M391.4 409.1h0M391.5 408.5h0M391.6 409.5h0M391.7 404.3h0M391.8 412.7h0M392.0 409.2h0M392.1 406.9h0M392.2 413.2h0M392.3 411.6h0M392.5 413.6h0M392.6 411.5h0M392.7 402.8h0M392.8 411.8h0M392.9 406.4h0M393.1 417.0h0M393.2 405.6h0M393.3 404.7h0M393.4 409.5h0M393.5 413.2h0M393.7 412.4h0M393.8 408.9h0M393.9 413.1h0M394.0 407.1h0M394.2 407.1h0M394.3 407.4h0M394.4 407.7h0M394.5 411.4h0M394.6 411.2h0M394.8 413.1h0M394.9 420.6h0M395.0 410.3h0M395.1 409.6h0M395.2 409.9h0M395.4 410.2h0M395.5 411.5h0M395.6 410.8h0M395.7 411.1h0M395.8 411.7h0M396.0 414.6h0M396.1 412.0h0M396.2 418.4h0M396.3 417.5h0M396.5 415.7h0M396.6 418.2h0M396.7 420.9h0M396.8 417.7h0M396.9 428.7h0M397.1 416.1h0M397.2 419.4h0M397.3 425.4h0M397.4 418.3h0M397.5 426.5h0M397.7 420.4h0M397.8 427.0h0M397.9 426.9h0M398.0 427.6h0M398.2 431.6h0M398.3 432.8h0M398.4 430.6h0M398.5 437.5h0M398.6 436.5h0M398.8 432.1h0M398.9 433.9h0M399.0 435.6h0M399.1 437.8h0M399.2 437.9h0M399.4 429.4h0M399.5 431.7h0M399.6 435.6h0M399.7 430.3h0M399.8 431.0h0M400.0 422.5h0M400.1 426.8h0M400.2 432.8h0M400.3 424.5h0M400.5 427.9h0M400.6 430.4h0M400.7 435.5h0M400.8 438.7h0M400.9 432.0h0M401.1 433.1h0M401.2 435.3h0M401.3 428.4h0M401.4 430.4h0M401.5 439.0h0M401.7 439.1h0M401.8 438.0h0M401.9 426.0h0M402.0 430.3h0M402.2 429.6h0M402.3 427.0h0M402.4 425.9h0M402.5 436.8h0M402.6 430.1h0M402.8 424.7h0M402.9 425.0h0M403.0 426.1h0M403.1 426.7h0M403.2 424.0h0M403.4 427.8h0M403.5 425.5h0M403.6 425.1h0M403.7 425.9h0M403.8 428.1h0M404.0 426.9h0M404.1 431.2h0M404.2 432.2h0M404.3 430.6h0M404.5 433.0h0M404.6 440.3h0M404.7 440.3h0M404.8 437.5h0M404.9 440.4h0M405.1 438.5h0M405.2 435.8h0M405.3 437.7h0M405.4 439.9h0M405.5 440.7h0M405.7 438.7h0M405.8 440.8h0M405.9 440.8h0M406.0 440.9h0M406.2 440.9h0M406.3 441.0h0M406.4 441.0h0M406.5 440.2h0M406.6 441.1h0M406.8 441.2h0M406.9 441.2h0M407.0 441.2h0M407.1 440.8h0M407.2 436.4h0M407.4 441.0h0M407.5 440.9h0M407.6 436.3h0M407.7 438.5h0M407.8 440.7h0M408.0 439.9h0M408.1 435.7h0M408.2 438.3h0M408.3 431.2h0M408.5 437.9h0M408.6 437.4h0M408.7 434.7h0M408.8 437.3h0M408.9 437.4h0M409.1 433.1h0M409.2 438.4h0M409.3 433.6h0M409.4 434.6h0M409.5 439.3h0M409.7 434.6h0M409.8 437.3h0M409.9 435.7h0M410.0 437.8h0M410.2 435.1h0M410.3 438.7h0M410.4 438.5h0M410.5 436.8h0M410.6 437.0h0M410.8 435.7h0M410.9 439.4h0M411.0 434.5h0M411.1 433.6h0M411.2 435.5h0M411.4 435.9h0M411.5 437.7h0M411.6 438.1h0M411.7 434.7h0M411.8 436.0h0M412.0 433.5h0M412.1 434.8h0M412.2 436.5h0M412.3 432.8h0M412.5 431.8h0M412.6 438.8h0M412.7 438.4h0M412.8 437.9h0M412.9 436.4h0M413.1 435.6h0M413.2 434.3h0M413.3 435.5h0M413.4 438.0h0M413.5 438.1h0M413.7 438.1h0M413.8 440.3h0M413.9 440.9h0M414.0 440.2h0M414.2 441.4h0M414.3 435.5h0M414.4 439.4h0M414.5 440.5h0M414.6 439.3h0M414.8 436.3h0M414.9 440.0h0M415.0 439.5h0M415.1 441.3h0M415.2 440.7h0M415.4 439.7h0M415.5 440.6h0M415.6 436.5h0M415.7 435.9h0M415.8 436.1h0M416.0 436.5h0M416.1 436.6h0M416.2 436.5h0M416.3 438.8h0M416.5 439.7h0M416.6 443.1h0M416.7 444.7h0M416.8 446.6h0M416.9 445.5h0M417.1 446.8h0M417.2 444.8h0M417.3 444.8h0M417.4 445.5h0M417.5 447.8h0M417.7 443.7h0M417.8 440.8h0M417.9 438.6h0M418.0 438.8h0M418.2 439.0h0M418.3 439.2h0M418.4 439.4h0M418.5 439.6h0M418.6 439.8h0M418.8 440.0h0M418.9 440.2h0M419.0 441.8h0M419.1 443.6h0M419.2 443.7h0M419.4 443.0h0M419.5 442.1h0M419.6 442.0h0M419.7 446.3h0M419.8 445.3h0M420.0 447.3h0M420.1 448.1h0M420.2 451.2h0M420.3 449.1h0M420.5 449.9h0M420.6 448.6h0M420.7 447.6h0M420.8 445.1h0M420.9 445.7h0M421.1 448.9h0M421.2 446.0h0M421.3 449.2h0M421.4 448.9h0M421.5 453.6h0M421.7 451.5h0M421.8 454.3h0M421.9 454.5h0M422.0 454.1h0M422.2 454.8h0M422.3 454.9h0M422.4 455.1h0M422.5 455.2h0M422.6 453.2h0M422.8 451.0h0M422.9 452.7h0M423.0 453.0h0M423.1 451.9h0M423.2 452.9h0M423.4 452.7h0M423.5 452.7h0M423.6 452.7h0M423.7 453.6h0M423.8 457.0h0M424.0 453.0h0M424.1 453.2h0M424.2 450.5h0M424.3 449.3h0M424.5 450.4h0M424.6 449.7h0M424.7 449.9h0M424.8 453.7h0M424.9 455.5h0M425.1 456.5h0M425.2 455.6h0M425.3 458.8h0M425.4 456.9h0M425.5 455.1h0M425.7 459.5h0M425.8 459.6h0M425.9 459.6h0M426.0 460.0h0M426.2 458.7h0M426.3 459.0h0M426.4 459.9h0M426.5 458.2h0M426.6 460.1h0M426.8 459.1h0M426.9 458.2h0M427.0 458.0h0M427.1 460.2h0M427.2 459.4h0M427.4 461.2h0M427.5 461.9h0M427.6 462.1h0M427.7 461.6h0M427.8 462.4h0M428.0 462.5h0M428.1 462.7h0M428.2 462.9h0M428.3 463.0h0M428.5 463.0h0M428.6 463.4h0M428.7 462.6h0M428.8 463.7h0M428.9 463.8h0M429.1 462.7h0M429.2 464.1h0M429.3 461.9h0M429.4 459.8h0M429.5 460.8h0M429.7 460.9h0M429.8 462.3h0M429.9 460.7h0M430.0 462.5h0M430.2 462.2h0M430.3 459.1h0M430.4 460.6h0M430.5 461.5h0M430.6 459.7h0M430.8 459.1h0M430.9 461.9h0M431.0 461.3h0M431.1 460.9h0M431.2 461.5h0M431.4 463.1h0M431.5 462.9h0M431.6 462.8h0M431.7 462.2h0M431.8 463.1h0M432.0 461.0h0M432.1 460.6h0M432.2 460.0h0M432.3 459.5h0M432.5 459.7h0M432.6 460.0h0M432.7 460.1h0M432.8 459.7h0M432.9 461.2h0M433.1 463.2h0M433.2 462.8h0M433.3 463.7h0M433.4 464.9h0M433.5 462.8h0M433.7 463.0h0M433.8 461.3h0M433.9 460.1h0M434.0 460.1h0M434.2 464.6h0M434.3 463.2h0M434.4 464.7h0M434.5 466.8h0M434.6 466.8h0M434.8 466.8h0M434.9 466.9h0M435.0 466.9h0M435.1 467.0h0M435.2 467.0h0M435.4 466.8h0M435.5 467.1h0M435.6 467.1h0M435.7 465.6h0M435.8 464.9h0M436.0 467.2h0M436.1 466.4h0M436.2 465.9h0M436.3 463.8h0M436.5 464.8h0M436.6 465.8h0M436.7 466.6h0M436.8 466.1h0M436.9 463.7h0M437.1 465.3h0M437.2 465.7h0M437.3 465.9h0M437.4 465.8h0M437.5 465.7h0M437.7 465.6h0M437.8 465.5h0M437.9 463.4h0M438.0 462.9h0M438.2 459.9h0M438.3 460.7h0M438.4 464.9h0M438.5 464.7h0M438.6 464.6h0M438.8 462.1h0M438.9 458.7h0M439.0 457.4h0M439.1 456.2h0M439.2 459.3h0M439.4 461.8h0M439.5 455.8h0M439.6 454.2h0M439.7 455.0h0M439.8 453.1h0M440.0 452.8h0M440.1 454.1h0M440.2 457.1h0M440.3 455.3h0M440.5 451.2h0M440.6 451.7h0M440.7 450.4h0M440.8 450.9h0M440.9 449.6h0M441.1 449.5h0M441.2 448.8h0M441.3 448.4h0M441.4 448.0h0M441.5 447.6h0M441.7 447.2h0M441.8 446.8h0M441.9 446.4h0M442.0 451.7h0M442.2 447.7h0M442.3 447.5h0M442.4 447.2h0M442.5 452.5h0M442.6 452.1h0M442.8 452.2h0M442.9 449.9h0M443.0 449.7h0M443.0 453.1h0M443.1 440.1h0M443.2 448.3h0M443.4 446.2h0M443.5 441.0h0M443.6 436.7h0M443.7 437.3h0M443.9 432.5h0M444.0 435.9h0M444.1 432.1h0M444.2 429.8h0M444.3 428.9h0M444.5 428.0h0M444.6 427.1h0M444.7 426.2h0M444.8 425.3h0M445.0 428.6h0M445.1 429.2h0M445.2 428.0h0M445.3 430.6h0M445.4 432.0h0M445.6 425.8h0M445.7 419.0h0M445.8 420.0h0M445.9 429.0h0M446.1 416.9h0M446.2 425.9h0M446.3 426.2h0M446.4 425.0h0M446.5 423.4h0M446.7 423.2h0M446.8 434.5h0M446.9 436.8h0M447.0 433.4h0M447.2 432.4h0M447.3 425.1h0M447.4 433.5h0M447.5 439.4h0M447.6 443.2h0M447.8 436.6h0M447.9 440.6h0M448.0 435.5h0M448.1 433.4h0M448.3 431.0h0M448.4 440.9h0M448.5 436.2h0M448.6 441.8h0M448.7 437.9h0M448.9 442.6h0M449.0 436.1h0M449.1 438.0h0M449.2 428.8h0M449.4 430.1h0M449.5 437.4h0M449.6 434.4h0M449.7 442.0h0M449.8 439.4h0M450.0 440.3h0M450.1 435.9h0M450.2 439.0h0M450.3 439.1h0M450.5 437.1h0M450.6 437.2h0M450.7 441.4h0M450.8 443.2h0M450.9 443.2h0M451.1 443.2h0M451.2 441.2h0M451.3 432.6h0M451.4 435.9h0M451.5 438.6h0M451.7 435.7h0M451.8 438.4h0M451.9 442.3h0M452.0 440.7h0M452.2 442.8h0M452.3 442.5h0M452.4 436.4h0M452.5 437.0h0M452.6 438.1h0M452.8 437.5h0M452.9 437.3h0M453.0 434.9h0M453.1 435.1h0M453.3 437.0h0M453.4 439.9h0M453.5 442.6h0M453.6 441.5h0M453.7 442.0h0M453.9 441.7h0M454.0 441.2h0M454.1 441.0h0M454.2 443.2h0M454.4 438.5h0M454.5 440.5h0M454.6 439.6h0M454.7 441.7h0M454.8 437.7h0M455.0 442.2h0M455.1 443.2h0M455.2 441.5h0M455.3 438.5h0M455.5 439.5h0M455.6 437.6h0M455.7 441.5h0M455.8 436.4h0M455.9 442.8h0M456.1 442.6h0M456.2 438.4h0M456.3 435.3h0M456.4 433.6h0M456.6 439.3h0M456.7 442.3h0M456.8 437.1h0M456.9 439.9h0M457.0 432.0h0M457.2 429.4h0M457.3 435.6h0M457.4 426.4h0M457.5 430.8h0M457.7 431.9h0M457.8 425.2h0M457.9 424.9h0M458.0 424.7h0M458.1 427.2h0M458.3 427.4h0M458.4 429.9h0M458.5 435.1h0M458.6 436.0h0M458.8 428.4h0M458.9 424.6h0M459.0 428.7h0M460.0 406.7h0M460.1 414.2h0M460.2 418.5h0M460.4 414.2h0M460.5 412.9h0M460.6 420.5h0M460.8 405.6h0M460.9 410.8h0M461.0 402.5h0M461.1 400.5h0M461.2 402.4h0M461.4 399.6h0M461.5 399.8h0M461.6 394.4h0M461.8 399.8h0M461.9 403.3h0M462.0 398.0h0M462.1 388.1h0M462.2 384.8h0M462.4 385.0h0M462.5 388.1h0M462.6 394.0h0M462.8 394.8h0M462.9 391.0h0M463.0 393.5h0M463.1 385.9h0M463.2 377.6h0M463.4 388.0h0M463.5 385.9h0M463.6 384.9h0M463.8 377.4h0M463.9 383.5h0M464.0 379.0h0M464.1 375.6h0M464.2 372.9h0M464.4 372.3h0M464.5 371.8h0M464.6 371.2h0M464.8 379.9h0M464.9 387.2h0M465.0 392.1h0M465.1 391.0h0M465.2 392.1h0M465.4 384.7h0M465.5 390.6h0M465.6 385.2h0M465.8 379.9h0M465.9 386.6h0M466.0 374.2h0M466.0 356.1h0M466.1 360.8h0M466.2 358.9h0M466.4 366.2h0M466.5 353.2h0M466.6 351.1h0M466.8 352.4h0M466.9 356.8h0M467.0 359.9h0M467.1 356.3h0M467.2 369.4h0M467.4 354.4h0M467.5 355.5h0M467.6 357.0h0M467.8 353.8h0M467.9 352.1h0M468.0 351.3h0M468.1 345.5h0M468.2 342.5h0M468.4 342.2h0M468.5 341.9h0M468.6 347.3h0M468.8 344.1h0M468.9 360.8h0M469.0 367.2h0M469.1 359.1h0M469.2 340.8h0M469.4 337.4h0M469.5 338.0h0M469.6 335.1h0M469.8 334.0h0M469.9 332.9h0M470.0 331.8h0M470.1 330.6h0M470.2 329.5h0M470.4 328.4h0M470.5 327.2h0M470.6 329.2h0M470.8 325.0h0M470.9 330.1h0M471.0 331.0h0M475.0 350.7h0M475.1 351.4h0M475.2 339.1h0M475.4 337.9h0M475.5 339.2h0M475.6 334.3h0M475.7 333.9h0M475.9 347.1h0M476.0 334.3h0M476.1 334.5h0M476.2 335.4h0M476.3 347.7h0M476.5 348.2h0M476.6 339.8h0M476.7 347.6h0M476.8 350.7h0M477.0 347.8h0M477.1 349.5h0M477.2 352.8h0M477.3 360.2h0M477.4 355.9h0M477.6 360.0h0M477.7 347.3h0M477.8 346.2h0M477.9 350.8h0M478.0 357.0h0M478.2 360.0h0M478.3 351.3h0M478.4 346.5h0M478.5 343.9h0M478.7 355.2h0M478.8 367.2h0M478.9 356.4h0M479.0 360.2h0M479.1 369.7h0M479.3 357.1h0M479.4 351.3h0M479.5 341.9h0M479.6 357.2h0M479.8 360.1h0M479.9 351.9h0M480.0 340.8h0M480.1 347.9h0M480.2 351.0h0M480.4 348.4h0M480.5 343.2h0M480.6 342.2h0M480.7 341.0h0M480.9 341.0h0M481.0 351.3h0M481.1 354.9h0M481.2 350.8h0M481.3 360.0h0M481.5 363.9h0M481.6 360.1h0M481.7 358.3h0M481.8 365.8h0M482.0 357.0h0M482.1 355.0h0M482.2 359.6h0M482.3 365.5h0M482.4 367.1h0M482.6 358.6h0M482.7 370.2h0M482.8 368.9h0M482.9 358.3h0M483.0 359.8h0M483.2 356.3h0M483.3 361.2h0M483.4 352.7h0M483.5 366.3h0M483.7 364.4h0M483.8 357.7h0M483.9 368.2h0M484.0 359.7h0M484.1 346.6h0M484.3 353.2h0M484.4 359.3h0M484.5 344.7h0M484.6 348.3h0M484.8 351.2h0M484.9 352.3h0M485.0 351.8h0M485.1 363.6h0M485.2 355.1h0M485.4 342.5h0M485.5 357.5h0M485.6 346.6h0M485.7 342.7h0M485.9 342.7h0M486.0 342.8h0M486.1 343.0h0M486.2 347.1h0M486.3 346.2h0M486.5 349.6h0M486.6 344.2h0M486.7 344.5h0M486.8 344.8h0M487.0 345.1h0M487.1 352.4h0M487.2 355.9h0M487.3 349.0h0M487.4 346.3h0M487.6 355.7h0M487.7 349.1h0M487.8 354.1h0M487.9 361.8h0M488.0 351.2h0M488.2 353.5h0M488.3 348.5h0M488.4 353.6h0M488.5 349.1h0M488.7 354.7h0M488.8 358.9h0M488.9 359.9h0M489.0 368.7h0M489.1 366.1h0M489.3 363.1h0M489.4 364.5h0M489.5 356.6h0M489.6 356.1h0M489.8 370.5h0M489.9 364.0h0M490.0 368.9h0M490.0 378.4h0M490.1 381.8h0M490.2 375.6h0M490.4 374.7h0M490.5 367.3h0M490.6 368.2h0M490.8 371.0h0M490.9 372.3h0M491.0 378.7h0M491.1 379.8h0M491.2 374.3h0M491.4 374.6h0M491.5 375.9h0M491.6 375.2h0M491.8 376.7h0M491.9 376.9h0M492.0 377.5h0M492.1 373.2h0M492.2 378.5h0M492.4 379.3h0M492.5 376.9h0M492.6 373.2h0M492.8 375.7h0M492.9 374.9h0M493.0 374.8h0M493.1 375.2h0M493.2 381.1h0M493.4 383.8h0M493.5 384.6h0M493.6 383.2h0M493.8 384.6h0M493.9 378.2h0M494.0 378.8h0M494.1 380.0h0M494.2 386.3h0M494.4 383.3h0M494.5 385.3h0M494.6 387.8h0M494.8 382.8h0M494.9 383.4h0M495.0 384.1h0M495.1 384.8h0M495.2 385.4h0M495.4 386.1h0M495.5 386.8h0M495.6 387.6h0M495.8 397.4h0M495.9 399.3h0M496.0 399.7h0M496.1 403.6h0M496.2 400.5h0M496.4 404.8h0M496.5 405.5h0M496.6 403.3h0M496.8 406.7h0M496.9 405.8h0M497.0 408.1h0M501.0 360.5h0M501.1 358.3h0M501.2 357.9h0M501.4 359.3h0M501.5 357.4h0M501.6 357.5h0M501.8 354.6h0M501.9 352.5h0M502.0 356.7h0M502.1 349.8h0M502.2 353.0h0M502.4 354.4h0M502.5 354.9h0M502.6 360.2h0M502.8 355.9h0M502.9 351.4h0M503.0 350.9h0M503.1 350.1h0M503.2 358.1h0M503.4 347.7h0M503.5 347.5h0M503.6 352.3h0M503.8 353.1h0M503.9 351.3h0M504.0 344.8h0M504.1 350.1h0M504.2 344.2h0M504.4 345.3h0M504.5 343.8h0M504.6 343.5h0M504.8 343.2h0M504.9 353.6h0M505.0 354.6h0M505.1 352.3h0M505.2 354.8h0M505.4 352.0h0M505.5 358.7h0M505.6 352.5h0M505.8 352.7h0M505.9 343.3h0M506.0 343.0h0M506.1 344.9h0M506.2 356.8h0M506.4 354.1h0M506.5 364.8h0M506.6 365.1h0M506.8 365.5h0M506.9 365.9h0M507.0 366.2h0M507.1 361.7h0M507.2 367.0h0M507.4 367.4h0M507.5 359.2h0M507.6 359.7h0M507.8 368.5h0M507.9 368.9h0M508.0 358.1h0M510.0 375.2h0M510.1 379.3h0M510.2 376.9h0M510.4 373.4h0M510.5 371.6h0M510.6 379.9h0M510.7 374.4h0M510.9 378.6h0M511.0 372.2h0M511.1 373.1h0M511.2 375.6h0M511.3 375.5h0M511.5 376.8h0M511.6 376.6h0M511.7 378.5h0M511.8 377.9h0M512.0 377.4h0M512.1 384.3h0M512.2 380.3h0M512.3 380.2h0M512.4 375.0h0M512.6 375.7h0M512.7 374.3h0M512.8 375.5h0M512.9 375.0h0M513.0 375.6h0M513.2 381.6h0M513.3 377.5h0M513.4 379.0h0M513.5 382.6h0M513.7 394.1h0M513.8 392.5h0M513.9 392.7h0M514.0 392.6h0M514.1 388.1h0M514.3 386.8h0M514.4 388.2h0M514.5 391.6h0M514.6 389.9h0M514.8 388.1h0M514.9 390.4h0M515.0 390.8h0M515.1 385.4h0M515.2 393.2h0M515.4 396.2h0M515.5 392.8h0M515.6 393.4h0M515.7 387.5h0M515.9 393.7h0M516.0 391.4h0M516.1 386.7h0M516.2 387.1h0M516.3 399.4h0M516.5 395.3h0M516.6 392.6h0M516.7 395.3h0M516.8 395.7h0M517.0 401.9h0M517.1 394.4h0M517.2 389.9h0M517.3 391.4h0M517.4 397.0h0M517.6 396.7h0M517.7 402.3h0M517.8 397.5h0M517.9 395.2h0M518.0 397.5h0M518.2 401.6h0M518.3 404.0h0M518.4 403.2h0M518.5 397.8h0M518.7 400.1h0M518.8 405.3h0M518.9 412.6h0M519.0 407.8h0M519.1 411.9h0M519.3 407.9h0M519.4 404.2h0M519.5 405.9h0M519.6 404.6h0M519.8 405.3h0M519.9 409.0h0M520.0 407.7h0M520.1 408.4h0M520.2 411.4h0M520.4 410.1h0M520.5 410.5h0M520.6 413.3h0M520.7 410.0h0M520.9 410.9h0M521.0 412.3h0M521.1 411.2h0M521.2 410.0h0M521.3 412.2h0M521.5 419.9h0M521.6 423.6h0M521.7 422.3h0M521.8 415.7h0M522.0 410.5h0M522.1 409.9h0M522.2 416.4h0M522.3 420.1h0M522.4 419.0h0M522.6 415.5h0M522.7 419.0h0M522.8 413.1h0M522.9 417.6h0M523.0 418.4h0M523.2 411.9h0M523.3 415.1h0M523.4 414.5h0M523.5 415.9h0M523.7 412.3h0M523.8 411.5h0M523.9 415.6h0M524.0 418.6h0M524.1 419.4h0M524.3 416.9h0M524.4 417.2h0M524.5 418.6h0M524.6 416.2h0M524.8 414.1h0M524.9 417.9h0M525.0 420.8h0M525.0 419.1h0M525.1 414.5h0M525.2 417.5h0M525.4 423.1h0M525.5 419.6h0M525.6 422.3h0M525.7 425.4h0M525.9 419.7h0M526.0 422.4h0M526.1 419.0h0M526.2 423.6h0M526.4 423.9h0M526.5 412.1h0M526.6 414.9h0M526.7 419.6h0M526.9 422.6h0M527.0 422.3h0M527.1 420.5h0M527.2 416.7h0M527.3 412.3h0M527.5 416.2h0M527.6 411.7h0M527.7 415.9h0M527.8 417.2h0M528.0 417.9h0M528.1 408.8h0M528.2 414.1h0M528.3 418.9h0M528.5 413.9h0M528.6 413.2h0M528.7 410.5h0M528.8 411.0h0M529.0 411.5h0M529.1 408.3h0M529.2 402.7h0M529.3 402.1h0M529.4 403.2h0M529.6 404.6h0M529.7 401.4h0M529.8 406.4h0M529.9 398.9h0M530.1 405.7h0M530.2 405.2h0M530.3 405.5h0M530.4 403.2h0M530.6 402.7h0M530.7 407.4h0M530.8 402.6h0M530.9 398.9h0M531.0 400.2h0M531.2 397.3h0M531.3 393.3h0M531.4 395.2h0M531.5 393.0h0M531.7 388.1h0M531.8 388.2h0M531.9 383.6h0M532.0 389.9h0M532.2 391.3h0M532.3 392.8h0M532.4 385.2h0M532.5 380.8h0M532.7 379.7h0M532.8 379.1h0M532.9 378.5h0M533.0 378.0h0M533.1 377.4h0M533.3 376.8h0M533.4 376.2h0M533.5 380.3h0M533.6 382.7h0M533.8 378.5h0M533.9 385.9h0M534.0 382.1h0M534.1 384.6h0M534.3 378.5h0M534.4 379.2h0M534.5 388.7h0M534.6 384.7h0M534.8 381.1h0M534.9 375.7h0M535.0 377.5h0M535.0 382.4h0M535.1 376.3h0M535.2 369.9h0M535.4 371.7h0M535.5 362.3h0M535.6 361.9h0M535.7 365.6h0M535.9 367.0h0M536.0 358.1h0M536.1 354.2h0M536.2 357.5h0M536.3 353.2h0M536.5 352.6h0M536.6 356.1h0M536.7 352.2h0M536.8 367.8h0M537.0 366.6h0M537.1 370.1h0M537.2 355.0h0M537.3 351.3h0M537.4 351.1h0M537.6 350.9h0M537.7 350.7h0M537.8 350.5h0M537.9 350.4h0M538.0 350.2h0M538.2 350.0h0M538.3 349.8h0M538.4 349.6h0M538.5 349.4h0M538.7 349.3h0M538.8 355.1h0M538.9 359.1h0M539.0 351.5h0M539.1 351.1h0M539.3 361.5h0M539.4 355.8h0M539.5 354.2h0M539.6 361.7h0M539.8 355.0h0M539.9 353.7h0M540.0 350.6h0M540.1 350.2h0M540.2 351.4h0M540.4 352.9h0M540.5 352.8h0M540.6 358.8h0M540.7 363.8h0M540.9 356.3h0M541.0 366.7h0M541.1 358.4h0M541.2 366.6h0M541.3 363.5h0M541.5 354.6h0M541.6 353.0h0M541.7 347.6h0M541.8 353.3h0M542.0 347.8h0M542.1 345.9h0M542.2 351.2h0M542.3 345.4h0M542.4 347.4h0M542.6 345.2h0M542.7 347.5h0M542.8 353.5h0M542.9 363.4h0M543.0 347.9h0M543.2 369.1h0M543.3 359.3h0M543.4 357.9h0M543.5 348.3h0M543.7 358.0h0M543.8 345.8h0M543.9 353.3h0M544.0 347.4h0M544.1 348.9h0M544.3 346.0h0M544.4 349.4h0M544.5 346.3h0M544.6 346.4h0M544.8 348.5h0M544.9 346.6h0M545.0 346.8h0M545.1 346.9h0M545.2 347.0h0M545.4 347.1h0M545.5 347.2h0M545.6 347.4h0M545.7 347.5h0M545.9 352.4h0M546.0 350.8h0M546.1 356.6h0M546.2 362.0h0M546.3 365.9h0M546.5 363.8h0M546.6 356.5h0M546.7 357.8h0M546.8 360.2h0M547.0 370.6h0M547.1 370.7h0M547.2 373.4h0M547.3 374.1h0M547.4 368.4h0M547.6 355.1h0M547.7 350.5h0M547.8 364.8h0M547.9 349.7h0M548.0 354.5h0M548.2 352.4h0M548.3 357.8h0M548.4 370.8h0M548.5 369.7h0M548.7 368.7h0M548.8 360.8h0M548.9 367.8h0M549.0 365.1h0M549.1 360.6h0M549.3 360.7h0M549.4 362.0h0M549.5 367.1h0M549.6 371.1h0M549.8 372.5h0M549.9 368.8h0M550.0 359.8h0M550.1 362.6h0M550.2 363.3h0M550.4 361.7h0M550.5 358.4h0M550.6 362.6h0M550.7 363.5h0M550.9 366.3h0M551.0 361.4h0M551.1 357.9h0M551.2 358.8h0M551.3 354.3h0M551.5 354.0h0M551.6 352.5h0M551.7 352.5h0M551.8 357.1h0M552.0 357.3h0M552.1 360.4h0M552.2 360.7h0M552.3 359.9h0M552.4 360.2h0M552.6 352.2h0M552.7 356.6h0M552.8 354.3h0M552.9 363.3h0M553.0 370.9h0M553.2 362.8h0M553.3 370.4h0M553.4 368.4h0M553.5 367.0h0M553.7 368.2h0M553.8 370.4h0M553.9 363.7h0M554.0 360.3h0M554.1 362.0h0M554.3 354.5h0M554.4 355.0h0M554.5 356.8h0M554.6 353.4h0M554.8 351.2h0M554.9 351.2h0M555.0 355.2h0M555.1 354.4h0M555.2 351.1h0M555.4 354.5h0M555.5 358.8h0M555.6 358.9h0M555.7 356.9h0M555.9 351.8h0M556.0 352.2h0M556.1 351.4h0M556.2 350.6h0M556.3 358.2h0M556.5 358.7h0M556.6 350.5h0M556.7 350.4h0M556.8 350.3h0M557.0 355.0h0M557.1 357.0h0M557.2 354.7h0M557.3 352.4h0M557.4 354.0h0M557.6 351.5h0M557.7 351.8h0M557.8 349.8h0M557.9 351.6h0M558.0 349.7h0M558.2 349.7h0M558.3 349.6h0M558.4 349.5h0M558.5 350.5h0M558.7 349.4h0M558.8 349.4h0M558.9 349.3h0M559.0 349.2h0M559.1 349.2h0M559.3 349.1h0M559.4 351.3h0M559.5 349.0h0M559.6 352.5h0M559.8 349.8h0M559.9 348.8h0M560.0 350.5h0M566.0 361.0h0M566.1 369.4h0M566.2 367.1h0M566.4 365.1h0M566.5 357.4h0M566.6 358.1h0M566.7 361.4h0M566.9 365.0h0M567.0 363.3h0M567.1 355.7h0M567.2 354.9h0M567.3 356.4h0M567.5 364.3h0M567.6 359.4h0M567.7 348.5h0M567.8 353.4h0M568.0 359.6h0M568.1 355.0h0M568.2 346.3h0M568.3 352.6h0M568.4 348.3h0M568.6 350.4h0M568.7 354.4h0M568.8 350.9h0M568.9 359.8h0M569.1 350.4h0M569.2 358.3h0M569.3 359.0h0M569.4 348.4h0M569.6 358.5h0M569.7 357.0h0M569.8 352.1h0M569.9 364.8h0M570.0 351.3h0M570.2 345.5h0M570.3 350.5h0M570.4 362.0h0M570.5 359.7h0M570.7 362.9h0M570.8 369.6h0M570.9 366.7h0M571.0 370.5h0M571.1 374.4h0M571.3 374.1h0M571.4 356.0h0M571.5 352.5h0M571.6 357.8h0M571.8 365.5h0M571.9 363.6h0M572.0 356.3h0M572.1 351.0h0M572.2 354.9h0M572.4 358.3h0M572.5 347.5h0M572.6 358.8h0M572.7 357.2h0M572.9 360.6h0M573.0 361.9h0M573.1 363.4h0M573.2 362.5h0M573.3 371.4h0M573.5 374.2h0M573.6 369.4h0M573.7 369.1h0M573.8 364.2h0M574.0 369.5h0M574.1 368.0h0M574.2 366.3h0M574.3 350.9h0M574.4 357.2h0M574.6 354.4h0M574.7 367.0h0M574.8 371.8h0M574.9 372.3h0M575.1 373.5h0M575.2 375.2h0M575.3 375.2h0M575.4 375.2h0M575.6 375.2h0M575.7 369.6h0M575.8 362.9h0M575.9 367.9h0M576.0 375.2h0M576.2 375.2h0M576.3 374.1h0M576.4 368.8h0M576.5 373.4h0M576.7 375.2h0M576.8 363.8h0M576.9 357.5h0M577.0 371.4h0M577.1 369.5h0M577.3 375.2h0M577.4 372.9h0M577.5 375.2h0M577.6 369.3h0M577.8 371.3h0M577.9 372.2h0M578.0 371.7h0M578.1 362.1h0M578.2 370.0h0M578.4 365.9h0M578.5 360.7h0M578.6 372.4h0M578.7 374.8h0M578.9 374.7h0M579.0 370.8h0M579.1 371.2h0M579.2 372.1h0M579.3 365.9h0M579.5 352.3h0M579.6 362.5h0M579.7 361.9h0M579.8 366.6h0M580.0 353.3h0M580.1 350.1h0M580.2 360.2h0M580.3 359.1h0M580.4 362.3h0M580.6 362.0h0M580.7 362.6h0M580.8 356.4h0M580.9 355.0h0M581.1 350.8h0M581.2 356.2h0M581.3 355.6h0M581.4 359.2h0M581.6 358.6h0M581.7 355.1h0M581.8 367.7h0M581.9 356.2h0M582.0 357.8h0M582.2 357.6h0M582.3 362.4h0M582.4 351.7h0M582.5 363.9h0M582.7 367.4h0M582.8 368.8h0M582.9 354.4h0M583.0 357.0h0M583.1 355.5h0M583.3 357.4h0M583.4 364.5h0M583.5 358.9h0M583.6 361.9h0M583.8 364.4h0M583.9 361.4h0M584.0 358.7h0M584.0 361.5h0M584.1 365.4h0M584.2 363.2h0M584.4 361.7h0M584.5 366.1h0M584.6 363.1h0M584.7 353.0h0M584.9 351.7h0M585.0 359.8h0M585.1 354.0h0M585.2 348.9h0M585.3 348.3h0M585.5 355.2h0M585.6 354.4h0M585.7 360.4h0M585.8 353.2h0M586.0 360.6h0M586.1 361.6h0M586.2 366.1h0M586.3 359.1h0M586.4 365.5h0M586.6 361.6h0M586.7 361.6h0M586.8 361.4h0M586.9 360.7h0M587.1 362.2h0M587.2 351.3h0M587.3 357.9h0M587.4 357.2h0M587.6 355.1h0M587.7 354.4h0M587.8 362.4h0M587.9 358.3h0M588.0 352.9h0M588.2 358.2h0M588.3 349.9h0M588.4 349.4h0M588.5 346.5h0M588.7 346.0h0M588.8 344.0h0M588.9 348.8h0M589.0 341.7h0M589.1 341.4h0M589.3 340.1h0M589.4 341.6h0M589.5 339.7h0M589.6 338.7h0M589.8 341.1h0M589.9 348.8h0M590.0 348.1h0M590.1 353.9h0M590.2 348.3h0M590.4 347.9h0M590.5 350.3h0M590.6 352.1h0M590.7 354.7h0M590.9 354.4h0M591.0 351.4h0M591.1 350.2h0M591.2 353.2h0M591.3 352.8h0M591.5 352.4h0M591.6 351.9h0M591.7 351.5h0M591.8 351.1h0M592.0 350.7h0M592.1 350.3h0M592.2 349.9h0M592.3 349.5h0M592.4 349.1h0M592.6 348.7h0M592.7 348.3h0M592.8 347.9h0M592.9 347.5h0M593.1 347.0h0M593.2 346.6h0M593.3 346.2h0M593.4 345.8h0M593.6 345.4h0M593.7 345.0h0M593.8 344.6h0M593.9 344.2h0M594.0 343.8h0M594.2 343.4h0M594.3 341.7h0M594.4 342.6h0M594.5 338.7h0M594.7 341.6h0M594.8 341.3h0M594.9 340.9h0M595.0 340.5h0M595.1 340.1h0M595.3 339.7h0M595.4 339.3h0M595.5 338.9h0M595.6 338.5h0M595.8 338.1h0M595.9 337.7h0M596.0 337.2h0M596.1 336.7h0M596.2 330.5h0M596.4 335.6h0M596.5 335.0h0M596.6 325.2h0M596.7 322.6h0M596.9 319.2h0M597.0 332.8h0M597.1 330.6h0M597.2 327.3h0M597.3 328.8h0M597.5 328.1h0M597.6 328.1h0M597.7 314.9h0M597.8 310.7h0M598.0 326.8h0M598.1 323.3h0M598.2 314.6h0M598.3 314.3h0M598.4 315.7h0M598.6 302.9h0M598.7 311.5h0M598.8 304.6h0M598.9 312.5h0M599.1 307.0h0M599.2 303.9h0M599.3 307.8h0M599.4 297.0h0M599.6 299.8h0M599.7 298.2h0M599.8 300.9h0M599.9 309.2h0M600.0 304.2h0M600.2 303.9h0M600.3 302.0h0M600.4 309.2h0M600.5 306.2h0M600.7 303.6h0M600.8 312.6h0M600.9 313.4h0M601.0 305.3h0M601.1 306.5h0M601.3 308.0h0M601.4 301.6h0M601.5 304.8h0M601.6 304.9h0M601.8 305.9h0M601.9 295.3h0M602.0 295.5h0M602.0 295.7h0M602.1 296.8h0M602.2 292.8h0M602.4 296.4h0M602.5 302.1h0M602.6 293.9h0M602.7 300.5h0M602.9 300.1h0M603.0 297.6h0M603.1 295.0h0M603.2 302.9h0M603.3 305.1h0M603.5 308.4h0M603.6 302.3h0M603.7 298.8h0M603.8 302.5h0M603.9 297.7h0M604.1 303.9h0M604.2 299.5h0M604.3 298.8h0M604.4 297.3h0M604.6 307.2h0M604.7 300.4h0M604.8 298.8h0M604.9 305.6h0M605.0 307.2h0M605.2 310.3h0M605.3 310.3h0M605.4 310.4h0M605.5 310.4h0M605.6 302.8h0M605.8 301.9h0M605.9 297.7h0M606.0 299.8h0M606.1 298.8h0M606.3 298.9h0M606.4 298.7h0M606.5 306.7h0M606.6 307.0h0M606.7 306.9h0M606.9 310.3h0M607.0 310.9h0M607.1 311.0h0M607.2 311.0h0M607.4 307.1h0M607.5 311.1h0M607.6 311.1h0M607.7 311.2h0M607.8 311.2h0M608.0 310.6h0M608.1 311.4h0M608.2 311.4h0M608.3 304.9h0M608.4 301.5h0M608.6 307.2h0M608.7 312.3h0M608.8 313.2h0M608.9 313.5h0M609.1 313.2h0M609.2 307.1h0M609.3 307.9h0M609.4 307.0h0M609.5 304.7h0M609.7 303.5h0M609.8 303.3h0M609.9 306.1h0M610.0 301.3h0M610.1 309.5h0M610.3 314.9h0M610.4 309.1h0M610.5 310.1h0M610.6 314.3h0M610.8 314.9h0M610.9 317.6h0M611.0 316.3h0M611.1 315.9h0M611.2 316.9h0M611.4 313.0h0M611.5 312.7h0M611.6 313.5h0M611.7 310.0h0M611.9 306.3h0M612.0 307.3h0M612.1 310.1h0M612.2 313.4h0M612.3 320.3h0M612.5 318.3h0M612.6 318.7h0M612.7 322.5h0M612.8 322.8h0M612.9 323.1h0M613.1 323.5h0M613.2 320.9h0M613.3 320.9h0M613.4 314.9h0M613.6 316.0h0M613.7 312.8h0M613.8 304.0h0M613.9 300.6h0M614.0 300.8h0M614.2 306.6h0M614.3 318.8h0M614.4 313.6h0M614.5 317.2h0M614.6 312.8h0M614.8 310.1h0M614.9 305.2h0M615.0 310.3h0M615.1 314.1h0M615.3 310.4h0M615.4 317.9h0M615.5 313.8h0M615.6 306.0h0M615.7 320.6h0M615.9 318.0h0M616.0 314.6h0M616.1 317.5h0M616.2 317.3h0M616.4 309.0h0M616.5 309.7h0M616.6 308.4h0M616.7 319.5h0M616.8 320.4h0M617.0 311.9h0M617.1 307.8h0M617.2 309.0h0M617.3 307.4h0M617.4 307.6h0M617.6 307.9h0M617.7 315.5h0M617.8 314.4h0M617.9 308.6h0M618.1 308.9h0M618.2 309.2h0M618.3 309.4h0M618.4 314.8h0M618.5 310.0h0M618.7 310.3h0M618.8 310.6h0M618.9 321.5h0M619.0 316.0h0M619.1 315.1h0M619.3 318.1h0M619.4 318.9h0M619.5 315.9h0M619.6 320.7h0M619.8 316.6h0M619.9 327.3h0M620.0 327.1h0M620.1 320.1h0M620.2 318.3h0M620.4 324.8h0M620.5 314.6h0M620.6 314.8h0M620.7 327.6h0M620.9 318.5h0M621.0 322.6h0M621.1 321.4h0M621.2 318.4h0M621.3 316.5h0M621.5 316.8h0M621.6 317.1h0M621.7 319.0h0M621.8 325.1h0M621.9 331.1h0M622.1 338.6h0M622.2 338.1h0M622.3 340.1h0M622.4 334.9h0M622.6 340.4h0M622.7 343.9h0M622.8 344.0h0M622.9 344.2h0M623.0 344.3h0M623.2 344.4h0M623.3 342.4h0M623.4 344.7h0M623.5 342.1h0M623.6 337.8h0M623.8 345.0h0M623.9 331.6h0M624.0 335.0h0M624.1 323.1h0M624.3 326.9h0M624.4 330.1h0M624.5 330.4h0M624.6 334.1h0M624.7 332.1h0M624.9 331.9h0M625.0 333.8h0M625.1 334.0h0M625.2 333.3h0M625.4 344.0h0M625.5 337.3h0M625.6 342.6h0M625.7 338.6h0M625.8 340.6h0M626.0 344.7h0M626.1 340.3h0M626.2 335.6h0M626.3 342.6h0M626.4 330.7h0M626.6 340.0h0M626.7 340.8h0M626.8 343.3h0M626.9 347.6h0M627.1 347.7h0M627.2 347.8h0M627.3 346.8h0M627.4 348.0h0M627.5 348.1h0M627.7 347.6h0M627.8 344.1h0M627.9 346.0h0M628.0 342.1h0M628.1 344.9h0M628.3 345.7h0M628.4 341.7h0M628.5 342.3h0M628.6 340.6h0M628.8 338.4h0M628.9 337.9h0M629.0 346.5h0M630.0 391.3h0M630.1 391.4h0M630.2 392.0h0M630.4 390.0h0M630.5 390.6h0M630.6 393.4h0M630.7 394.4h0M630.9 390.9h0M631.0 390.6h0M631.1 393.2h0M631.2 394.2h0M631.3 393.0h0M631.5 391.8h0M631.6 392.9h0M631.7 393.4h0M631.8 393.2h0M632.0 389.3h0M632.1 386.5h0M632.2 381.7h0M632.3 381.1h0M632.4 377.0h0M632.6 377.7h0M632.7 376.0h0M632.8 376.3h0M632.9 375.0h0M633.1 374.7h0M633.2 374.5h0M633.3 374.3h0M633.4 378.4h0M633.5 379.7h0M633.7 376.8h0M633.8 373.5h0M633.9 375.3h0M634.0 377.4h0M634.2 380.1h0M634.3 380.8h0M634.4 383.9h0M634.5 384.5h0M634.6 389.3h0M634.8 389.1h0M634.9 385.9h0M635.0 384.0h0M635.1 382.9h0M635.3 383.2h0M635.4 381.7h0M635.5 381.8h0M635.6 384.1h0M635.7 381.1h0M635.9 381.6h0M636.0 385.5h0M636.1 380.7h0M636.2 376.6h0M636.4 372.4h0M636.5 373.6h0M636.6 371.9h0M636.7 372.0h0M636.8 374.5h0M637.0 374.4h0M637.1 369.8h0M637.2 373.4h0M637.3 374.3h0M637.5 369.3h0M637.6 371.4h0M637.7 371.0h0M637.8 367.0h0M637.9 366.8h0M638.1 366.7h0M638.2 366.6h0M638.3 369.1h0M638.4 370.7h0M638.6 366.3h0M638.7 366.2h0M638.8 366.1h0M638.9 366.0h0M639.1 370.0h0M639.2 366.8h0M639.3 372.9h0M639.4 368.5h0M639.5 370.5h0M639.7 365.4h0M639.8 366.0h0M639.9 366.5h0M640.0 367.5h0M640.2 365.0h0M640.3 364.9h0M640.4 364.8h0M640.5 364.7h0M640.6 364.6h0M640.8 365.0h0M640.9 366.3h0M641.0 370.7h0M641.1 366.8h0M641.3 364.1h0M641.4 366.5h0M641.5 373.6h0M641.6 371.8h0M641.7 373.1h0M641.9 376.5h0M642.0 373.7h0M642.1 379.6h0M642.2 376.7h0M642.4 375.8h0M642.5 366.2h0M642.6 363.1h0M642.7 363.0h0M642.8 365.4h0M643.0 365.1h0M643.1 376.0h0M643.2 379.0h0M643.3 377.8h0M643.5 377.7h0M643.6 373.1h0M643.7 376.3h0M643.8 373.5h0M643.9 370.1h0M644.1 369.8h0M644.2 366.7h0M644.3 368.8h0M644.4 365.7h0M644.6 361.2h0M644.7 364.4h0M644.8 363.1h0M644.9 361.0h0M645.0 362.9h0M645.2 372.5h0M645.3 370.9h0M645.4 374.4h0M645.5 373.9h0M645.7 375.3h0M645.8 376.3h0M645.9 376.4h0M646.0 374.3h0M646.1 374.9h0M646.3 371.2h0M646.4 375.9h0M646.5 375.7h0M646.6 375.6h0M646.8 375.5h0M646.9 371.7h0M647.0 367.1h0M656.0 223.2h0M656.1 225.5h0M656.2 223.8h0M656.4 239.9h0M656.5 242.4h0M656.6 239.9h0M656.7 245.2h0M656.9 225.9h0M657.0 225.3h0M657.1 219.7h0M657.2 217.0h0M657.3 223.0h0M657.5 222.2h0M657.6 229.8h0M657.7 205.4h0M657.8 205.8h0M657.9 199.1h0M658.1 198.5h0M658.2 198.2h0M658.3 205.8h0M658.4 210.4h0M658.6 199.9h0M658.7 196.7h0M658.8 204.6h0M658.9 213.6h0M659.0 217.1h0M659.2 215.0h0M659.3 220.8h0M659.4 215.4h0M659.5 215.1h0M659.7 212.9h0M659.8 203.5h0M659.9 208.3h0M660.0 192.6h0M660.1 192.9h0M660.3 198.7h0M660.4 189.9h0M660.5 189.0h0M660.6 188.1h0M660.7 187.1h0M660.9 189.5h0M661.0 185.3h0M661.1 184.4h0M661.2 200.5h0M661.4 224.0h0M661.5 214.6h0M661.6 220.7h0M661.7 196.5h0M661.8 197.5h0M662.0 203.8h0M662.1 218.8h0M662.2 231.1h0M662.3 226.0h0M662.5 194.1h0M662.6 207.6h0M662.7 215.6h0M662.8 227.1h0M662.9 239.2h0M663.1 239.2h0M663.2 224.2h0M663.3 213.2h0M663.4 224.3h0M663.5 223.3h0M663.7 239.2h0M663.8 232.7h0M663.9 219.5h0M664.0 219.6h0M664.2 204.7h0M664.3 216.4h0M664.4 232.3h0M664.5 216.5h0M664.6 204.0h0M664.8 224.1h0M664.9 222.1h0M665.0 235.2h0M665.1 237.7h0M665.3 226.8h0M665.4 228.8h0M665.5 238.2h0M665.6 225.8h0M665.7 218.2h0M665.9 209.0h0M666.0 217.6h0M666.1 233.9h0M666.2 214.1h0M666.3 220.9h0M666.5 224.6h0M666.6 214.3h0M666.7 221.3h0M666.8 214.6h0M667.0 210.6h0M667.1 215.8h0M667.2 225.5h0M667.3 223.0h0M667.4 226.8h0M667.6 222.9h0M667.7 213.1h0M667.8 228.2h0M667.9 233.8h0M668.1 215.1h0M668.2 222.2h0M668.3 208.0h0M668.4 209.7h0M668.5 225.1h0M668.7 208.4h0M668.8 205.0h0M668.9 221.5h0M669.0 220.5h0M669.1 215.6h0M669.3 221.4h0M669.4 218.3h0M669.5 207.1h0M669.6 210.4h0M669.8 224.0h0M669.9 229.9h0M670.0 215.8h0M670.1 220.8h0M670.2 216.9h0M670.4 207.6h0M670.5 207.9h0M670.6 208.2h0M670.7 208.5h0M670.9 213.6h0M671.0 213.8h0M671.1 215.1h0M671.2 216.7h0M671.3 214.2h0M671.5 218.3h0M671.6 210.5h0M671.7 210.8h0M671.8 215.2h0M671.9 211.5h0M672.1 211.7h0M672.2 214.8h0M672.3 216.5h0M672.4 214.6h0M672.6 214.0h0M672.7 215.7h0M672.8 215.7h0M672.9 215.1h0M673.0 217.2h0M673.2 216.2h0M673.3 215.5h0M673.4 221.8h0M673.5 221.6h0M673.7 220.0h0M673.8 219.2h0M673.9 221.0h0M674.0 219.0h0M674.1 210.3h0M674.3 212.5h0M674.4 210.4h0M674.5 208.6h0M674.6 206.9h0M674.7 207.9h0M674.9 205.5h0M675.0 210.1h0M675.1 211.0h0M675.2 202.9h0M675.4 209.9h0M675.5 211.8h0M675.6 207.6h0M675.7 201.3h0M675.8 211.5h0M676.0 201.6h0M676.1 203.0h0M676.2 206.6h0M676.3 202.3h0M676.5 201.4h0M676.6 199.6h0M676.7 199.4h0M676.8 204.1h0M676.9 206.3h0M677.1 202.6h0M677.2 205.9h0M677.3 206.9h0M677.4 206.7h0M677.5 204.0h0M677.7 213.9h0M677.8 207.4h0M677.9 212.6h0M678.0 209.7h0M678.2 213.7h0M678.3 212.0h0M678.4 211.6h0M678.5 210.1h0M678.6 207.1h0M678.8 209.7h0M678.9 207.1h0M679.0 210.4h0M679.1 205.9h0M679.3 210.7h0M679.4 208.7h0M679.5 202.4h0M679.6 204.4h0M679.7 201.0h0M679.9 199.9h0M680.0 208.1h0M680.1 204.5h0M680.2 206.4h0M680.3 205.6h0M680.5 203.8h0M680.6 210.5h0M680.7 203.0h0M680.8 204.8h0M681.0 203.4h0M681.1 201.0h0M681.2 206.5h0M681.3 205.3h0M681.4 207.0h0M681.6 206.0h0M681.7 203.9h0M681.8 211.5h0M681.9 209.1h0M682.1 201.6h0M682.2 205.3h0M682.3 206.5h0M682.4 202.5h0M682.5 202.9h0M682.7 205.2h0M682.8 207.0h0M682.9 212.7h0M683.0 208.3h0M683.1 204.8h0M683.3 204.8h0M683.4 205.1h0M683.5 208.2h0M683.6 208.2h0M683.8 210.0h0M683.9 206.4h0M684.0 206.8h0M684.0 219.2h0M684.1 216.0h0M684.2 219.7h0M684.4 227.0h0M684.5 223.4h0M684.6 220.6h0M684.7 220.1h0M684.8 221.3h0M685.0 228.3h0M685.1 227.8h0M685.2 228.0h0M685.3 227.3h0M685.5 230.7h0M685.6 230.2h0M685.7 227.5h0M685.8 231.7h0M685.9 224.4h0M686.1 231.2h0M686.2 227.7h0M686.3 226.9h0M686.4 229.1h0M686.5 235.4h0M686.7 228.6h0M686.8 237.2h0M686.9 229.8h0M687.0 227.4h0M687.2 235.3h0M687.3 238.9h0M687.4 237.6h0M687.5 235.4h0M687.6 239.1h0M687.8 236.3h0M687.9 241.2h0M688.0 241.6h0M688.1 242.0h0M688.2 242.5h0M688.4 242.9h0M688.5 243.4h0M688.6 243.7h0M688.7 241.6h0M688.9 239.7h0M689.0 239.5h0M689.1 245.5h0M689.2 236.0h0M689.3 239.6h0M689.5 240.4h0M689.6 237.7h0M689.7 247.0h0M689.8 241.0h0M689.9 242.3h0M690.1 243.8h0M690.2 234.4h0M690.3 235.8h0M690.4 236.0h0M690.6 247.4h0M690.7 249.4h0M690.8 249.7h0M690.9 248.3h0M691.0 237.9h0M691.2 243.2h0M691.3 242.8h0M691.4 247.3h0M691.5 248.0h0M691.6 251.9h0M691.8 250.6h0M691.9 251.1h0M692.0 247.2h0M692.1 247.4h0M692.3 238.5h0M692.4 244.5h0M692.5 235.8h0M692.6 235.6h0M692.7 237.1h0M692.9 239.9h0M693.0 242.6h0M693.1 239.2h0M693.2 241.0h0M693.3 235.4h0M693.5 242.1h0M693.6 237.1h0M693.7 246.4h0M693.8 249.9h0M694.0 237.5h0M694.1 234.6h0M694.2 239.9h0M694.3 243.8h0M694.4 241.9h0M694.6 242.4h0M694.7 236.2h0M694.8 239.6h0M694.9 235.0h0M695.0 242.0h0M695.2 231.6h0M695.3 231.3h0M695.4 237.8h0M695.5 235.3h0M695.7 224.1h0M695.8 234.0h0M695.9 235.4h0M696.0 231.3h0M696.1 221.2h0M696.3 223.2h0M696.4 222.4h0M696.5 217.4h0M696.6 224.2h0M696.7 224.8h0M696.9 235.5h0M697.0 235.7h0M697.1 228.5h0M697.2 222.3h0M697.4 224.9h0M697.5 230.3h0M697.6 230.3h0M697.7 229.2h0M697.8 229.4h0M698.0 227.2h0M698.1 226.3h0M698.2 224.2h0M698.3 222.1h0M698.4 210.1h0M698.6 211.7h0M698.7 214.8h0M698.8 210.2h0M698.9 211.6h0M699.1 208.8h0M699.2 209.4h0M699.3 209.1h0M699.4 210.9h0M699.5 213.9h0M699.7 225.3h0M699.8 226.3h0M699.9 228.3h0M700.0 230.6h0M700.1 230.8h0M700.3 224.0h0M700.4 223.3h0M700.5 222.2h0M700.6 231.4h0M700.7 227.2h0M700.9 219.0h0M701.0 225.7h0M701.1 232.1h0M701.2 226.9h0M701.4 232.4h0M701.5 230.5h0M701.6 232.7h0M701.7 230.1h0M701.8 229.7h0M702.0 226.5h0M702.1 227.8h0M702.2 224.4h0M702.3 234.3h0M702.4 230.3h0M702.6 229.9h0M702.7 232.2h0M702.8 228.1h0M702.9 228.9h0M703.1 235.8h0M703.2 228.6h0M703.3 230.5h0M703.4 234.8h0M703.5 233.1h0M703.7 233.2h0M703.8 229.6h0M703.9 231.2h0M704.0 240.0h0M704.1 240.4h0M704.3 240.8h0M704.4 241.2h0M704.5 241.6h0M704.6 242.0h0M704.8 242.4h0M704.9 242.8h0M705.0 238.6h0M705.1 238.4h0M705.2 243.9h0M705.4 236.0h0M705.5 232.8h0M705.6 226.3h0M705.7 234.9h0M705.8 243.2h0M706.0 233.7h0M706.1 221.7h0M706.2 226.3h0M706.3 238.0h0M706.5 224.5h0M706.6 233.6h0M706.7 233.5h0M706.8 225.6h0M706.9 235.3h0M707.1 237.9h0M707.2 241.9h0M707.3 238.7h0M707.4 236.9h0M707.5 234.3h0M707.7 246.5h0M707.8 246.1h0M707.9 251.0h0M708.0 251.2h0M708.2 240.6h0M708.3 250.5h0M708.4 250.2h0M708.5 245.8h0M708.6 246.3h0M708.8 234.7h0M708.9 243.9h0M709.0 238.6h0M709.1 239.4h0M709.2 247.9h0M709.4 247.6h0M709.5 247.3h0M709.6 242.7h0M709.7 246.6h0M709.9 246.3h0M710.0 246.0h0M710.1 245.7h0M710.2 245.3h0M710.3 245.0h0M710.5 234.4h0M710.6 244.4h0M710.7 240.8h0M710.8 240.0h0M710.9 238.3h0M711.1 242.8h0M711.2 242.1h0M711.3 240.4h0M711.4 240.2h0M711.6 238.2h0M711.7 238.7h0M711.8 235.4h0M711.9 226.5h0M712.0 221.3h0M712.2 225.7h0M712.3 226.0h0M712.4 225.3h0M712.5 226.7h0M712.6 227.7h0M712.8 222.1h0M712.9 217.0h0M713.0 216.7h0M713.1 220.9h0M713.3 225.2h0M713.4 217.9h0M713.5 216.1h0M713.6 218.8h0M713.7 224.5h0M713.9 222.9h0M714.0 223.7h0M714.1 227.7h0M714.2 222.2h0M714.3 221.2h0M714.5 226.4h0M714.6 225.3h0M714.7 230.1h0M714.8 229.8h0M714.9 225.2h0M715.1 221.5h0M715.2 227.4h0M715.3 226.1h0M715.4 225.7h0M715.6 228.9h0M715.7 225.8h0M715.8 226.1h0M715.9 228.6h0M716.0 230.6h0M716.2 228.2h0M716.3 227.0h0M716.4 222.8h0M716.5 221.8h0M716.6 229.4h0M716.8 227.1h0M716.9 227.8h0M717.0 233.8h0M717.1 239.0h0M717.3 238.4h0M717.4 240.6h0M717.5 237.1h0M717.6 241.9h0M717.7 242.5h0M717.9 243.2h0M718.0 240.8h0M718.1 244.5h0M718.2 244.9h0M718.3 245.8h0M718.5 246.4h0M718.6 247.1h0M718.7 247.7h0M718.8 248.4h0M719.0 249.0h0M719.1 248.2h0M719.2 243.0h0M719.3 243.5h0M719.4 244.9h0M719.6 246.1h0M719.7 245.3h0M719.8 252.5h0M719.9 253.0h0M720.0 245.8h0M720.2 252.3h0M720.3 254.4h0M720.4 254.9h0M720.5 254.1h0M720.7 249.1h0M720.8 256.4h0M720.9 254.0h0M721.0 256.7h0M721.1 255.3h0M721.3 258.3h0M721.4 257.5h0M721.5 251.5h0M721.6 259.7h0M721.7 258.6h0M721.9 254.5h0M722.0 261.2h0M722.1 256.3h0M722.2 244.6h0M722.4 239.3h0M722.5 242.7h0M722.6 246.0h0M722.7 233.7h0M722.8 238.7h0M723.0 246.0h0M723.1 250.6h0M723.2 248.4h0M723.3 251.6h0M723.4 256.8h0M723.6 251.0h0M723.7 257.3h0M723.8 257.8h0M723.9 259.2h0M724.1 257.7h0M724.2 250.1h0M724.3 247.2h0M724.4 259.5h0M724.5 248.7h0M724.7 248.7h0M724.8 248.4h0M724.9 256.1h0M725.0 249.3h0M725.1 243.8h0M725.3 238.9h0M725.4 249.5h0M725.5 257.1h0M725.6 263.2h0M725.8 255.3h0M725.9 258.3h0M726.0 254.6h0M726.1 244.8h0M726.2 243.6h0M726.4 237.6h0M726.5 243.7h0M726.6 237.5h0M726.7 238.5h0M726.8 242.1h0M727.0 237.6h0M727.1 240.6h0M727.2 238.9h0M727.3 246.2h0M727.5 246.2h0M727.6 250.0h0M727.7 246.0h0M727.8 250.5h0M727.9 249.4h0M728.1 236.0h0M728.2 239.8h0M728.3 230.4h0M728.4 230.3h0M728.5 234.1h0M728.7 230.1h0M728.8 239.8h0M728.9 239.4h0M729.0 240.4h0M729.2 240.7h0M729.3 247.4h0M729.4 239.6h0M729.5 239.3h0M729.6 245.2h0M729.8 242.7h0M729.9 255.0h0M730.0 247.7h0M731.0 218.4h0M731.1 222.9h0M731.2 219.9h0M731.4 232.4h0M731.5 235.3h0M731.6 234.8h0M731.7 228.0h0M731.9 218.6h0M732.0 216.6h0M732.1 221.0h0M732.2 232.4h0M732.3 231.9h0M732.5 224.7h0M732.6 226.0h0M732.7 223.8h0M732.8 216.4h0M732.9 216.2h0M733.1 211.4h0M733.2 211.3h0M733.3 211.1h0M733.4 210.9h0M733.6 214.9h0M733.7 210.9h0M733.8 211.0h0M733.9 213.5h0M734.0 211.2h0M734.2 217.4h0M734.3 214.6h0M734.4 217.0h0M734.5 223.3h0M734.6 211.7h0M734.8 212.0h0M734.9 219.8h0M735.0 217.2h0M735.1 212.8h0M735.3 218.6h0M735.4 225.3h0M735.5 226.3h0M735.6 221.8h0M735.7 215.7h0M735.9 216.1h0M736.0 219.4h0M736.1 232.9h0M736.2 226.6h0M736.3 236.8h0M736.5 227.0h0M736.6 230.5h0M736.7 238.7h0M736.8 239.2h0M737.0 239.5h0M737.1 233.0h0M737.2 231.4h0M737.3 233.4h0M737.4 239.0h0M737.6 234.5h0M737.7 229.1h0M737.8 227.4h0M737.9 230.8h0M738.0 233.1h0M738.2 230.7h0M738.3 237.3h0M738.4 236.9h0M738.5 236.5h0M738.7 248.0h0M738.8 243.8h0M738.9 241.9h0M739.0 242.8h0M739.1 241.3h0M739.3 239.9h0M739.4 244.1h0M739.5 241.0h0M739.6 243.4h0M739.7 236.4h0M739.9 242.2h0M740.0 250.6h0M740.1 241.0h0M740.2 246.7h0M740.4 242.2h0M740.5 250.1h0M740.6 255.7h0M740.7 250.7h0M740.8 253.6h0M741.0 251.4h0M741.1 254.3h0M741.2 255.0h0M741.3 252.1h0M741.4 247.1h0M741.6 244.2h0M741.7 246.7h0M741.8 242.4h0M741.9 243.8h0M742.1 246.5h0M742.2 250.3h0M742.3 258.4h0M742.4 256.0h0M742.5 260.8h0M742.7 251.3h0M742.8 251.0h0M742.9 248.1h0M743.0 250.6h0M743.1 253.5h0M743.3 248.9h0M743.4 246.2h0M743.5 247.1h0M743.6 247.9h0M743.8 252.8h0M743.9 251.0h0M744.0 254.9h0M744.1 250.6h0M744.2 244.8h0M744.4 243.9h0M744.5 242.9h0M744.6 244.5h0M744.7 253.7h0M744.9 246.8h0M745.0 250.5h0M745.1 240.3h0M745.2 237.0h0M745.3 237.5h0M745.5 242.6h0M745.6 237.1h0M745.7 246.9h0M745.8 252.2h0M745.9 257.2h0M746.1 258.5h0M746.2 257.0h0M746.3 255.5h0M746.4 254.1h0M746.6 249.2h0M746.7 241.8h0M746.8 247.7h0M746.9 248.3h0M747.0 244.7h0M747.2 240.4h0M747.3 247.2h0M747.4 247.1h0M747.5 246.7h0M747.6 246.6h0M747.8 247.2h0M747.9 247.2h0M748.0 247.2h0M748.1 235.9h0M748.3 240.4h0M748.4 232.5h0M748.5 239.7h0M748.6 241.2h0M748.7 229.3h0M748.9 240.8h0M749.0 229.7h0M749.1 241.4h0M749.2 234.8h0M749.3 234.8h0M749.5 231.4h0M749.6 240.3h0M749.7 238.4h0M749.8 241.5h0M750.0 237.5h0M750.1 235.7h0M750.2 237.0h0M750.3 235.6h0M750.4 234.3h0M750.6 232.8h0M750.7 233.9h0M750.8 226.3h0M750.9 229.2h0M751.0 234.5h0M751.2 234.0h0M751.3 236.2h0M751.4 235.1h0M751.5 228.7h0M751.7 229.0h0M751.8 227.1h0M751.9 234.6h0M752.0 235.7h0M752.1 241.7h0M752.3 237.5h0M752.4 230.1h0M752.5 239.3h0M752.6 238.0h0M752.7 236.9h0M752.9 246.6h0M753.0 245.6h0M753.1 246.0h0M753.2 244.6h0M753.4 240.4h0M753.5 241.9h0M753.6 238.9h0M753.7 242.0h0M753.8 239.3h0M754.0 249.3h0M754.1 253.0h0M754.2 245.2h0M754.3 250.6h0M754.4 243.9h0M754.6 249.7h0M754.7 246.5h0M754.8 247.3h0M754.9 249.0h0M755.1 249.3h0M755.2 252.2h0M755.3 249.0h0M755.4 246.0h0M755.5 241.2h0M755.7 252.1h0M755.8 252.1h0M755.9 242.1h0M756.0 240.3h0M756.1 241.1h0M756.3 244.2h0M756.4 252.0h0M756.5 245.5h0M756.6 247.2h0M756.8 245.1h0M756.9 248.6h0M757.0 250.2h0M759.0 340.4h0M759.1 345.7h0M759.2 349.7h0M759.4 349.6h0M759.5 349.1h0M759.6 348.6h0M759.7 345.2h0M759.9 339.5h0M760.0 340.8h0M760.1 340.3h0M760.2 338.8h0M760.3 345.9h0M760.5 350.5h0M760.6 344.7h0M760.7 349.4h0M760.8 346.4h0M760.9 337.7h0M761.1 344.5h0M761.2 351.7h0M761.3 343.2h0M761.4 341.9h0M761.6 345.7h0M761.7 345.4h0M761.8 346.3h0M761.9 345.0h0M762.0 346.6h0M762.2 346.8h0M762.3 349.2h0M762.4 350.4h0M762.5 347.7h0M762.6 352.4h0M762.8 345.5h0M762.9 350.6h0M763.0 343.4h0M763.1 349.0h0M763.3 350.3h0M763.4 350.2h0M763.5 349.6h0M763.6 353.8h0M763.7 346.7h0M763.9 348.4h0M764.0 345.5h0M764.1 347.9h0M764.2 348.3h0M764.3 352.4h0M764.5 351.5h0M764.6 351.4h0M764.7 355.1h0M764.8 352.1h0M765.0 357.4h0M765.1 356.4h0M765.2 352.7h0M765.3 354.5h0M765.4 354.8h0M765.6 356.0h0M765.7 349.5h0M765.8 351.1h0M765.9 348.4h0M766.1 350.2h0M766.2 349.0h0M766.3 350.9h0M766.4 344.5h0M766.5 352.6h0M766.7 346.5h0M766.8 344.9h0M766.9 353.5h0M767.0 351.3h0M767.1 355.1h0M767.3 359.6h0M767.4 357.4h0M767.5 354.9h0M767.6 360.8h0M767.8 350.6h0M767.9 353.3h0M768.0 349.9h0M768.1 347.9h0M768.2 351.5h0M768.4 349.4h0M768.5 352.3h0M768.6 358.4h0M768.7 353.3h0M768.8 354.7h0M769.0 361.7h0M769.1 361.8h0M769.2 356.1h0M769.3 354.7h0M769.5 355.3h0M769.6 362.0h0M769.7 359.1h0M769.8 358.4h0M769.9 357.2h0M770.1 358.6h0M770.2 362.3h0M770.3 362.1h0M770.4 356.9h0M770.5 360.0h0M770.7 356.0h0M770.8 351.5h0M770.9 354.8h0M771.0 354.3h0M771.2 352.4h0M771.3 353.7h0M771.4 352.1h0M771.5 355.2h0M771.6 358.1h0M771.8 360.1h0M771.9 355.4h0M772.0 353.4h0M772.1 353.6h0M772.3 355.5h0M772.4 355.6h0M772.5 357.7h0M772.6 355.9h0M772.7 352.2h0M772.9 350.0h0M773.0 351.6h0M773.1 353.1h0M773.2 357.6h0M773.3 353.1h0M773.5 349.7h0M773.6 351.3h0M773.7 350.2h0M773.8 353.1h0M774.0 350.1h0M774.1 350.1h0M774.2 350.2h0M774.3 351.6h0M774.4 353.1h0M774.6 356.3h0M774.7 362.8h0M774.8 358.4h0M774.9 362.8h0M775.0 362.8h0M775.2 361.1h0M775.3 360.6h0M775.4 355.0h0M775.5 354.2h0M775.7 356.4h0M775.8 357.3h0M775.9 358.2h0M776.0 355.4h0M776.1 357.5h0M776.3 358.3h0M776.4 363.2h0M776.5 363.2h0M776.6 363.2h0M776.7 361.7h0M776.9 362.0h0M777.0 357.8h0M777.1 358.3h0M777.2 360.8h0M777.4 359.9h0M777.5 361.0h0M777.6 360.7h0M777.7 360.2h0M777.8 363.2h0M778.0 361.7h0M778.1 359.0h0M778.2 357.4h0M778.3 359.0h0M778.5 359.7h0M778.6 360.3h0M778.7 363.2h0M778.8 361.9h0M778.9 358.4h0M779.1 362.6h0M779.2 361.6h0M779.3 359.0h0M779.4 359.3h0M779.5 352.9h0M779.7 354.4h0M779.8 352.6h0M779.9 355.8h0M780.0 353.6h0M780.2 354.0h0M780.3 358.9h0M780.4 360.2h0M780.5 355.6h0M780.6 359.0h0M780.8 352.7h0M780.9 356.6h0M781.0 355.9h0M781.1 358.0h0M781.2 359.5h0M781.4 357.1h0M781.5 358.6h0M781.6 356.5h0M781.7 358.8h0M781.9 360.0h0M782.0 363.2h0M782.1 362.8h0M782.2 361.1h0M782.3 361.9h0M782.5 363.2h0M782.6 356.6h0M782.7 356.1h0M782.8 358.8h0M782.9 356.3h0M783.1 355.8h0M783.2 358.2h0M783.3 356.3h0M783.4 356.2h0M783.6 361.9h0M783.7 360.8h0M783.8 357.6h0M783.9 353.9h0M784.0 355.8h0M784.2 355.7h0M784.3 361.8h0M784.4 361.7h0M784.5 355.6h0M784.7 362.0h0M784.8 362.5h0M784.9 359.8h0M785.0 361.5h0M785.1 361.6h0M785.3 359.9h0M785.4 356.3h0M785.5 356.9h0M785.6 360.1h0M785.7 357.8h0M785.9 356.6h0M786.0 357.0h0M786.1 350.6h0M786.2 352.6h0M786.4 348.6h0M786.5 350.4h0M786.6 349.7h0M786.7 350.7h0M786.8 349.5h0M787.0 347.8h0M787.1 349.1h0M787.2 350.6h0M787.3 353.8h0M787.4 353.0h0M787.6 348.7h0M787.7 347.7h0M787.8 346.9h0M787.9 346.8h0M788.1 353.9h0M788.2 356.6h0M788.3 358.3h0M788.4 354.8h0M788.5 353.7h0M788.7 354.3h0M788.8 349.4h0M788.9 348.6h0M789.0 357.0h0M789.1 358.1h0M789.3 357.6h0M789.4 354.1h0M789.5 355.6h0M789.6 355.6h0M789.8 354.3h0M789.9 347.3h0M790.0 351.7h0M758.5 335.9h0M758.6 336.0h0M758.7 337.2h0M758.9 339.2h0M759.0 338.4h0M759.1 339.8h0M759.2 340.4h0M759.4 343.9h0M759.5 346.1h0M759.6 344.1h0M759.7 348.3h0M759.8 349.6h0M760.0 350.3h0M760.1 346.9h0M760.2 351.4h0M760.3 349.7h0M760.5 347.4h0M760.6 341.4h0M760.7 352.5h0M760.8 351.2h0M760.9 352.6h0M761.1 348.7h0M761.2 344.1h0M761.3 353.9h0M761.4 350.9h0M761.6 344.2h0M761.7 343.5h0M761.8 336.3h0M761.9 332.0h0M762.0 332.1h0M762.2 332.3h0M762.3 333.4h0M762.4 337.8h0M762.5 332.8h0M762.7 333.0h0M762.8 341.6h0M762.9 338.9h0M763.0 333.5h0M763.1 333.6h0M763.3 334.8h0M763.4 340.3h0M763.5 335.4h0M763.6 342.2h0M763.8 335.4h0M763.9 338.4h0M764.0 338.4h0M764.1 340.9h0M764.2 343.6h0M764.4 336.4h0M764.5 341.4h0M764.6 338.4h0M764.7 336.7h0M764.9 341.9h0M765.0 348.3h0M765.1 337.0h0M765.2 337.8h0M765.4 342.0h0M765.5 342.1h0M765.6 337.9h0M765.7 341.1h0M765.8 340.9h0M766.0 354.6h0M766.1 348.5h0M766.2 341.7h0M766.3 351.0h0M766.5 359.7h0M766.6 350.9h0M766.7 349.1h0M766.8 343.2h0M766.9 350.4h0M767.1 351.8h0M767.2 346.0h0M767.3 356.5h0M767.4 361.5h0M767.6 361.6h0M767.7 361.7h0M767.8 361.8h0M767.9 359.3h0M768.0 352.6h0M768.2 350.0h0M768.3 354.0h0M768.4 354.3h0M768.5 349.3h0M768.7 344.1h0M768.8 344.3h0M768.9 347.3h0M769.0 346.1h0M769.1 345.0h0M769.3 349.2h0M769.4 349.1h0M769.5 345.8h0M769.6 346.8h0M769.8 348.6h0M769.9 346.5h0M770.0 350.4h0M790.0 345.5h0M790.1 342.0h0M790.2 342.8h0M790.4 351.6h0M790.5 349.8h0M790.6 343.2h0M790.8 345.8h0M790.9 330.1h0M791.0 310.4h0M791.1 336.0h0M791.2 318.0h0M791.4 312.1h0M791.5 313.6h0M791.6 325.5h0M791.8 311.8h0M791.9 320.2h0M792.0 320.6h0M792.1 310.1h0M792.2 310.2h0M792.4 310.5h0M792.5 311.7h0M792.6 306.1h0M792.8 312.4h0M792.9 324.0h0M793.0 329.5h0M793.1 327.8h0M793.2 321.3h0M793.4 313.5h0M793.5 328.2h0M793.6 321.3h0M793.8 316.0h0M793.9 315.1h0M794.0 321.1h0M794.1 324.6h0M794.2 334.0h0M794.4 328.4h0M794.5 330.3h0M794.6 333.9h0M794.8 323.7h0M794.9 322.6h0M795.0 314.0h0M795.1 312.2h0M795.2 316.6h0M795.4 313.2h0M795.5 327.1h0M795.6 322.0h0M795.8 313.0h0M795.9 312.2h0M796.0 313.1h0M796.1 317.4h0M796.2 320.8h0M796.4 310.9h0M796.5 324.1h0M796.6 326.9h0M796.8 329.5h0M796.9 314.1h0M797.0 312.8h0M797.0 331.3h0M797.1 328.5h0M797.2 327.0h0M797.4 328.6h0M797.5 329.9h0M797.6 329.2h0M797.7 320.6h0M797.9 325.7h0M798.0 320.3h0M798.1 323.6h0M798.2 328.7h0M798.3 332.8h0M798.5 335.3h0M798.6 337.7h0M798.7 337.0h0M798.8 336.9h0M799.0 338.5h0M799.1 338.4h0M799.2 338.4h0M799.3 338.3h0M799.4 337.8h0M799.6 338.2h0M799.7 338.2h0M799.8 338.1h0M799.9 330.1h0M800.1 334.4h0M800.2 336.1h0M800.3 337.9h0M800.4 337.1h0M800.5 328.9h0M800.7 331.9h0M800.8 336.9h0M800.9 333.4h0M801.0 331.3h0M801.2 335.0h0M801.3 334.4h0M801.4 332.0h0M801.5 337.4h0M801.6 337.4h0M801.8 332.4h0M801.9 327.8h0M802.0 333.0h0M802.1 337.2h0M802.3 335.2h0M802.4 335.0h0M802.5 325.9h0M802.6 325.3h0M802.7 321.2h0M802.9 329.8h0M803.0 332.3h0M803.1 323.3h0M803.2 321.6h0M803.4 326.5h0M803.5 327.1h0M803.6 326.1h0M803.7 330.4h0M803.8 336.0h0M804.0 333.4h0M804.1 325.0h0M804.2 329.5h0M804.3 325.7h0M804.5 326.3h0M804.6 327.7h0M804.7 326.8h0M804.8 324.8h0M804.9 326.1h0M805.1 326.0h0M805.2 329.4h0M805.3 326.3h0M805.4 323.9h0M805.6 325.2h0M805.7 326.8h0M805.8 328.6h0M805.9 328.6h0M806.1 325.9h0M806.2 328.4h0M806.3 323.7h0M806.4 333.5h0M806.5 327.7h0M806.7 329.1h0M806.8 329.8h0M806.9 328.3h0M807.0 333.3h0M807.2 330.8h0M807.3 330.8h0M807.4 325.5h0M807.5 324.4h0M807.6 325.9h0M807.8 335.2h0M807.9 332.4h0M808.0 328.1h0M808.1 330.9h0M808.3 335.5h0M808.4 330.0h0M808.5 328.3h0M808.6 329.8h0M808.7 331.4h0M808.9 326.4h0M809.0 325.4h0M809.1 325.6h0M809.2 328.9h0M809.4 328.9h0M809.5 330.3h0M809.6 329.6h0M809.7 330.9h0M809.8 332.8h0M810.0 332.4h0M810.1 330.6h0M810.2 328.0h0M810.3 329.1h0M810.5 330.2h0M810.6 329.2h0M810.7 326.7h0M810.8 331.6h0M810.9 332.0h0M811.1 330.3h0M811.2 329.5h0M811.3 334.0h0M811.4 338.4h0M811.6 335.7h0M811.7 332.1h0M811.8 331.8h0M811.9 330.8h0M812.0 329.2h0M812.2 328.2h0M812.3 333.1h0M812.4 334.8h0M812.5 337.1h0M812.7 337.3h0M812.8 334.5h0M812.9 334.6h0M813.0 331.1h0M813.1 329.2h0M813.3 328.3h0M813.4 329.8h0M813.5 330.1h0M813.6 328.5h0M813.8 328.6h0M813.9 328.7h0M814.0 328.8h0M815.0 337.8h0M815.1 335.6h0M815.2 338.3h0M815.4 333.9h0M815.5 338.4h0M815.6 338.6h0M815.8 339.8h0M815.9 338.9h0M816.0 342.0h0M816.1 342.9h0M816.2 349.4h0M816.4 350.9h0M816.5 347.5h0M816.6 347.9h0M816.8 346.5h0M816.9 348.5h0M817.0 342.0h0M817.1 344.0h0M817.2 343.3h0M817.4 339.1h0M817.5 344.1h0M817.6 345.1h0M817.8 344.6h0M817.9 345.1h0M818.0 340.8h0M818.1 341.1h0M818.2 346.1h0M818.4 347.7h0M818.5 344.2h0M818.6 345.8h0M818.8 348.6h0M818.9 344.2h0M819.0 347.0h0M819.1 344.1h0M819.2 346.1h0M819.4 345.0h0M819.5 356.5h0M819.6 351.6h0M819.8 351.4h0M819.9 353.2h0M820.0 350.6h0M820.1 354.0h0M820.2 348.6h0M820.4 348.3h0M820.5 349.4h0M820.6 347.8h0M820.8 353.7h0M820.9 354.3h0M821.0 355.7h0M822.0 319.6h0M822.1 323.3h0M822.2 316.0h0M822.4 321.4h0M822.5 326.4h0M822.6 327.6h0M822.7 315.3h0M822.9 313.5h0M823.0 324.3h0M823.1 327.1h0M823.2 319.6h0M823.3 319.0h0M823.5 314.3h0M823.6 314.5h0M823.7 314.0h0M823.8 310.3h0M823.9 308.8h0M824.1 307.2h0M824.2 309.3h0M824.3 306.6h0M824.4 318.2h0M824.6 305.9h0M824.7 305.6h0M824.8 306.4h0M824.9 305.0h0M825.0 307.5h0M825.2 304.5h0M825.3 304.3h0M825.4 304.1h0M825.5 303.9h0M825.7 303.7h0M825.8 303.5h0M825.9 303.3h0M826.0 303.1h0M826.1 302.8h0M826.3 304.6h0M826.4 302.4h0M826.5 306.1h0M826.6 302.0h0M826.8 313.8h0M826.9 310.9h0M827.0 307.4h0M827.1 306.0h0M827.2 311.9h0M827.4 311.4h0M827.5 323.1h0M827.6 325.3h0M827.7 319.6h0M827.8 316.4h0M828.0 311.3h0M828.1 310.7h0M828.2 307.9h0M828.3 311.6h0M828.5 305.8h0M828.6 314.1h0M828.7 318.8h0M828.8 301.7h0M828.9 311.9h0M829.1 310.4h0M829.2 309.4h0M829.3 302.8h0M829.4 303.1h0M829.6 303.4h0M829.7 305.0h0M829.8 306.0h0M829.9 317.1h0M830.0 317.4h0M830.2 321.2h0M830.3 318.8h0M830.4 322.0h0M830.5 312.9h0M830.6 320.5h0M830.8 311.1h0M830.9 308.2h0M831.0 314.1h0M831.1 320.9h0M831.3 314.0h0M831.4 320.3h0M831.5 328.5h0M831.6 326.7h0M831.7 319.6h0M831.9 317.3h0M832.0 330.1h0M832.1 333.5h0M832.2 333.7h0M832.4 332.9h0M832.5 334.2h0M832.6 334.4h0M832.7 329.4h0M832.8 326.2h0M833.0 326.0h0M833.1 335.4h0M833.2 332.4h0M833.3 335.9h0M833.4 333.4h0M833.6 327.9h0M833.7 332.9h0M833.8 327.6h0M833.9 327.5h0M834.1 322.6h0M834.2 320.7h0M834.3 323.3h0M834.4 328.9h0M834.5 329.6h0M834.7 324.6h0M834.8 329.4h0M834.9 326.1h0M835.0 325.4h0M835.2 322.6h0M835.3 320.7h0M835.4 327.9h0M835.5 321.6h0M835.6 325.5h0M835.8 331.4h0M835.9 332.1h0M836.0 335.6h0M836.1 333.7h0M836.2 332.2h0M836.4 338.3h0M836.5 336.1h0M836.6 329.4h0M836.7 328.9h0M836.9 328.4h0M837.0 330.3h0M837.1 330.4h0M837.2 330.9h0M837.3 330.0h0M837.5 336.5h0M837.6 332.9h0M837.7 329.9h0M837.8 329.1h0M838.0 333.3h0M838.1 334.6h0M838.2 336.1h0M838.3 331.4h0M838.4 331.5h0M838.6 332.4h0M838.7 333.0h0M838.8 327.7h0M838.9 326.0h0M839.1 326.2h0M839.2 326.3h0M839.3 326.5h0M839.4 329.7h0M839.5 331.5h0M839.7 329.1h0M839.8 336.1h0M839.9 338.3h0M840.0 329.6h0M840.1 331.1h0M840.3 334.9h0M840.4 337.2h0M840.5 334.4h0M840.6 332.7h0M840.8 332.9h0M840.9 338.7h0M841.0 335.9h0M842.0 303.2h0M842.1 309.1h0M842.2 307.0h0M842.4 297.1h0M842.5 296.1h0M842.6 297.0h0M842.8 296.2h0M842.9 298.1h0M843.0 299.0h0M843.1 300.7h0M843.2 293.9h0M843.4 290.7h0M843.5 290.5h0M843.6 290.3h0M843.8 290.3h0M843.9 297.4h0M844.0 307.2h0M844.1 300.8h0M844.2 298.9h0M844.4 305.6h0M844.5 300.1h0M844.6 303.4h0M844.8 305.5h0M844.9 306.4h0M845.0 303.3h0M845.1 301.7h0M845.2 293.4h0M845.4 298.1h0M845.5 293.3h0M845.6 292.3h0M845.8 292.8h0M845.9 294.5h0M846.0 288.1h0M846.1 295.6h0M846.2 291.8h0M846.4 286.6h0M846.5 286.6h0M846.6 288.4h0M846.8 297.1h0M846.9 303.6h0M847.0 295.3h0M847.1 297.1h0M847.2 298.4h0M847.4 291.7h0M847.5 288.4h0M847.6 286.2h0M847.8 288.5h0M847.9 286.1h0M848.0 288.3h0M848.1 287.7h0M848.2 290.0h0M848.4 288.6h0M848.5 294.2h0M848.6 292.4h0M848.8 293.9h0M848.9 300.3h0M849.0 297.6h0M852.0 356.0h0M852.1 351.4h0M852.2 344.6h0M852.4 349.4h0M852.5 346.8h0M852.6 344.0h0M852.7 343.0h0M852.9 345.2h0M853.0 344.9h0M853.1 345.8h0M853.2 355.4h0M853.3 354.4h0M853.5 357.8h0M853.6 347.7h0M853.7 351.7h0M853.8 352.1h0M853.9 355.9h0M854.1 352.0h0M854.2 356.2h0M854.3 351.0h0M854.4 346.6h0M854.6 348.5h0M854.7 347.9h0M854.8 346.0h0M854.9 345.0h0M855.0 351.2h0M855.2 351.9h0M855.3 343.5h0M855.4 345.3h0M855.5 340.8h0M855.6 348.6h0M855.8 353.9h0M855.9 353.0h0M856.0 354.0h0M856.1 355.1h0M856.3 355.0h0M856.4 354.9h0M856.5 354.8h0M856.6 354.6h0M856.7 354.5h0M856.9 352.5h0M857.0 345.0h0M857.1 346.3h0M857.2 349.7h0M857.3 348.4h0M857.5 350.7h0M857.6 350.5h0M857.7 347.0h0M857.8 347.3h0M858.0 351.7h0M858.1 351.9h0M858.2 353.1h0M858.3 349.1h0M858.4 341.3h0M858.6 345.3h0M858.7 347.1h0M858.8 342.2h0M858.9 347.6h0M859.0 347.0h0M859.2 348.0h0M859.3 345.9h0M859.4 347.1h0M859.5 339.1h0M859.7 342.8h0M859.8 345.4h0M859.9 347.4h0M860.0 334.8h0M860.1 332.6h0M860.3 332.5h0M860.4 336.5h0M860.5 332.2h0M860.6 332.1h0M860.7 335.7h0M860.9 335.6h0M861.0 331.8h0M861.1 336.6h0M861.2 338.7h0M861.4 339.9h0M861.5 335.8h0M861.6 331.5h0M861.7 334.3h0M861.8 333.2h0M862.0 334.9h0M862.1 335.9h0M862.2 333.6h0M862.3 337.2h0M862.4 337.8h0M862.6 336.4h0M862.7 334.3h0M862.8 339.7h0M862.9 337.7h0M863.1 339.2h0M863.2 344.7h0M863.3 348.0h0M863.4 347.8h0M863.5 347.7h0M863.7 346.2h0M863.8 347.5h0M863.9 347.3h0M864.0 347.2h0M864.1 342.7h0M864.3 346.5h0M864.4 342.5h0M864.5 343.5h0M864.6 338.3h0M864.8 339.0h0M864.9 334.5h0M865.0 328.2h0M865.1 328.1h0M865.2 331.3h0M865.4 336.5h0M865.5 328.9h0M865.6 327.1h0M865.7 327.0h0M865.9 329.4h0M866.0 334.6h0M866.1 334.5h0M866.2 333.0h0M866.3 336.9h0M866.5 337.9h0M866.6 338.2h0M866.7 338.0h0M866.8 341.4h0M866.9 337.9h0M867.1 338.6h0M867.2 338.7h0M867.3 338.1h0M867.4 334.9h0M867.6 332.4h0M867.7 332.5h0M867.8 335.0h0M867.9 342.9h0M868.0 343.2h0M868.2 343.1h0M868.3 343.0h0M868.4 341.5h0M868.5 342.7h0M868.6 338.9h0M868.8 337.6h0M868.9 334.5h0M869.0 340.2h0M869.1 336.8h0M869.3 323.9h0M869.4 325.5h0M869.5 328.0h0M869.6 323.7h0M869.7 323.6h0M869.9 327.6h0M870.0 329.3h0M870.1 331.0h0M870.2 324.7h0M870.3 326.7h0M870.5 328.3h0M870.6 329.6h0M870.7 325.1h0M870.8 328.7h0M871.0 330.6h0M871.1 334.3h0M871.2 336.2h0M871.3 337.6h0M871.4 329.6h0M871.6 332.5h0M871.7 327.7h0M871.8 326.6h0M871.9 322.1h0M872.0 330.2h0M872.2 330.5h0M872.3 333.1h0M872.4 338.1h0M872.5 334.8h0M872.7 334.0h0M872.8 334.1h0M872.9 328.1h0M873.0 328.9h0M873.1 328.6h0M873.3 326.3h0M873.4 326.3h0M873.5 324.1h0M873.6 324.7h0M873.7 327.4h0M873.9 333.7h0M874.0 332.8h0M874.1 334.5h0M874.2 332.5h0M874.4 331.7h0M874.5 336.6h0M874.6 332.5h0M874.7 327.8h0M874.8 328.2h0M875.0 331.3h0M875.1 335.5h0M875.2 328.6h0M875.3 323.5h0M875.4 326.8h0M875.6 324.9h0M875.7 330.9h0M875.8 321.5h0M875.9 323.1h0M876.1 323.5h0M876.2 321.1h0M876.3 327.3h0M876.4 325.2h0M876.5 327.2h0M876.7 330.6h0M876.8 323.0h0M876.9 327.2h0M877.0 321.7h0M877.1 323.3h0M877.3 328.8h0M877.4 330.9h0M877.5 332.4h0M877.6 328.7h0M877.8 333.5h0M877.9 333.4h0M878.0 333.2h0M879.0 303.0h0M879.1 308.9h0M879.2 306.2h0M879.4 309.8h0M879.5 308.8h0M879.6 308.8h0M879.7 302.9h0M879.9 297.0h0M880.0 302.4h0M880.1 301.8h0M880.2 303.1h0M880.3 301.7h0M880.5 304.8h0M880.6 303.3h0M880.7 289.6h0M880.8 286.9h0M881.0 287.5h0M881.1 289.7h0M881.2 291.2h0M881.3 286.9h0M881.4 295.3h0M881.6 295.3h0M881.7 301.9h0M881.8 301.6h0M881.9 301.4h0M882.1 301.1h0M882.2 300.9h0M882.3 300.7h0M882.4 300.2h0M882.5 300.2h0M882.7 299.9h0M882.8 295.5h0M882.9 299.4h0M883.0 289.5h0M883.2 285.6h0M883.3 287.7h0M883.4 291.6h0M883.5 285.1h0M883.6 283.3h0M883.8 283.0h0M883.9 289.2h0M884.0 286.1h0M884.1 283.7h0M884.3 290.9h0M884.4 294.5h0M884.5 292.3h0M884.6 290.7h0M884.7 297.2h0M884.9 297.2h0M885.0 297.2h0M885.1 297.2h0M885.2 297.2h0M885.4 297.2h0M885.5 296.7h0M885.6 297.2h0M885.7 297.2h0M885.8 293.2h0M886.0 286.0h0M886.1 297.2h0M886.2 295.8h0M886.3 297.2h0M886.5 288.3h0M886.6 297.2h0M886.7 297.2h0M886.8 297.2h0M886.9 297.2h0M887.1 297.2h0M887.2 296.1h0M887.3 297.2h0M887.4 297.2h0M887.5 284.3h0M887.7 291.4h0M887.8 293.8h0M887.9 294.8h0M888.0 297.3h0M888.2 286.2h0M888.3 277.9h0M888.4 290.9h0M888.5 295.6h0M888.6 288.1h0M888.8 292.1h0M888.9 297.6h0M889.0 294.9h0M889.1 297.5h0M889.3 297.8h0M889.4 297.8h0M889.5 297.9h0M889.6 296.2h0M889.7 289.3h0M889.9 292.3h0M890.0 292.8h0M890.1 286.2h0M890.2 285.3h0M890.4 296.9h0M890.5 291.5h0M890.6 288.4h0M890.7 286.2h0M890.8 290.8h0M891.0 297.0h0M891.1 292.3h0M891.2 290.5h0M891.3 296.2h0M891.5 295.0h0M891.6 288.4h0M891.7 292.1h0M891.8 294.6h0M891.9 293.0h0M892.1 283.4h0M892.2 288.1h0M892.3 292.2h0M892.4 294.9h0M892.6 287.6h0M892.7 298.0h0M892.8 294.4h0M892.9 298.6h0M893.0 285.2h0M893.2 292.9h0M893.3 292.9h0M893.4 279.6h0M893.5 279.8h0M893.7 289.1h0M893.8 293.7h0M893.9 289.9h0M894.0 292.8h0M894.1 285.0h0M894.3 285.7h0M894.4 283.0h0M894.5 286.5h0M894.6 291.0h0M894.8 291.9h0M894.9 298.2h0M895.0 297.9h0M899.0 301.3h0M899.1 302.1h0M899.2 299.8h0M899.4 301.4h0M899.5 302.3h0M899.6 300.8h0M899.7 300.6h0M899.9 298.2h0M900.0 299.1h0M900.1 302.0h0M900.2 299.1h0M900.3 292.6h0M900.5 295.1h0M900.6 294.2h0M900.7 296.1h0M900.8 295.5h0M901.0 299.0h0M901.1 296.5h0M901.2 296.3h0M901.3 298.3h0M901.4 294.6h0M901.6 293.1h0M901.7 291.7h0M901.8 291.6h0M901.9 291.6h0M902.0 293.3h0M902.2 292.1h0M902.3 291.4h0M902.4 291.4h0M902.5 291.3h0M902.7 291.3h0M902.8 291.2h0M902.9 291.2h0M903.0 291.1h0M903.1 291.1h0M903.3 291.0h0M903.4 291.0h0M903.5 291.0h0M903.6 293.1h0M903.8 291.7h0M903.9 290.8h0M904.0 290.8h0M904.1 291.5h0M904.2 291.8h0M904.4 291.5h0M904.5 289.4h0M904.6 289.6h0M904.7 291.0h0M904.9 289.6h0M905.0 292.8h0M905.1 294.3h0M905.2 292.8h0M905.3 290.5h0M905.5 290.4h0M905.6 290.6h0M905.7 286.3h0M905.8 285.9h0M906.0 285.5h0M906.1 285.2h0M906.2 287.1h0M906.3 293.6h0M906.4 292.2h0M906.6 290.3h0M906.7 290.3h0M906.8 287.3h0M906.9 288.5h0M907.0 289.8h0M907.2 292.5h0M907.3 284.8h0M907.4 283.8h0M907.5 283.9h0M907.7 280.6h0M907.8 278.7h0M907.9 277.3h0M908.0 276.6h0M908.1 275.9h0M908.3 277.7h0M908.4 276.9h0M908.5 274.5h0M908.6 281.4h0M908.8 281.8h0M908.9 284.4h0M909.0 279.7h0M909.1 280.7h0M909.2 281.2h0M909.4 283.3h0M909.5 284.8h0M909.6 282.1h0M909.7 280.0h0M909.9 278.5h0M910.0 278.0h0M910.1 276.7h0M910.2 274.9h0M910.3 282.5h0M910.5 280.4h0M910.6 276.2h0M910.7 280.4h0M910.8 280.1h0M911.0 275.7h0M911.1 278.7h0M911.2 275.1h0M911.3 273.9h0M911.4 273.7h0M911.6 271.7h0M911.7 269.0h0M911.8 270.6h0M911.9 264.9h0M912.0 267.4h0M912.2 268.0h0M912.3 268.9h0M912.4 265.5h0M912.5 271.8h0M912.7 267.0h0M912.8 267.3h0M912.9 265.8h0M913.0 266.9h0M913.1 264.4h0M913.3 262.2h0M913.4 265.5h0M913.5 261.7h0M913.6 263.0h0M913.8 263.3h0M913.9 261.0h0M914.0 263.7h0M914.0 244.9h0M914.1 240.7h0M914.3 249.3h0M914.4 249.9h0M914.5 251.1h0M914.7 248.9h0M914.8 247.2h0M914.9 251.5h0M915.0 246.4h0M915.2 244.6h0M915.3 240.4h0M915.4 241.3h0M915.6 242.7h0M915.7 243.6h0M915.8 242.0h0M916.0 239.4h0M916.1 243.4h0M916.2 246.3h0M916.3 243.9h0M916.5 247.6h0M916.6 246.4h0M916.7 241.2h0M916.9 240.9h0M917.0 242.4h0M921.0 250.6h0M921.1 247.7h0M921.2 250.7h0M921.4 246.7h0M921.5 250.6h0M921.6 246.9h0M921.7 246.5h0M921.9 248.0h0M922.0 249.8h0M922.1 250.5h0M922.2 248.4h0M922.4 250.5h0M922.5 243.5h0M922.6 244.0h0M922.7 245.8h0M922.8 244.0h0M923.0 241.2h0M923.1 239.8h0M923.2 244.3h0M923.3 246.7h0M923.5 242.6h0M923.6 246.9h0M923.7 242.6h0M923.8 244.8h0M924.0 238.8h0M924.1 238.4h0M924.2 237.7h0M924.3 240.7h0M924.4 239.6h0M924.6 240.4h0M924.7 241.7h0M924.8 235.8h0M924.9 248.4h0M925.1 241.0h0M925.2 239.3h0M925.3 232.2h0M925.4 234.5h0M925.6 241.4h0M925.7 243.1h0M925.8 239.1h0M925.9 232.8h0M926.0 233.1h0M926.2 236.7h0M926.3 240.3h0M926.4 234.2h0M926.5 232.0h0M926.7 232.6h0M926.8 231.4h0M926.9 234.9h0M927.0 229.4h0M927.2 228.0h0M927.3 227.9h0M927.4 231.0h0M927.5 227.7h0M927.6 227.7h0M927.8 227.6h0M927.9 229.0h0M928.0 228.3h0M928.1 229.4h0M928.3 227.3h0M928.4 228.7h0M928.5 229.8h0M928.6 229.6h0M928.8 227.3h0M928.9 226.9h0M929.0 228.8h0M562.5 277.5h0M137.5 458.8h0M137.3 462.5h0M236.3 362.3h0M337.6 233.8h0M312.4 192.4h0M324.0 303.0h0M324.3 309.0h0M304.0 305.0h0M305.5 278.0h0M306.0 271.0h0M306.2 264.0h0M543.0 339.0h0M628.4 352.0h0M628.4 357.0h0M628.4 362.0h0M733.6 198.0h0M662.4 168.0h0M756.6 264.5h0M757.2 269.0h0M757.0 274.0h0M757.4 279.0h0M757.5 290.0h0M758.0 300.0h0M758.0 306.0h0M758.5 314.0h0M758.5 320.0h0M759.0 328.0h0M896.4 310.0h0M896.4 316.0h0M896.4 322.0h0M896.4 331.0h0M916.4 218.0h0M916.4 223.0h0M916.6 234.0h0M917.6 298.6h0M928.4 195.0h0M929.0 188.0h0M929.2 184.0h0M929.3 172.0h0M929.3 167.0h0M930.0 158.0h0M930.3 152.0h0M938.2 56.2h0M647.0 360.2h0M647.3 354.4h0M647.6 349.4h0M648.1 346.4h0M648.2 339.9h0M648.9 335.8h0M649.1 329.9h0M649.4 326.3h0M649.4 320.5h0M649.5 314.9h0M649.9 310.8h0M650.4 306.4h0M651.2 301.1h0M650.7 295.9h0M651.8 291.5h0M651.7 286.2h0M652.2 281.0h0M653.2 276.1h0M653.2 272.6h0M653.4 266.9h0M653.9 262.1h0M653.9 257.2h0M655.0 251.0h0M655.2 247.5h0M655.1 244.1h0M655.8 236.6h0M656.0 233.2h0M656.3 228.3h0M656.6 223.4h0M657.4 217.5h0M650.1 334.3h0M650.4 328.6h0M650.3 325.5h0M651.7 322.9h0M650.5 315.3h0M652.2 308.9h0M651.8 307.2h0M653.3 303.7h0M652.5 297.5h0M652.9 295.7h0M653.2 288.4h0M654.1 284.0h0M654.0 277.9h0M654.5 274.3h0M602.3 293.7h0M601.8 294.9h0M602.1 296.4h0M602.9 297.3h0M602.3 298.3h0M309.8 199.5h0M311.2 202.1h0M311.8 206.7h0M311.1 205.4h0M312.2 208.0h0M312.1 208.8h0M313.0 211.0h0M311.7 211.9h0M196.8 382.6h0M196.9 385.4h0M197.2 389.0h0M196.8 391.0h0M196.6 392.6h0M196.2 397.2h0M195.7 400.3h0M195.8 402.9h0M196.2 405.6h0M473.1 304.3h0M473.6 310.9h0M472.9 312.8h0M472.8 315.7h0M473.3 319.7h0M472.7 323.1h0M472.4 326.2h0M473.3 331.0h0M473.1 334.8h0M472.2 338.1h0M472.2 342.0h0M473.8 319.7h0M473.3 324.2h0M474.8 329.3h0M473.5 335.3h0M474.7 338.5h0M473.9 344.4h0M562.7 299.5h0M563.6 302.8h0M563.2 307.1h0M563.2 310.5h0M562.9 313.3h0M564.1 318.0h0M563.5 322.4h0M563.1 325.8h0M563.6 330.0h0M563.2 334.2h0M563.9 338.8h0M563.4 341.5h0M562.5 346.9h0M565.0 314.9h0M564.8 322.0h0M565.0 328.3h0M564.5 335.1h0M564.1 340.7h0M565.0 346.9h0M506.8 341.5h0M505.5 343.0h0M506.3 346.4h0M506.0 350.4h0M790.5 293.7h0M791.3 300.5h0M791.2 305.2h0M791.0 308.4h0M791.3 313.6h0M790.8 319.8h0M791.4 324.3h0M791.1 328.0h0M791.2 332.4h0M791.7 337.2h0M793.7 302.3h0M794.6 305.1h0M794.2 310.9h0M793.9 314.1h0M793.8 320.7h0M794.1 324.6h0M794.1 330.2h0M794.4 331.3h0M794.2 336.0h0M696.4 203.6h0M700.3 205.5h0M698.6 206.2h0M700.7 208.6h0M700.0 210.0h0M920.0 287.8h0M920.3 284.7h0M919.5 282.4h0M919.7 280.5h0M919.5 276.7h0M920.1 272.9h0M921.0 273.2h0M920.0 270.0h0M920.4 264.0h0M920.4 264.0h0M920.3 260.5h0M920.2 258.8h0M934.1 150.4h0M932.6 151.6h0M932.0 148.8h0M930.4 150.9h0M934.0 149.7h0M933.7 148.3h0M933.1 147.5h0M932.6 147.5h0M934.9 147.8h0M932.9 145.9h0M932.2 148.4h0M933.7 146.0h0M932.6 144.1h0M933.0 146.3h0M932.6 144.5h0M932.9 144.6h0M931.2 143.8h0M932.2 144.9h0M932.3 144.1h0M935.3 142.6h0M932.6 142.9h0M933.4 140.9h0M934.1 144.5h0M933.2 141.2h0M931.5 139.4h0M931.3 136.8h0M934.2 136.1h0M934.0 138.1h0M933.2 136.0h0M935.1 134.2h0M932.4 131.9h0M933.2 134.4h0M934.2 130.6h0M932.3 130.2h0M933.7 129.7h0M933.6 129.4h0M933.2 128.1h0M933.8 127.1h0M934.2 128.6h0M934.4 125.5h0M931.9 125.0h0M931.7 121.9h0M934.9 123.6h0M933.8 119.7h0M936.2 101.3h0M936.6 102.4h0M936.5 97.4h0M936.0 96.2h0M936.5 93.2h0M936.6 91.3h0M937.1 91.7h0M937.2 88.2h0M937.0 86.7h0M936.7 84.6h0M936.4 81.6h0M937.3 80.9h0M937.1 80.2h0M936.4 76.5h0M937.2 75.8h0M937.0 74.5h0M937.3 70.4h0M936.9 70.5h0M937.6 65.9h0M938.0 66.5h0M938.0 63.6h0" stroke="#000" stroke-width="5.5" stroke-linecap="round" fill="none"/>
<path d="M121.0 472.6 121.5 471.9 122.0 472.2 122.5 472.8 123.0 473.7 123.5 473.7 124.0 475.0 124.5 474.3 125.0 474.5 125.5 473.9 126.0 473.1 126.5 473.7 127.0 474.3 127.5 474.6 128.0 474.7 128.5 474.4 129.0 474.0 129.5 474.2 130.0 475.0 130.5 475.8 131.0 473.0 131.5 474.6 132.0 475.9 132.5 476.7 133.0 476.5 133.5 476.6 134.0 475.9 134.5 475.8 135.0 476.3 135.5 475.3 136.0 475.1 136.5 475.8 137.0 475.0 137.5 475.8 138.0 475.0 138.5 475.9 139.0 476.3 139.5 476.1 140.0 475.8 140.5 475.9 141.0 474.7 141.5 474.9 142.0 475.1 142.5 475.7 143.0 474.4 143.5 473.7 144.0 474.2 144.5 474.5 145.0 472.5 145.5 471.8 146.0 470.9 146.5 469.2 147.0 466.6 147.5 464.6 148.0 464.2 148.5 464.7 149.0 462.4 149.5 463.2 150.0 463.8 150.5 461.7 151.0 461.1 151.5 462.4 152.0 462.7 152.5 462.5 153.0 461.9 153.5 462.1 154.0 461.2 154.5 463.2 155.0 461.3 155.5 459.8 156.0 460.6 156.5 462.0 157.0 461.2 157.5 461.1 158.0 460.3 158.5 460.6 159.0 460.0 159.5 459.7 160.0 459.1 160.5 459.8 161.0 462.0 161.5 461.8 162.0 461.9 162.5 463.6 163.0 462.4 163.5 461.5 164.0 462.3 164.5 461.4 165.0 462.3 165.5 463.4 166.0 462.3 166.5 462.3 167.0 464.1 167.5 462.9 168.0 462.7 168.5 463.3 169.0 463.3 169.5 463.0 170.0 464.8 170.5 463.6 171.0 463.5 171.5 462.8 172.0 462.4 172.5 461.1 173.0 462.1 173.5 461.3 174.0 462.2 174.5 460.5 175.0 460.0 175.5 460.4 176.0 460.1 176.5 458.3 177.0 457.1 177.5 455.0 178.0 454.4 178.5 451.3 179.0 451.4 179.5 451.7 180.0 450.9 180.5 450.9 181.0 449.8 181.5 449.9 182.0 449.1 182.5 448.9 183.0 448.6 183.5 445.9 184.0 447.7 184.5 448.2 185.0 448.6 185.5 447.4 186.0 447.9 186.5 448.2 187.0 446.3 187.5 445.8 188.0 447.0 188.5 447.1 189.0 447.7 189.5 447.6 190.0 449.3 190.5 447.6 191.0 447.1 191.5 447.3 192.0 447.1 192.5 447.7 193.0 448.5 193.5 447.9 194.0 449.0 194.5 450.4 195.0 451.0 195.5 452.1 196.0 452.0 196.5 451.1 197.0 452.2 197.5 452.0 198.0 452.8 198.5 451.7 199.0 449.7 199.5 449.5 200.0 450.5 200.5 451.4 201.0 451.4 201.5 452.4 202.0 451.3 202.5 451.1 203.0 452.4 203.5 452.5 204.0 452.6 204.5 452.9 205.0 452.6 205.5 450.6 206.0 450.1 206.5 448.0 207.0 447.9 207.5 447.9 208.0 445.9 208.5 447.1 209.0 447.8 209.5 446.0 210.0 444.7 210.5 443.9 211.0 441.5 211.5 440.6 212.0 438.9 212.5 437.0 213.0 436.3 213.5 436.1 214.0 437.1 214.5 436.7 215.0 437.1 215.5 436.0 216.0 434.6 216.5 436.6 217.0 438.1 217.5 437.0 218.0 435.9 218.5 436.4 219.0 434.8 219.5 434.6 220.0 433.5 220.5 434.4 221.0 434.7 221.5 434.2 222.0 433.7 222.5 432.8 223.0 432.8 223.5 434.3 224.0 433.8 224.5 434.6 225.0 433.2 225.5 432.9 226.0 432.3 226.5 432.0 227.0 432.5 227.5 430.4 228.0 431.4 228.5 431.7 229.0 431.1 229.5 430.8 230.0 430.2 230.5 430.4 231.0 429.9 231.5 428.8 232.0 428.9 232.5 429.3 233.0 428.8 233.5 428.1 234.0 427.7 234.5 426.7 235.0 426.0 235.5 424.4 236.0 424.6 236.5 425.5 237.0 424.7 237.5 423.6 238.0 424.3 238.5 422.8 239.0 421.3 239.5 420.0 240.0 418.8 240.5 416.9 241.0 414.5 241.5 414.6 242.0 412.6 242.5 410.2 243.0 409.0 243.5 408.4 244.0 405.4 244.5 405.2 245.0 403.3 245.5 403.2 246.0 401.4 246.5 400.3 247.0 400.7 247.5 400.8 248.0 399.4 248.5 399.0 249.0 398.0 249.5 398.5 250.0 396.8 250.5 396.8 251.0 395.1 251.5 396.2 252.0 394.4 252.5 394.3 253.0 395.1 253.5 394.8 254.0 394.5 254.5 393.8 255.0 393.7 255.5 392.5 256.0 393.3 256.5 394.0 257.0 394.1 257.5 393.5 258.0 393.9 258.5 393.4 259.0 393.4 259.5 392.8 260.0 392.1 260.5 391.0 261.0 388.8 261.5 390.1 262.0 390.0 262.5 391.4 263.0 388.9 263.5 389.7 264.0 388.6 264.5 388.6 265.0 387.8 265.5 388.1 266.0 387.9 266.5 387.6 267.0 386.4 267.5 385.6 268.0 385.3 268.5 384.1 269.0 382.5 269.5 382.2 270.0 380.5 270.5 379.6 271.0 378.1 271.5 376.5 272.0 373.4 272.5 373.2 273.0 370.7 273.5 369.9 274.0 369.4 274.5 365.7 275.0 364.5 275.5 362.2 276.0 360.5 276.5 357.3 277.0 355.7 277.5 354.0 278.0 353.1 278.5 353.1 279.0 351.2 279.5 349.1 280.0 349.6 280.5 347.4 281.0 345.8 281.5 344.6 282.0 343.7 282.5 342.9 283.0 341.0 283.5 339.8 284.0 340.2 284.5 339.7 285.0 338.0 285.5 336.4 286.0 334.7 286.5 334.3 287.0 332.3 287.5 331.3 288.0 329.7 288.5 328.5 289.0 328.0 289.5 327.3 290.0 326.1 290.5 325.5 291.0 324.8 291.5 323.7 292.0 322.5 292.5 321.9 293.0 321.8 293.5 321.7 294.0 320.5 294.5 319.1 295.0 318.2 295.5 318.8 296.0 317.9 296.5 315.6 297.0 314.7 297.5 313.5 298.0 312.5 298.5 309.8 299.0 308.9 299.5 306.6 300.0 305.2 300.5 305.3 301.0 304.1 301.5 301.2 302.0 298.8 302.5 296.9 303.0 294.3 303.5 292.9 304.0 291.9 304.5 289.9 305.0 289.4 305.5 287.7 306.0 285.6 306.5 285.4 307.0 283.7 307.5 281.4 308.0 280.8 308.5 279.2 309.0 276.0 309.5 274.3 310.0 271.9 310.5 269.7 311.0 270.6 311.5 270.1 312.0 267.2 312.5 266.5 313.0 263.9 313.5 264.1 314.0 262.8 314.5 261.4 315.0 261.3 315.5 259.7 316.0 258.1 316.5 258.0 317.0 256.6 317.5 256.4 318.0 255.3 318.5 255.0 319.0 254.3 319.5 253.7 320.0 251.6 320.5 252.4 321.0 250.8 321.5 251.1 322.0 249.0 322.5 248.3 323.0 249.2 323.5 251.4 324.0 251.9 324.5 253.4 325.0 253.2 325.5 254.5 326.0 256.3 326.5 257.5 327.0 257.3 327.5 259.7 328.0 260.3 328.5 263.5 329.0 264.0 329.5 266.8 330.0 267.6 330.5 268.0 331.0 267.8 331.5 268.4 332.0 269.6 332.5 268.7 333.0 270.9 333.5 270.8 334.0 271.8 334.5 270.8 335.0 273.1 335.5 272.6 336.0 271.3 336.5 269.9 337.0 267.9 337.5 269.1 338.0 271.0 338.5 271.2 339.0 272.5 339.5 273.9 340.0 274.3 340.5 275.3 341.0 276.4 341.5 276.8 342.0 279.8 342.5 279.6 343.0 281.7 343.5 282.7 344.0 281.3 344.5 282.9 345.0 284.8 345.5 286.0 346.0 285.8 346.5 287.1 347.0 287.1 347.5 287.8 348.0 289.2 348.5 291.2 349.0 294.2 349.5 295.4 350.0 297.3 350.5 297.2 351.0 298.0 351.5 299.6 352.0 302.9 352.5 302.9 353.0 303.5 353.5 305.7 354.0 308.5 354.5 308.5 355.0 310.3 355.5 311.1 356.0 314.4 356.5 316.8 357.0 318.6 357.5 320.3 358.0 322.0 358.5 324.1 359.0 325.6 359.5 327.1 360.0 328.7 360.5 331.3 361.0 333.0 361.5 336.2 362.0 336.5 362.5 339.7 363.0 342.3 363.5 345.1 364.0 346.4 364.5 346.7 365.0 348.1 365.5 351.3 366.0 352.6 366.5 354.0 367.0 355.4 367.5 355.1 368.0 354.6 368.5 353.1 369.0 352.8 369.5 355.8 370.0 358.5 370.5 359.4 371.0 360.3 371.5 363.0 372.0 364.0 372.5 364.5 373.0 366.3 373.5 368.7 374.0 371.4 374.5 371.5 375.0 372.9 375.5 373.6 376.0 375.6 376.5 376.5 377.0 377.6 377.5 377.7 378.0 378.8 378.5 380.0 379.0 378.6 379.5 381.9 380.0 383.5 380.5 384.9 381.0 386.2 381.5 387.8 382.0 389.4 382.5 389.7 383.0 391.6 383.5 393.2 384.0 394.6 384.5 394.8 385.0 396.6 385.5 397.3 386.0 399.6 386.5 402.2 387.0 403.8 387.5 404.3 388.0 405.1 388.5 406.1 389.0 408.0 389.5 408.8 390.0 410.0 390.5 409.7 391.0 411.5 391.5 413.1 392.0 414.8 392.5 417.3 393.0 416.9 393.5 417.2 394.0 419.4 394.5 419.7 395.0 420.9 395.5 422.3 396.0 423.3 396.5 423.6 397.0 425.6 397.5 427.5 398.0 426.9 398.5 425.5 399.0 425.1 399.5 423.4 400.0 421.3 400.5 422.1 401.0 423.8 401.5 423.6 402.0 424.9 402.5 426.0 403.0 426.1 403.5 427.5 404.0 428.7 404.5 429.9 405.0 430.8 405.5 429.8 406.0 431.5 406.5 432.5 407.0 433.6 407.5 433.2 408.0 434.7 408.5 435.4 409.0 434.9 409.5 437.0 410.0 436.8 410.5 436.8 411.0 438.3 411.5 438.7 412.0 440.0 412.5 440.6 413.0 441.8 413.5 443.2 414.0 443.6 414.5 445.0 415.0 446.1 415.5 445.7 416.0 447.2 416.5 448.2 417.0 448.8 417.5 450.2 418.0 451.8 418.5 452.3 419.0 451.2 419.5 452.5 420.0 453.1 420.5 453.8 421.0 455.0 421.5 455.4 422.0 457.6 422.5 458.1 423.0 458.5 423.5 459.8 424.0 460.8 424.5 462.0 425.0 462.6 425.5 462.8 426.0 463.4 426.5 460.0 427.0 458.1 427.5 458.4 428.0 456.7 428.5 456.8 429.0 456.1 429.5 452.4 430.0 450.9 430.5 451.4 431.0 447.8 431.5 446.2 432.0 444.0 432.5 442.0 433.0 440.1 433.5 438.6 434.0 437.5 434.5 436.0 435.0 435.9 435.5 434.6 436.0 434.6 436.5 434.1 437.0 432.7 437.5 432.4 438.0 431.2 438.5 430.2 439.0 430.9 439.5 428.7 440.0 429.0 440.5 429.0 441.0 427.7 441.5 428.0 442.0 427.7 442.5 425.5 443.0 425.5 443.5 425.1 444.0 423.7 444.5 423.9 445.0 423.9 445.5 422.5 446.0 420.5 446.5 421.2 447.0 420.4 447.5 419.0 448.0 419.2 448.5 417.4 449.0 417.9 449.5 419.4 450.0 416.5 450.5 417.4 451.0 416.6 451.5 416.3 452.0 415.6 452.5 416.2 453.0 415.8 453.5 414.7 454.0 413.6 454.5 413.4 455.0 414.4 455.5 412.1 456.0 411.7 456.5 410.8 457.0 408.0 457.5 408.4 458.0 407.2 458.5 407.8 459.0 407.2 459.5 404.7 460.0 403.0 460.5 400.9 461.0 398.9 461.5 399.1 462.0 397.8 462.5 395.6 463.0 393.7 463.5 392.4 464.0 391.0 464.5 388.5 465.0 386.1 465.5 384.2 466.0 383.7 466.5 380.8 467.0 379.9 467.5 380.5 468.0 380.3 468.5 380.9 469.0 381.1 469.5 381.5 470.0 379.3 470.5 379.1 471.0 378.1 471.5 378.3 472.0 377.6 472.5 377.6 473.0 376.1 473.5 375.9 474.0 375.0 474.5 374.6 475.0 374.0 475.5 373.0 476.0 374.0 476.5 373.7 477.0 373.9 477.5 372.2 478.0 370.4 478.5 371.0 479.0 371.9 479.5 373.2 480.0 374.3 480.5 375.2 481.0 376.0 481.5 376.0 482.0 375.6 482.5 374.9 483.0 375.8 483.5 375.6 484.0 375.3 484.5 376.5 485.0 376.9 485.5 377.8 486.0 377.2 486.5 378.6 487.0 378.8 487.5 378.6 488.0 378.2 488.5 377.9 489.0 377.7 489.5 380.0 490.0 379.0 490.5 379.4 491.0 378.6 491.5 377.6 492.0 376.8 492.5 376.4 493.0 376.7 493.5 376.3 494.0 375.3 494.5 373.3 495.0 371.7 495.5 373.5 496.0 371.8 496.5 370.2 497.0 371.2 497.5 370.1 498.0 371.5 498.5 372.5 499.0 372.5 499.5 373.2 500.0 371.8 500.5 371.4 501.0 372.1 501.5 372.7 502.0 373.0 502.5 373.8 503.0 373.3 503.5 372.0 504.0 373.5 504.5 373.9 505.0 375.1 505.5 376.8 506.0 376.1 506.5 376.3 507.0 375.4 507.5 376.4 508.0 376.6 508.5 376.9 509.0 377.8 509.5 376.8 510.0 377.8 510.5 378.4 511.0 379.8 511.5 378.0 512.0 378.6 512.5 381.0 513.0 380.3 513.5 380.1 514.0 381.9 514.5 383.6 515.0 382.8 515.5 381.9 516.0 381.7 516.5 381.9 517.0 381.8 517.5 382.0 518.0 383.1 518.5 383.7 519.0 384.6 519.5 384.8 520.0 384.2 520.5 384.6 521.0 384.1 521.5 383.0 522.0 382.3 522.5 382.2 523.0 381.6 523.5 380.9 524.0 381.0 524.5 380.9 525.0 379.5 525.5 378.8 526.0 377.2 526.5 376.7 527.0 376.6 527.5 376.5 528.0 375.5 528.5 374.5 529.0 373.1 529.5 372.7 530.0 371.1 530.5 371.6 531.0 371.8 531.5 371.1 532.0 371.7 532.5 371.5 533.0 372.1 533.5 371.5 534.0 371.9 534.5 373.0 535.0 372.4 535.5 372.6 536.0 371.5 536.5 371.1 537.0 369.7 537.5 370.3 538.0 369.8 538.5 370.6 539.0 369.2 539.5 369.4 540.0 370.2 540.5 370.9 541.0 369.6 541.5 369.8 542.0 372.3 542.5 372.2 543.0 371.6 543.5 368.9 544.0 369.0 544.5 370.1 545.0 370.5 545.5 370.8 546.0 371.4 546.5 370.9 547.0 371.3 547.5 369.3 548.0 371.7 548.5 370.7 549.0 369.9 549.5 371.2 550.0 371.1 550.5 370.5 551.0 368.5 551.5 367.7 552.0 367.3 552.5 365.1 553.0 364.3 553.5 363.5 554.0 362.6 554.5 361.4 555.0 359.9 555.5 360.0 556.0 359.5 556.5 359.6 557.0 358.2 557.5 356.6 558.0 354.7 558.5 355.0 559.0 354.6 559.5 356.1 560.0 356.9 560.5 356.5 561.0 354.1 561.5 352.3 562.0 352.1 562.5 351.2 563.0 352.5 563.5 351.8 564.0 350.9 564.5 350.9 565.0 351.9 565.5 350.6 566.0 351.1 566.5 349.8 567.0 350.0 567.5 349.8 568.0 350.4 568.5 350.5 569.0 351.4 569.5 351.5 570.0 350.4 570.5 349.3 571.0 349.1 571.5 349.2 572.0 349.5 572.5 349.1 573.0 350.4 573.5 350.9 574.0 350.2 574.5 349.6 575.0 349.5 575.5 349.5 576.0 349.6 576.5 348.3 577.0 348.5 577.5 347.5 578.0 348.4 578.5 349.4 579.0 348.5 579.5 349.0 580.0 348.6 580.5 348.3 581.0 350.2 581.5 350.3 582.0 350.1 582.5 348.3 583.0 347.6 583.5 346.3 584.0 345.7 584.5 343.8 585.0 343.1 585.5 342.0 586.0 340.1 586.5 341.2 587.0 340.6 587.5 338.6 588.0 336.5 588.5 335.6 589.0 334.6 589.5 333.8 590.0 332.2 590.5 332.0 591.0 332.4 591.5 332.7 592.0 330.7 592.5 331.1 593.0 330.3 593.5 329.6 594.0 329.7 594.5 329.2 595.0 329.9 595.5 330.0 596.0 329.1 596.5 328.6 597.0 330.4 597.5 331.5 598.0 330.9 598.5 330.2 599.0 330.9 599.5 331.6 600.0 330.5 600.5 331.8 601.0 331.0 601.5 331.6 602.0 330.7 602.5 330.8 603.0 330.5 603.5 330.8 604.0 331.8 604.5 331.5 605.0 332.2 605.5 333.7 606.0 334.0 606.5 336.6 607.0 335.5 607.5 338.5 608.0 337.9 608.5 339.3 609.0 340.9 609.5 341.3 610.0 340.3 610.5 341.1 611.0 342.2 611.5 343.5 612.0 345.0 612.5 345.8 613.0 346.7 613.5 345.5 614.0 346.6 614.5 345.1 615.0 346.1 615.5 345.9 616.0 345.4 616.5 347.5 617.0 348.0 617.5 349.3 618.0 348.1 618.5 346.8 619.0 346.7 619.5 345.8 620.0 345.6 620.5 344.5 621.0 343.9 621.5 342.5 622.0 343.4 622.5 343.2 623.0 342.5 623.5 343.8 624.0 344.4 624.5 344.6 625.0 344.9 625.5 344.6 626.0 344.8 626.5 343.4 627.0 343.3 627.5 343.6 628.0 345.1 628.5 345.3 629.0 343.6 629.5 342.1 630.0 341.8 630.5 339.9 631.0 339.1 631.5 337.9 632.0 335.3 632.5 334.6 633.0 333.6 633.5 331.4 634.0 329.7 634.5 328.1 635.0 328.7 635.5 329.1 636.0 327.5 636.5 327.0 637.0 323.8 637.5 323.8 638.0 323.8 638.5 322.9 639.0 319.9 639.5 319.4 640.0 317.7 640.5 317.2 641.0 315.1 641.5 313.9 642.0 312.4 642.5 311.9 643.0 310.6 643.5 310.4 644.0 309.5 644.5 308.2 645.0 306.6 645.5 305.1 646.0 304.0 646.5 302.9 647.0 301.1 647.5 299.5 648.0 297.5 648.5 295.7 649.0 293.5 649.5 290.5 650.0 290.2 650.5 289.2 651.0 286.7 651.5 286.9 652.0 283.7 652.5 282.6 653.0 280.5 653.5 278.5 654.0 277.2 654.5 275.4 655.0 272.7 655.5 269.5 656.0 266.8 656.5 265.5 657.0 265.0 657.5 263.3 658.0 260.6 658.5 259.8 659.0 259.4 659.5 259.6 660.0 257.3 660.5 257.0 661.0 256.1 661.5 254.5 662.0 253.0 662.5 253.8 663.0 253.0 663.5 251.9 664.0 251.1 664.5 251.1 665.0 250.0 665.5 250.3 666.0 248.6 666.5 246.7 667.0 245.7 667.5 244.1 668.0 243.3 668.5 243.6 669.0 243.7 669.5 242.4 670.0 240.9 670.5 238.7 671.0 237.0 671.5 236.8 672.0 236.0 672.5 234.6 673.0 233.4 673.5 234.0 674.0 233.3 674.5 231.7 675.0 230.6 675.5 230.3 676.0 229.0 676.5 227.7 677.0 225.1 677.5 223.2 678.0 221.5 678.5 219.9 679.0 220.4 679.5 220.4 680.0 219.0 680.5 219.2 681.0 218.9 681.5 218.0 682.0 216.1 682.5 217.1 683.0 217.2 683.5 215.4 684.0 216.1 684.5 214.6 685.0 212.8 685.5 212.7 686.0 211.5 686.5 212.1 687.0 211.5 687.5 213.5 688.0 213.8 688.5 212.7 689.0 213.8 689.5 212.5 690.0 213.4 690.5 214.6 691.0 215.1 691.5 214.6 692.0 215.5 692.5 216.1 693.0 216.8 693.5 218.6 694.0 220.0 694.5 220.8 695.0 219.7 695.5 219.2 696.0 219.9 696.5 220.8 697.0 219.5 697.5 220.2 698.0 222.8 698.5 221.9 699.0 222.1 699.5 222.5 700.0 223.9 700.5 224.3 701.0 224.5 701.5 223.8 702.0 225.3 702.5 225.8 703.0 225.7 703.5 226.4 704.0 227.6 704.5 226.6 705.0 226.1 705.5 226.5 706.0 227.1 706.5 225.7 707.0 227.3 707.5 229.6 708.0 229.8 708.5 231.2 709.0 229.0 709.5 229.8 710.0 231.4 710.5 232.3 711.0 231.0 711.5 230.0 712.0 230.5 712.5 229.3 713.0 229.4 713.5 228.3 714.0 229.2 714.5 228.9 715.0 229.8 715.5 228.9 716.0 227.2 716.5 226.5 717.0 224.9 717.5 224.8 718.0 224.2 718.5 224.1 719.0 224.2 719.5 221.5 720.0 221.6 720.5 222.9 721.0 222.2 721.5 224.7 722.0 224.0 722.5 226.5 723.0 226.7 723.5 227.2 724.0 227.1 724.5 227.9 725.0 226.9 725.5 226.8 726.0 226.0 726.5 227.9 727.0 228.1 727.5 229.7 728.0 230.6 728.5 230.5 729.0 232.8 729.5 234.3 730.0 235.6 730.5 237.2 731.0 238.3 731.5 239.5 732.0 241.6 732.5 241.7 733.0 242.2 733.5 243.5 734.0 246.2 734.5 247.4 735.0 250.5 735.5 248.7 736.0 250.5 736.5 252.4 737.0 254.6 737.5 257.4 738.0 258.3 738.5 258.8 739.0 261.3 739.5 263.9 740.0 262.7 740.5 264.9 741.0 266.5 741.5 266.9 742.0 268.0 742.5 269.7 743.0 271.0 743.5 270.7 744.0 269.8 744.5 270.4 745.0 270.0 745.5 270.3 746.0 269.9 746.5 271.2 747.0 272.8 747.5 273.6 748.0 274.8 748.5 274.3 749.0 276.0 749.5 277.2 750.0 277.6 750.5 278.7 751.0 277.5 751.5 279.8 752.0 281.0 752.5 280.7 753.0 283.2 753.5 284.6 754.0 286.9 754.5 288.4 755.0 290.5 755.5 292.0 756.0 293.3 756.5 295.3 757.0 297.4 757.5 296.7 758.0 299.0 758.5 300.4 759.0 301.5 759.5 304.8 760.0 307.0 760.5 307.4 761.0 308.5 761.5 311.5 762.0 312.7 762.5 314.5 763.0 314.9 763.5 317.5 764.0 320.8 764.5 322.0 765.0 323.8 765.5 327.1 766.0 329.0 766.5 331.3 767.0 332.7 767.5 334.7 768.0 334.3 768.5 335.7 769.0 336.6 769.5 341.1 770.0 342.6 770.5 343.5 771.0 344.0 771.5 344.8 772.0 344.3 772.5 348.8 773.0 349.8 773.5 351.1 774.0 351.2 774.5 353.0 775.0 354.8 775.5 356.1 776.0 357.9 776.5 358.3 777.0 360.0 777.5 360.7 778.0 360.8 778.5 360.7 779.0 360.3 779.5 359.3 780.0 360.1 780.5 359.7 781.0 359.1 781.5 359.8 782.0 358.2 782.5 358.0 783.0 358.9 783.5 359.3 784.0 358.3 784.5 358.0 785.0 358.1 785.5 357.5 786.0 356.5 786.5 357.0 787.0 356.9 787.5 356.8 788.0 357.5 788.5 357.2 789.0 356.3 789.5 356.3 790.0 357.7 790.5 356.2 791.0 355.7 791.5 355.0 792.0 355.5 792.5 354.4 793.0 355.2 793.5 355.7 794.0 354.7 794.5 354.1 795.0 353.2 795.5 353.9 796.0 353.3 796.5 353.3 797.0 353.4 797.5 353.2 798.0 354.3 798.5 355.4 799.0 352.9 799.5 352.6 800.0 353.3 800.5 352.5 801.0 352.5 801.5 353.0 802.0 354.2 802.5 354.6 803.0 353.5 803.5 352.3 804.0 350.8 804.5 349.6 805.0 347.7 805.5 345.7 806.0 345.3 806.5 345.7 807.0 345.2 807.5 342.3 808.0 341.6 808.5 340.4 809.0 340.0 809.5 338.2 810.0 338.3 810.5 337.0 811.0 336.4 811.5 336.3 812.0 333.7 812.5 333.4 813.0 334.4 813.5 333.4 814.0 333.5 814.5 332.7 815.0 331.2 815.5 330.8 816.0 331.0 816.5 331.4 817.0 331.7 817.5 329.6 818.0 330.1 818.5 328.5 819.0 328.6 819.5 328.5 820.0 329.0 820.5 329.0 821.0 329.7 821.5 328.4 822.0 328.9 822.5 328.7 823.0 328.2 823.5 326.9 824.0 327.6 824.5 327.6 825.0 328.0 825.5 327.4 826.0 326.9 826.5 327.0 827.0 327.1 827.5 327.2 828.0 328.2 828.5 326.6 829.0 327.8 829.5 324.3 830.0 325.7 830.5 324.8 831.0 326.6 831.5 325.1 832.0 325.8 832.5 324.2 833.0 323.0 833.5 323.8 834.0 324.0 834.5 322.7 835.0 324.3 835.5 322.7 836.0 323.2 836.5 321.1 837.0 319.9 837.5 320.0 838.0 318.9 838.5 319.3 839.0 317.2 839.5 316.8 840.0 315.3 840.5 313.6 841.0 312.9 841.5 311.6 842.0 310.0 842.5 309.6 843.0 308.2 843.5 306.9 844.0 306.3 844.5 305.4 845.0 305.5 845.5 304.4 846.0 304.6 846.5 304.5 847.0 303.4 847.5 302.0 848.0 301.3 848.5 301.1 849.0 302.1 849.5 301.9 850.0 301.6 850.5 302.1 851.0 302.4 851.5 303.1 852.0 301.8 852.5 302.0 853.0 302.1 853.5 300.8 854.0 300.9 854.5 300.1 855.0 300.2 855.5 300.7 856.0 299.1 856.5 299.0 857.0 298.9 857.5 299.5 858.0 299.1 858.5 299.7 859.0 299.0 859.5 298.8 860.0 299.6 860.5 299.7 861.0 299.5 861.5 299.2 862.0 299.9 862.5 300.4 863.0 299.2 863.5 298.3 864.0 297.5 864.5 299.3 865.0 298.0 865.5 296.9 866.0 297.6 866.5 297.6 867.0 295.2 867.5 294.4 868.0 292.4 868.5 291.4 869.0 292.3 869.5 291.0 870.0 289.5 870.5 288.5 871.0 287.6 871.5 286.4 872.0 284.3 872.5 282.7 873.0 284.0 873.5 281.9 874.0 281.9 874.5 280.4 875.0 281.0 875.5 280.6 876.0 279.4 876.5 280.3 877.0 278.2 877.5 277.4 878.0 276.3 878.5 275.5 879.0 275.2 879.5 274.3 880.0 274.1 880.5 275.7 881.0 273.8 881.5 273.1 882.0 272.9 882.5 273.2 883.0 274.5 883.5 274.8 884.0 274.7 884.5 274.4 885.0 276.0 885.5 273.8 886.0 272.7 886.5 272.9 887.0 273.2 887.5 272.9 888.0 272.2 888.5 271.4 889.0 271.8 889.5 271.5 890.0 271.6 890.5 271.0 891.0 272.6 891.5 272.7 892.0 273.8 892.5 272.4 893.0 272.1 893.5 271.6 894.0 271.5 894.5 271.2 895.0 271.0 895.5 269.4 896.0 269.9 896.5 270.4 897.0 268.3 897.5 268.2 898.0 268.7 898.5 269.2 899.0 268.1 899.5 267.7 900.0 268.2 900.5 267.9 901.0 266.0 901.5 264.6 902.0 265.0 902.5 264.2 903.0 263.0 903.5 262.3 904.0 262.1 904.5 260.6 905.0 259.2 905.5 257.9 906.0 255.6 906.5 256.4 907.0 255.8 907.5 255.2 908.0 252.9 908.5 252.0 909.0 251.7 909.5 251.5 910.0 249.1 910.5 249.3 911.0 248.1 911.5 248.3 912.0 247.9 912.5 249.5 913.0 249.4 913.5 248.8 914.0 249.5 914.5 248.7 915.0 247.6 915.5 247.5 916.0 247.2 916.5 247.3 917.0 247.9 917.5 247.4 918.0 247.1 918.5 247.7 919.0 247.4 919.5 247.7 920.0 247.1 920.5 245.6 921.0 244.9 921.5 244.1 922.0 245.8 922.5 246.0 923.0 245.4 923.5 244.6 924.0 245.2 924.5 245.0 925.0 245.2 925.5 244.3 926.0 243.6 926.5 245.3 927.0 244.1 927.5 243.7 928.0 244.3 928.5 241.8 929.0 242.3 929.5 241.8 930.0 241.0 930.5 240.7 931.0 239.1 931.5 237.2 932.0 239.2 932.5 238.2 933.0 238.4 933.5 238.4 934.0 237.4 934.5 236.8 935.0 235.6 935.5 234.9 936.0 233.0 936.5 232.0 937.0 229.5 937.5 227.4 938.0 226.1 938.5 225.7 939.0 225.4 939.5 226.0 940.0 225.1 940.5 223.7 941.0 224.3 941.5 222.9 942.0 221.9 942.5 221.2 943.0 219.9" stroke="#0072B2" stroke-width="2.08" fill="none" stroke-linejoin="round" stroke-linecap="square"/>
<path d="M941.6 222.3L943 218.6" stroke="#0072B2" stroke-width="4.6" stroke-linecap="round" fill="none"/>
<g fill="#f00" fill-opacity="0.55"><circle cx="941.2" cy="39.2" r="2.8"/><circle cx="941.2" cy="39.2" r="1.8"/><circle cx="941.2" cy="44.2" r="2.8"/><circle cx="941.2" cy="44.2" r="1.8"/><circle cx="940.9" cy="48.2" r="2.8"/><circle cx="940.9" cy="48.2" r="1.8"/><circle cx="939.7" cy="62.4" r="2.8"/><circle cx="939.7" cy="62.4" r="1.8"/><circle cx="940.7" cy="64.1" r="2.8"/><circle cx="940.7" cy="64.1" r="1.8"/><circle cx="940.5" cy="65.0" r="2.8"/><circle cx="940.5" cy="65.0" r="1.8"/><circle cx="940.0" cy="65.7" r="2.8"/><circle cx="940.0" cy="65.7" r="1.8"/><circle cx="939.9" cy="68.2" r="2.8"/><circle cx="939.9" cy="68.2" r="1.8"/><circle cx="939.6" cy="69.4" r="2.8"/><circle cx="939.6" cy="69.4" r="1.8"/><circle cx="940.2" cy="69.6" r="2.8"/><circle cx="940.2" cy="69.6" r="1.8"/><circle cx="940.0" cy="71.0" r="2.8"/><circle cx="940.0" cy="71.0" r="1.8"/><circle cx="940.2" cy="72.2" r="2.8"/><circle cx="940.2" cy="72.2" r="1.8"/><circle cx="940.0" cy="73.5" r="2.8"/><circle cx="940.0" cy="73.5" r="1.8"/><circle cx="939.9" cy="74.2" r="2.8"/><circle cx="939.9" cy="74.2" r="1.8"/></g>
<path d="M152.5 542.5v4.9M278.5 542.5v4.9M404.5 542.5v4.9M530.5 542.5v4.9M657.5 542.5v4.9M783.5 542.5v4.9M909.5 542.5v4.9M80.5 503.5h-4.9M80.5 431.5h-4.9M80.5 359.5h-4.9M80.5 287.5h-4.9M80.5 215.5h-4.9M80.5 143.5h-4.9M80.5 71.5h-4.9" stroke="#000" stroke-width="1.1" fill="none"/>
<rect x="80.5" y="15.5" width="905.0" height="527.0" fill="none" stroke="#000" stroke-width="1.1"/>
<text x="152.5" y="562.2" text-anchor="middle">2001</text><text x="278.5" y="562.2" text-anchor="middle">2005</text><text x="404.5" y="562.2" text-anchor="middle">2009</text><text x="530.5" y="562.2" text-anchor="middle">2013</text><text x="657.5" y="562.2" text-anchor="middle">2017</text><text x="783.5" y="562.2" text-anchor="middle">2021</text><text x="909.5" y="562.2" text-anchor="middle">2025</text>
<text x="69.6" y="508.6" text-anchor="end">0</text><text x="69.6" y="436.6" text-anchor="end">250</text><text x="69.6" y="364.6" text-anchor="end">500</text><text x="69.6" y="292.6" text-anchor="end">750</text><text x="69.6" y="220.6" text-anchor="end">1000</text><text x="69.6" y="148.6" text-anchor="end">1250</text><text x="69.6" y="76.6" text-anchor="end">1500</text>
<text x="532.5" y="582.6" text-anchor="middle">ds</text>
<text transform="translate(26.3,279) rotate(-90)" text-anchor="middle">y</text>
</svg>
</body></html>
